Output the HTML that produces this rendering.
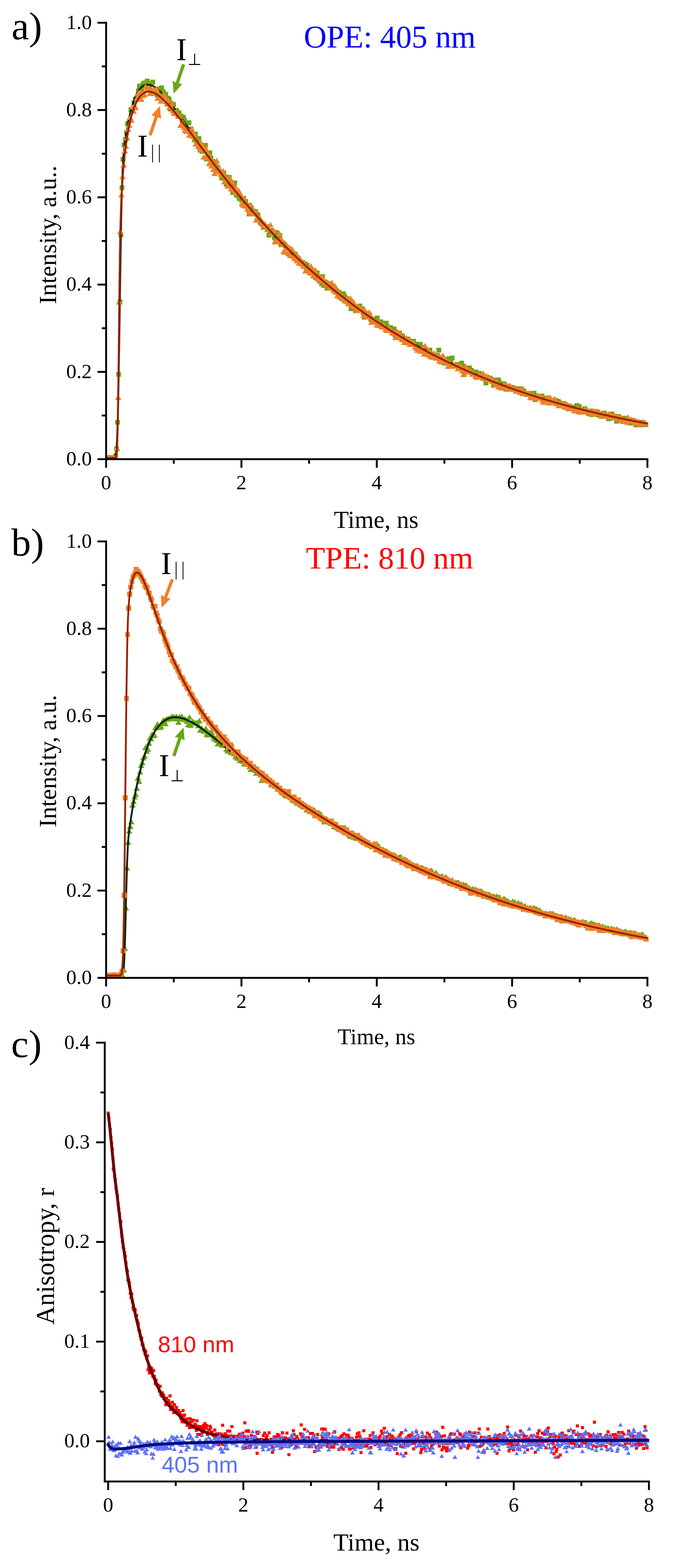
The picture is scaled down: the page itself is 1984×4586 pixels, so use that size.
<!DOCTYPE html><html><head><meta charset="utf-8"><title>Fluorescence decays and anisotropy</title><style>html,body{margin:0;padding:0;background:#fff}svg{display:block}.tk{font-family:'Liberation Serif','Times New Roman',serif;font-size:60px;fill:#000}</style></head><body>
<svg width="1984" height="4586" viewBox="0 0 1984 4586">
<rect width="1984" height="4586" fill="#fff"/>
<defs><clipPath id="cA"><rect x="310.5" y="40" width="1620" height="1303"/></clipPath><clipPath id="cB"><rect x="310.5" y="1560" width="1620" height="1300"/></clipPath><clipPath id="cC"><rect x="306.5" y="3020" width="1620" height="1312"/></clipPath></defs>
<g clip-path="url(#cA)">
<path fill="#6aa616" shape-rendering="crispEdges" d="M305.1 1332.2h14v14h-14zM308.3 1330.9h14v14h-14zM311.5 1331.0h14v14h-14zM314.7 1332.7h14v14h-14zM317.9 1332.5h14v14h-14zM321.1 1332.7h14v14h-14zM324.3 1331.6h14v14h-14zM327.5 1331.4h14v14h-14zM330.7 1325.5h14v14h-14zM334.0 1306.0h14v14h-14zM337.2 1228.2h14v14h-14zM340.4 1088.1h14v14h-14zM343.6 875.8h14v14h-14zM346.8 680.3h14v14h-14zM350.0 542.3h14v14h-14zM353.2 459.4h14v14h-14zM356.4 417.4h14v14h-14zM359.6 402.2h14v14h-14zM362.8 381.4h14v14h-14zM366.0 355.1h14v14h-14zM369.2 354.1h14v14h-14zM372.4 345.8h14v14h-14zM375.7 313.7h14v14h-14zM378.9 312.6h14v14h-14zM382.1 314.7h14v14h-14zM385.3 294.2h14v14h-14zM388.5 282.5h14v14h-14zM391.7 282.8h14v14h-14zM394.9 279.6h14v14h-14zM398.1 258.6h14v14h-14zM401.3 245.2h14v14h-14zM404.5 253.0h14v14h-14zM407.7 255.2h14v14h-14zM410.9 241.0h14v14h-14zM414.1 235.7h14v14h-14zM417.4 244.9h14v14h-14zM420.6 235.3h14v14h-14zM423.8 229.8h14v14h-14zM427.0 242.7h14v14h-14zM430.2 249.4h14v14h-14zM433.4 238.2h14v14h-14zM436.6 240.4h14v14h-14zM439.8 233.1h14v14h-14zM443.0 259.4h14v14h-14zM446.2 255.0h14v14h-14zM449.4 259.1h14v14h-14zM452.6 270.8h14v14h-14zM455.8 254.3h14v14h-14zM459.0 253.0h14v14h-14zM462.3 269.1h14v14h-14zM465.5 250.4h14v14h-14zM468.7 259.6h14v14h-14zM471.9 265.0h14v14h-14zM475.1 270.9h14v14h-14zM478.3 269.0h14v14h-14zM481.5 296.1h14v14h-14zM484.7 280.2h14v14h-14zM487.9 284.3h14v14h-14zM491.1 312.4h14v14h-14zM494.3 295.1h14v14h-14zM497.5 305.3h14v14h-14zM500.7 299.1h14v14h-14zM504.0 315.7h14v14h-14zM507.2 315.8h14v14h-14zM510.4 316.5h14v14h-14zM513.6 333.1h14v14h-14zM516.8 322.8h14v14h-14zM520.0 334.3h14v14h-14zM523.2 332.8h14v14h-14zM526.4 347.4h14v14h-14zM529.6 335.9h14v14h-14zM532.8 345.2h14v14h-14zM536.0 357.5h14v14h-14zM539.2 354.1h14v14h-14zM542.4 352.5h14v14h-14zM545.7 351.8h14v14h-14zM548.9 389.3h14v14h-14zM552.1 369.9h14v14h-14zM555.3 378.5h14v14h-14zM558.5 388.5h14v14h-14zM561.7 401.9h14v14h-14zM564.9 384.5h14v14h-14zM568.1 413.4h14v14h-14zM571.3 400.3h14v14h-14zM574.5 397.7h14v14h-14zM577.7 430.1h14v14h-14zM580.9 422.1h14v14h-14zM584.1 436.2h14v14h-14zM587.4 425.9h14v14h-14zM590.6 418.3h14v14h-14zM593.8 417.9h14v14h-14zM597.0 458.4h14v14h-14zM600.2 451.4h14v14h-14zM603.4 443.7h14v14h-14zM606.6 439.9h14v14h-14zM609.8 455.2h14v14h-14zM613.0 470.5h14v14h-14zM616.2 465.0h14v14h-14zM619.4 472.3h14v14h-14zM622.6 478.3h14v14h-14zM625.8 487.5h14v14h-14zM629.1 481.4h14v14h-14zM632.3 486.4h14v14h-14zM635.5 494.4h14v14h-14zM638.7 499.8h14v14h-14zM641.9 513.7h14v14h-14zM645.1 510.5h14v14h-14zM648.3 499.3h14v14h-14zM651.5 516.1h14v14h-14zM654.7 531.6h14v14h-14zM657.9 510.6h14v14h-14zM661.1 522.0h14v14h-14zM664.3 511.8h14v14h-14zM667.5 534.3h14v14h-14zM670.8 543.0h14v14h-14zM674.0 555.9h14v14h-14zM677.2 535.1h14v14h-14zM680.4 528.1h14v14h-14zM683.6 562.2h14v14h-14zM686.8 564.5h14v14h-14zM690.0 557.5h14v14h-14zM693.2 574.0h14v14h-14zM696.4 572.9h14v14h-14zM699.6 577.5h14v14h-14zM702.8 576.6h14v14h-14zM706.0 572.5h14v14h-14zM709.2 585.7h14v14h-14zM712.4 581.7h14v14h-14zM715.7 597.1h14v14h-14zM718.9 594.4h14v14h-14zM722.1 619.4h14v14h-14zM725.3 617.2h14v14h-14zM728.5 601.6h14v14h-14zM731.7 617.2h14v14h-14zM734.9 610.8h14v14h-14zM738.1 614.8h14v14h-14zM741.3 611.9h14v14h-14zM744.5 619.8h14v14h-14zM747.7 621.7h14v14h-14zM750.9 634.8h14v14h-14zM754.1 643.4h14v14h-14zM757.4 647.2h14v14h-14zM760.6 648.6h14v14h-14zM763.8 657.5h14v14h-14zM767.0 656.1h14v14h-14zM770.2 655.8h14v14h-14zM773.4 656.4h14v14h-14zM776.6 664.8h14v14h-14zM779.8 681.3h14v14h-14zM783.0 669.4h14v14h-14zM786.2 670.4h14v14h-14zM789.4 666.7h14v14h-14zM792.6 674.2h14v14h-14zM795.8 687.6h14v14h-14zM799.1 691.5h14v14h-14zM802.3 672.6h14v14h-14zM805.5 686.1h14v14h-14zM808.7 680.8h14v14h-14zM811.9 681.7h14v14h-14zM815.1 708.7h14v14h-14zM818.3 702.2h14v14h-14zM821.5 704.9h14v14h-14zM824.7 707.3h14v14h-14zM827.9 710.6h14v14h-14zM831.1 716.5h14v14h-14zM834.3 719.9h14v14h-14zM837.5 736.3h14v14h-14zM840.8 728.8h14v14h-14zM844.0 736.5h14v14h-14zM847.2 732.8h14v14h-14zM850.4 740.5h14v14h-14zM853.6 735.1h14v14h-14zM856.8 736.6h14v14h-14zM860.0 743.6h14v14h-14zM863.2 746.6h14v14h-14zM866.4 751.3h14v14h-14zM869.6 758.5h14v14h-14zM872.8 759.3h14v14h-14zM876.0 764.8h14v14h-14zM879.2 760.9h14v14h-14zM882.5 766.7h14v14h-14zM885.7 765.3h14v14h-14zM888.9 782.8h14v14h-14zM892.1 768.8h14v14h-14zM895.3 784.2h14v14h-14zM898.5 786.8h14v14h-14zM901.7 785.6h14v14h-14zM904.9 791.2h14v14h-14zM908.1 787.6h14v14h-14zM911.3 796.9h14v14h-14zM914.5 803.4h14v14h-14zM917.7 804.5h14v14h-14zM920.9 791.2h14v14h-14zM924.2 803.4h14v14h-14zM927.4 815.1h14v14h-14zM930.6 809.1h14v14h-14zM933.8 823.3h14v14h-14zM937.0 801.5h14v14h-14zM940.2 828.4h14v14h-14zM943.4 816.5h14v14h-14zM946.6 818.7h14v14h-14zM949.8 835.8h14v14h-14zM953.0 825.7h14v14h-14zM956.2 823.3h14v14h-14zM959.4 829.8h14v14h-14zM962.6 833.9h14v14h-14zM965.8 831.5h14v14h-14zM969.1 839.7h14v14h-14zM972.3 841.1h14v14h-14zM975.5 846.9h14v14h-14zM978.7 844.1h14v14h-14zM981.9 857.7h14v14h-14zM985.1 848.0h14v14h-14zM988.3 859.6h14v14h-14zM991.5 866.2h14v14h-14zM994.7 858.5h14v14h-14zM997.9 851.7h14v14h-14zM1001.1 859.2h14v14h-14zM1004.3 871.9h14v14h-14zM1007.5 865.9h14v14h-14zM1010.8 876.3h14v14h-14zM1014.0 876.5h14v14h-14zM1017.2 877.4h14v14h-14zM1020.4 896.3h14v14h-14zM1023.6 881.4h14v14h-14zM1026.8 892.1h14v14h-14zM1030.0 892.2h14v14h-14zM1033.2 899.8h14v14h-14zM1036.4 902.4h14v14h-14zM1039.6 900.8h14v14h-14zM1042.8 891.1h14v14h-14zM1046.0 887.8h14v14h-14zM1049.2 901.4h14v14h-14zM1052.5 896.2h14v14h-14zM1055.7 907.5h14v14h-14zM1058.9 920.7h14v14h-14zM1062.1 909.2h14v14h-14zM1065.3 909.5h14v14h-14zM1068.5 917.5h14v14h-14zM1071.7 914.9h14v14h-14zM1074.9 915.3h14v14h-14zM1078.1 926.9h14v14h-14zM1081.3 933.1h14v14h-14zM1084.5 927.0h14v14h-14zM1087.7 929.1h14v14h-14zM1090.9 932.1h14v14h-14zM1094.2 925.6h14v14h-14zM1097.4 922.9h14v14h-14zM1100.6 938.9h14v14h-14zM1103.8 933.8h14v14h-14zM1107.0 934.3h14v14h-14zM1110.2 937.8h14v14h-14zM1113.4 937.8h14v14h-14zM1116.6 949.0h14v14h-14zM1119.8 943.9h14v14h-14zM1123.0 937.8h14v14h-14zM1126.2 947.5h14v14h-14zM1129.4 958.5h14v14h-14zM1132.6 952.8h14v14h-14zM1135.9 950.7h14v14h-14zM1139.1 958.3h14v14h-14zM1142.3 966.1h14v14h-14zM1145.5 954.9h14v14h-14zM1148.7 974.3h14v14h-14zM1151.9 965.3h14v14h-14zM1155.1 970.5h14v14h-14zM1158.3 979.7h14v14h-14zM1161.5 966.7h14v14h-14zM1164.7 974.0h14v14h-14zM1167.9 985.2h14v14h-14zM1171.1 976.2h14v14h-14zM1174.3 984.4h14v14h-14zM1177.6 995.2h14v14h-14zM1180.8 989.7h14v14h-14zM1184.0 985.8h14v14h-14zM1187.2 985.4h14v14h-14zM1190.4 990.0h14v14h-14zM1193.6 992.6h14v14h-14zM1196.8 991.9h14v14h-14zM1200.0 997.7h14v14h-14zM1203.2 991.3h14v14h-14zM1206.4 999.2h14v14h-14zM1209.6 1000.1h14v14h-14zM1212.8 1000.4h14v14h-14zM1216.0 1011.6h14v14h-14zM1219.2 1011.3h14v14h-14zM1222.5 999.9h14v14h-14zM1225.7 1008.7h14v14h-14zM1228.9 1014.0h14v14h-14zM1232.1 1012.1h14v14h-14zM1235.3 1018.6h14v14h-14zM1238.5 1015.9h14v14h-14zM1241.7 1023.0h14v14h-14zM1244.9 1019.3h14v14h-14zM1248.1 1031.6h14v14h-14zM1251.3 1016.6h14v14h-14zM1254.5 1028.8h14v14h-14zM1257.7 1036.5h14v14h-14zM1260.9 1030.4h14v14h-14zM1264.2 1032.9h14v14h-14zM1267.4 1031.6h14v14h-14zM1270.6 1040.5h14v14h-14zM1273.8 1033.4h14v14h-14zM1277.0 1016.9h14v14h-14zM1280.2 1046.0h14v14h-14zM1283.4 1038.6h14v14h-14zM1286.6 1043.8h14v14h-14zM1289.8 1042.5h14v14h-14zM1293.0 1055.2h14v14h-14zM1296.2 1053.1h14v14h-14zM1299.4 1045.7h14v14h-14zM1302.6 1050.0h14v14h-14zM1305.9 1042.4h14v14h-14zM1309.1 1056.7h14v14h-14zM1312.3 1053.4h14v14h-14zM1315.5 1040.0h14v14h-14zM1318.7 1061.6h14v14h-14zM1321.9 1063.8h14v14h-14zM1325.1 1060.6h14v14h-14zM1328.3 1062.1h14v14h-14zM1331.5 1058.8h14v14h-14zM1334.7 1064.1h14v14h-14zM1337.9 1070.3h14v14h-14zM1341.1 1066.6h14v14h-14zM1344.3 1055.1h14v14h-14zM1347.6 1063.9h14v14h-14zM1350.8 1086.8h14v14h-14zM1354.0 1074.2h14v14h-14zM1357.2 1079.5h14v14h-14zM1360.4 1073.0h14v14h-14zM1363.6 1078.6h14v14h-14zM1366.8 1069.0h14v14h-14zM1370.0 1075.7h14v14h-14zM1373.2 1077.3h14v14h-14zM1376.4 1082.3h14v14h-14zM1379.6 1084.9h14v14h-14zM1382.8 1084.3h14v14h-14zM1386.0 1080.7h14v14h-14zM1389.3 1086.0h14v14h-14zM1392.5 1091.9h14v14h-14zM1395.7 1084.9h14v14h-14zM1398.9 1091.7h14v14h-14zM1402.1 1094.4h14v14h-14zM1405.3 1099.4h14v14h-14zM1408.5 1099.5h14v14h-14zM1411.7 1101.2h14v14h-14zM1414.9 1113.4h14v14h-14zM1418.1 1095.5h14v14h-14zM1421.3 1099.0h14v14h-14zM1424.5 1104.2h14v14h-14zM1427.7 1099.2h14v14h-14zM1431.0 1103.5h14v14h-14zM1434.2 1105.1h14v14h-14zM1437.4 1120.4h14v14h-14zM1440.6 1110.6h14v14h-14zM1443.8 1108.1h14v14h-14zM1447.0 1104.0h14v14h-14zM1450.2 1104.1h14v14h-14zM1453.4 1107.4h14v14h-14zM1456.6 1121.3h14v14h-14zM1459.8 1127.5h14v14h-14zM1463.0 1115.2h14v14h-14zM1466.2 1119.1h14v14h-14zM1469.4 1115.8h14v14h-14zM1472.7 1122.2h14v14h-14zM1475.9 1121.7h14v14h-14zM1479.1 1131.1h14v14h-14zM1482.3 1123.0h14v14h-14zM1485.5 1128.4h14v14h-14zM1488.7 1125.8h14v14h-14zM1491.9 1126.4h14v14h-14zM1495.1 1130.3h14v14h-14zM1498.3 1129.4h14v14h-14zM1501.5 1132.1h14v14h-14zM1504.7 1129.6h14v14h-14zM1507.9 1131.9h14v14h-14zM1511.1 1137.9h14v14h-14zM1514.3 1139.2h14v14h-14zM1517.6 1129.5h14v14h-14zM1520.8 1139.2h14v14h-14zM1524.0 1135.2h14v14h-14zM1527.2 1139.1h14v14h-14zM1530.4 1144.6h14v14h-14zM1533.6 1146.5h14v14h-14zM1536.8 1143.6h14v14h-14zM1540.0 1144.0h14v14h-14zM1543.2 1143.5h14v14h-14zM1546.4 1153.1h14v14h-14zM1549.6 1151.1h14v14h-14zM1552.8 1149.9h14v14h-14zM1556.0 1143.3h14v14h-14zM1559.3 1162.1h14v14h-14zM1562.5 1150.6h14v14h-14zM1565.7 1156.0h14v14h-14zM1568.9 1152.7h14v14h-14zM1572.1 1157.8h14v14h-14zM1575.3 1155.0h14v14h-14zM1578.5 1150.7h14v14h-14zM1581.7 1157.1h14v14h-14zM1584.9 1157.8h14v14h-14zM1588.1 1159.0h14v14h-14zM1591.3 1164.9h14v14h-14zM1594.5 1160.3h14v14h-14zM1597.7 1164.5h14v14h-14zM1601.0 1168.1h14v14h-14zM1604.2 1165.7h14v14h-14zM1607.4 1167.5h14v14h-14zM1610.6 1164.2h14v14h-14zM1613.8 1168.6h14v14h-14zM1617.0 1171.7h14v14h-14zM1620.2 1164.1h14v14h-14zM1623.4 1167.0h14v14h-14zM1626.6 1166.8h14v14h-14zM1629.8 1170.6h14v14h-14zM1633.0 1174.5h14v14h-14zM1636.2 1176.8h14v14h-14zM1639.4 1177.1h14v14h-14zM1642.7 1172.8h14v14h-14zM1645.9 1177.3h14v14h-14zM1649.1 1184.9h14v14h-14zM1652.3 1179.7h14v14h-14zM1655.5 1186.3h14v14h-14zM1658.7 1180.6h14v14h-14zM1661.9 1187.2h14v14h-14zM1665.1 1188.3h14v14h-14zM1668.3 1183.5h14v14h-14zM1671.5 1185.2h14v14h-14zM1674.7 1192.5h14v14h-14zM1677.9 1183.5h14v14h-14zM1681.1 1178.6h14v14h-14zM1684.4 1194.3h14v14h-14zM1687.6 1181.7h14v14h-14zM1690.8 1192.8h14v14h-14zM1694.0 1192.8h14v14h-14zM1697.2 1192.4h14v14h-14zM1700.4 1198.3h14v14h-14zM1703.6 1188.1h14v14h-14zM1706.8 1192.2h14v14h-14zM1710.0 1198.0h14v14h-14zM1713.2 1196.9h14v14h-14zM1716.4 1202.7h14v14h-14zM1719.6 1198.8h14v14h-14zM1722.8 1194.5h14v14h-14zM1726.1 1205.8h14v14h-14zM1729.3 1201.6h14v14h-14zM1732.5 1200.1h14v14h-14zM1735.7 1197.3h14v14h-14zM1738.9 1197.0h14v14h-14zM1742.1 1204.8h14v14h-14zM1745.3 1206.7h14v14h-14zM1748.5 1202.8h14v14h-14zM1751.7 1206.7h14v14h-14zM1754.9 1207.3h14v14h-14zM1758.1 1202.7h14v14h-14zM1761.3 1201.1h14v14h-14zM1764.5 1207.4h14v14h-14zM1767.7 1209.9h14v14h-14zM1771.0 1207.7h14v14h-14zM1774.2 1217.8h14v14h-14zM1777.4 1211.4h14v14h-14zM1780.6 1216.1h14v14h-14zM1783.8 1203.8h14v14h-14zM1787.0 1210.9h14v14h-14zM1790.2 1213.8h14v14h-14zM1793.4 1215.8h14v14h-14zM1796.6 1225.1h14v14h-14zM1799.8 1213.8h14v14h-14zM1803.0 1211.1h14v14h-14zM1806.2 1220.6h14v14h-14zM1809.4 1216.1h14v14h-14zM1812.7 1216.6h14v14h-14zM1815.9 1225.7h14v14h-14zM1819.1 1217.2h14v14h-14zM1822.3 1216.4h14v14h-14zM1825.5 1221.2h14v14h-14zM1828.7 1223.0h14v14h-14zM1831.9 1220.6h14v14h-14zM1835.1 1229.7h14v14h-14zM1838.3 1224.4h14v14h-14zM1841.5 1221.6h14v14h-14zM1844.7 1230.6h14v14h-14zM1847.9 1223.2h14v14h-14zM1851.1 1228.9h14v14h-14zM1854.4 1235.5h14v14h-14zM1857.6 1229.1h14v14h-14zM1860.8 1232.9h14v14h-14zM1864.0 1228.9h14v14h-14zM1867.2 1234.8h14v14h-14zM1870.4 1227.6h14v14h-14zM1873.6 1234.6h14v14h-14zM1876.8 1231.4h14v14h-14zM1880.0 1235.3h14v14h-14zM1883.2 1235.0h14v14h-14z"/>
<path fill="none" stroke="#00260c" stroke-width="5.4" stroke-linejoin="round" stroke-linecap="butt" d="M310.5 1339.2 331.5 1339.1 333.0 1338.9 334.3 1338.3 335.2 1337.8 336.2 1336.7 337.1 1335.0 337.9 1332.6 338.7 1329.2 339.4 1324.8 340.7 1313.3 341.9 1296.9 343.0 1272.4 344.2 1240.4 345.4 1194.9 346.4 1144.4 348.3 1037.0 353.1 726.5 354.6 642.5 355.9 583.5 357.5 529.1 359.2 489.6 361.0 458.1 363.4 432.3 365.6 414.4 368.6 394.6 372.2 373.4 376.1 353.3 379.9 335.7 383.8 320.2 387.8 306.3 391.9 293.9 396.1 283.2 400.4 274.2 404.9 266.4 409.5 259.9 411.9 257.3 414.4 254.8 417.1 252.6 419.6 251.0 422.3 249.6 425.1 248.6 427.5 248.0 430.5 247.6 433.5 247.6 436.4 247.9 439.4 248.6 442.2 249.5 445.4 250.8 448.6 252.4 455.3 256.6 462.4 262.2 470.1 269.3 478.1 277.6 487.0 287.7 494.3 296.6 502.0 306.5 520.0 330.5 537.2 354.5 588.0 426.3 618.8 468.8 644.3 502.9 669.3 535.3 685.8 556.0 702.3 576.2 718.9 596.1 735.5 615.5 752.4 634.6 769.4 653.6 786.4 672.0 803.6 690.1 820.0 706.9 836.6 723.6 853.4 740.0 870.0 755.9 886.9 771.5 904.0 786.9 921.2 802.1 938.7 817.1 956.3 831.9 973.8 846.1 991.8 860.3 1009.6 874.1 1028.0 887.9 1046.2 901.1 1064.6 914.1 1083.5 927.2 1104.3 941.0 1125.7 954.9 1146.9 968.1 1168.7 981.4 1190.3 994.0 1212.5 1006.6 1234.9 1018.8 1257.4 1030.7 1280.1 1042.3 1303.4 1053.8 1326.9 1065.0 1350.5 1075.8 1374.3 1086.3 1398.7 1096.7 1423.2 1106.8 1448.3 1116.7 1473.6 1126.3 1498.9 1135.6 1524.9 1144.7 1550.9 1153.5 1577.5 1162.1 1604.3 1170.5 1631.6 1178.6 1659.5 1186.6 1687.4 1194.3 1716.0 1201.7 1745.1 1209.0 1774.3 1216.0 1804.0 1222.8 1834.3 1229.4 1865.1 1235.9 1896.0 1242.0"/>
<path fill="#ee8128" shape-rendering="crispEdges" d="M310.5 1329.6l9.5 16.454h-19zM313.7 1330.6l9.5 16.454h-19zM316.9 1331.2l9.5 16.454h-19zM320.1 1332.0l9.5 16.454h-19zM323.3 1329.6l9.5 16.454h-19zM326.5 1330.0l9.5 16.454h-19zM329.7 1331.0l9.5 16.454h-19zM333.0 1330.4l9.5 16.454h-19zM336.2 1331.5l9.5 16.454h-19zM339.4 1329.8l9.5 16.454h-19zM342.6 1302.6l9.5 16.454h-19zM345.8 1153.7l9.5 16.454h-19zM349.0 874.5l9.5 16.454h-19zM352.2 668.5l9.5 16.454h-19zM355.4 560.8l9.5 16.454h-19zM358.6 507.6l9.5 16.454h-19zM361.8 473.2l9.5 16.454h-19zM365.0 432.6l9.5 16.454h-19zM368.2 418.4l9.5 16.454h-19zM371.4 394.1l9.5 16.454h-19zM374.7 369.1l9.5 16.454h-19zM377.9 357.4l9.5 16.454h-19zM381.1 334.5l9.5 16.454h-19zM384.3 342.1l9.5 16.454h-19zM387.5 304.0l9.5 16.454h-19zM390.7 316.2l9.5 16.454h-19zM393.9 301.2l9.5 16.454h-19zM397.1 305.7l9.5 16.454h-19zM400.3 278.8l9.5 16.454h-19zM403.5 265.9l9.5 16.454h-19zM406.7 262.7l9.5 16.454h-19zM409.9 260.6l9.5 16.454h-19zM413.1 281.4l9.5 16.454h-19zM416.4 270.3l9.5 16.454h-19zM419.6 264.4l9.5 16.454h-19zM422.8 267.2l9.5 16.454h-19zM426.0 244.4l9.5 16.454h-19zM429.2 253.1l9.5 16.454h-19zM432.4 254.6l9.5 16.454h-19zM435.6 249.1l9.5 16.454h-19zM438.8 264.2l9.5 16.454h-19zM442.0 264.3l9.5 16.454h-19zM445.2 264.9l9.5 16.454h-19zM448.4 251.9l9.5 16.454h-19zM451.6 255.0l9.5 16.454h-19zM454.8 254.4l9.5 16.454h-19zM458.0 251.2l9.5 16.454h-19zM461.3 278.6l9.5 16.454h-19zM464.5 272.9l9.5 16.454h-19zM467.7 268.3l9.5 16.454h-19zM470.9 286.5l9.5 16.454h-19zM474.1 281.2l9.5 16.454h-19zM477.3 268.5l9.5 16.454h-19zM480.5 271.0l9.5 16.454h-19zM483.7 274.7l9.5 16.454h-19zM486.9 288.8l9.5 16.454h-19zM490.1 295.1l9.5 16.454h-19zM493.3 285.7l9.5 16.454h-19zM496.5 304.2l9.5 16.454h-19zM499.7 300.9l9.5 16.454h-19zM503.0 294.9l9.5 16.454h-19zM506.2 316.0l9.5 16.454h-19zM509.4 322.5l9.5 16.454h-19zM512.6 320.5l9.5 16.454h-19zM515.8 318.6l9.5 16.454h-19zM519.0 323.9l9.5 16.454h-19zM522.2 331.3l9.5 16.454h-19zM525.4 331.6l9.5 16.454h-19zM528.6 357.2l9.5 16.454h-19zM531.8 354.1l9.5 16.454h-19zM535.0 348.2l9.5 16.454h-19zM538.2 363.3l9.5 16.454h-19zM541.4 371.6l9.5 16.454h-19zM544.7 374.6l9.5 16.454h-19zM547.9 376.0l9.5 16.454h-19zM551.1 373.0l9.5 16.454h-19zM554.3 385.6l9.5 16.454h-19zM557.5 377.6l9.5 16.454h-19zM560.7 367.7l9.5 16.454h-19zM563.9 390.0l9.5 16.454h-19zM567.1 380.5l9.5 16.454h-19zM570.3 394.4l9.5 16.454h-19zM573.5 412.3l9.5 16.454h-19zM576.7 408.3l9.5 16.454h-19zM579.9 419.6l9.5 16.454h-19zM583.1 407.1l9.5 16.454h-19zM586.4 429.8l9.5 16.454h-19zM589.6 410.4l9.5 16.454h-19zM592.8 421.8l9.5 16.454h-19zM596.0 450.9l9.5 16.454h-19zM599.2 428.5l9.5 16.454h-19zM602.4 425.5l9.5 16.454h-19zM605.6 451.9l9.5 16.454h-19zM608.8 439.4l9.5 16.454h-19zM612.0 469.8l9.5 16.454h-19zM615.2 454.8l9.5 16.454h-19zM618.4 476.9l9.5 16.454h-19zM621.6 461.1l9.5 16.454h-19zM624.8 486.4l9.5 16.454h-19zM628.1 498.4l9.5 16.454h-19zM631.3 474.5l9.5 16.454h-19zM634.5 461.1l9.5 16.454h-19zM637.7 492.0l9.5 16.454h-19zM640.9 482.9l9.5 16.454h-19zM644.1 493.7l9.5 16.454h-19zM647.3 501.8l9.5 16.454h-19zM650.5 497.3l9.5 16.454h-19zM653.7 492.0l9.5 16.454h-19zM656.9 522.3l9.5 16.454h-19zM660.1 510.0l9.5 16.454h-19zM663.3 516.0l9.5 16.454h-19zM666.5 536.0l9.5 16.454h-19zM669.8 512.6l9.5 16.454h-19zM673.0 513.6l9.5 16.454h-19zM676.2 543.7l9.5 16.454h-19zM679.4 523.5l9.5 16.454h-19zM682.6 542.5l9.5 16.454h-19zM685.8 548.4l9.5 16.454h-19zM689.0 537.5l9.5 16.454h-19zM692.2 552.7l9.5 16.454h-19zM695.4 555.8l9.5 16.454h-19zM698.6 549.1l9.5 16.454h-19zM701.8 555.0l9.5 16.454h-19zM705.0 562.3l9.5 16.454h-19zM708.2 586.2l9.5 16.454h-19zM711.5 591.5l9.5 16.454h-19zM714.7 571.7l9.5 16.454h-19zM717.9 593.4l9.5 16.454h-19zM721.1 587.8l9.5 16.454h-19zM724.3 602.1l9.5 16.454h-19zM727.5 598.1l9.5 16.454h-19zM730.7 611.3l9.5 16.454h-19zM733.9 589.9l9.5 16.454h-19zM737.1 616.3l9.5 16.454h-19zM740.3 612.3l9.5 16.454h-19zM743.5 616.5l9.5 16.454h-19zM746.7 608.3l9.5 16.454h-19zM749.9 634.2l9.5 16.454h-19zM753.1 626.0l9.5 16.454h-19zM756.4 631.1l9.5 16.454h-19zM759.6 628.4l9.5 16.454h-19zM762.8 632.4l9.5 16.454h-19zM766.0 643.8l9.5 16.454h-19zM769.2 641.5l9.5 16.454h-19zM772.4 650.1l9.5 16.454h-19zM775.6 646.5l9.5 16.454h-19zM778.8 654.8l9.5 16.454h-19zM782.0 662.8l9.5 16.454h-19zM785.2 661.0l9.5 16.454h-19zM788.4 661.2l9.5 16.454h-19zM791.6 649.0l9.5 16.454h-19zM794.8 675.0l9.5 16.454h-19zM798.1 671.9l9.5 16.454h-19zM801.3 665.8l9.5 16.454h-19zM804.5 698.0l9.5 16.454h-19zM807.7 698.6l9.5 16.454h-19zM810.9 697.4l9.5 16.454h-19zM814.1 692.0l9.5 16.454h-19zM817.3 674.6l9.5 16.454h-19zM820.5 694.5l9.5 16.454h-19zM823.7 691.2l9.5 16.454h-19zM826.9 705.9l9.5 16.454h-19zM830.1 727.0l9.5 16.454h-19zM833.3 729.0l9.5 16.454h-19zM836.5 705.6l9.5 16.454h-19zM839.8 715.4l9.5 16.454h-19zM843.0 730.4l9.5 16.454h-19zM846.2 714.4l9.5 16.454h-19zM849.4 738.5l9.5 16.454h-19zM852.6 720.6l9.5 16.454h-19zM855.8 721.2l9.5 16.454h-19zM859.0 741.7l9.5 16.454h-19zM862.2 747.4l9.5 16.454h-19zM865.4 735.3l9.5 16.454h-19zM868.6 753.4l9.5 16.454h-19zM871.8 741.3l9.5 16.454h-19zM875.0 760.2l9.5 16.454h-19zM878.2 747.7l9.5 16.454h-19zM881.5 756.2l9.5 16.454h-19zM884.7 763.3l9.5 16.454h-19zM887.9 769.8l9.5 16.454h-19zM891.1 764.0l9.5 16.454h-19zM894.3 783.2l9.5 16.454h-19zM897.5 773.8l9.5 16.454h-19zM900.7 777.6l9.5 16.454h-19zM903.9 772.4l9.5 16.454h-19zM907.1 789.9l9.5 16.454h-19zM910.3 770.4l9.5 16.454h-19zM913.5 788.5l9.5 16.454h-19zM916.7 797.5l9.5 16.454h-19zM919.9 781.5l9.5 16.454h-19zM923.2 782.3l9.5 16.454h-19zM926.4 798.8l9.5 16.454h-19zM929.6 806.8l9.5 16.454h-19zM932.8 802.9l9.5 16.454h-19zM936.0 810.9l9.5 16.454h-19zM939.2 810.8l9.5 16.454h-19zM942.4 799.8l9.5 16.454h-19zM945.6 811.1l9.5 16.454h-19zM948.8 815.6l9.5 16.454h-19zM952.0 816.9l9.5 16.454h-19zM955.2 822.5l9.5 16.454h-19zM958.4 818.7l9.5 16.454h-19zM961.6 821.1l9.5 16.454h-19zM964.9 832.7l9.5 16.454h-19zM968.1 831.9l9.5 16.454h-19zM971.3 818.0l9.5 16.454h-19zM974.5 834.9l9.5 16.454h-19zM977.7 841.8l9.5 16.454h-19zM980.9 828.5l9.5 16.454h-19zM984.1 845.6l9.5 16.454h-19zM987.3 856.0l9.5 16.454h-19zM990.5 846.0l9.5 16.454h-19zM993.7 859.7l9.5 16.454h-19zM996.9 859.3l9.5 16.454h-19zM1000.1 856.1l9.5 16.454h-19zM1003.3 861.7l9.5 16.454h-19zM1006.5 868.7l9.5 16.454h-19zM1009.8 869.6l9.5 16.454h-19zM1013.0 872.4l9.5 16.454h-19zM1016.2 862.6l9.5 16.454h-19zM1019.4 878.1l9.5 16.454h-19zM1022.6 879.5l9.5 16.454h-19zM1025.8 864.0l9.5 16.454h-19zM1029.0 884.2l9.5 16.454h-19zM1032.2 872.6l9.5 16.454h-19zM1035.4 876.2l9.5 16.454h-19zM1038.6 888.6l9.5 16.454h-19zM1041.8 899.5l9.5 16.454h-19zM1045.0 889.2l9.5 16.454h-19zM1048.2 890.0l9.5 16.454h-19zM1051.5 890.4l9.5 16.454h-19zM1054.7 898.7l9.5 16.454h-19zM1057.9 893.4l9.5 16.454h-19zM1061.1 894.5l9.5 16.454h-19zM1064.3 913.1l9.5 16.454h-19zM1067.5 898.8l9.5 16.454h-19zM1070.7 909.4l9.5 16.454h-19zM1073.9 916.6l9.5 16.454h-19zM1077.1 917.2l9.5 16.454h-19zM1080.3 904.9l9.5 16.454h-19zM1083.5 913.0l9.5 16.454h-19zM1086.7 933.4l9.5 16.454h-19zM1089.9 923.3l9.5 16.454h-19zM1093.2 927.0l9.5 16.454h-19zM1096.4 929.4l9.5 16.454h-19zM1099.6 933.7l9.5 16.454h-19zM1102.8 942.0l9.5 16.454h-19zM1106.0 929.1l9.5 16.454h-19zM1109.2 942.8l9.5 16.454h-19zM1112.4 941.3l9.5 16.454h-19zM1115.6 944.9l9.5 16.454h-19zM1118.8 947.8l9.5 16.454h-19zM1122.0 940.4l9.5 16.454h-19zM1125.2 944.8l9.5 16.454h-19zM1128.4 953.6l9.5 16.454h-19zM1131.6 957.3l9.5 16.454h-19zM1134.9 956.4l9.5 16.454h-19zM1138.1 949.4l9.5 16.454h-19zM1141.3 956.7l9.5 16.454h-19zM1144.5 958.0l9.5 16.454h-19zM1147.7 963.5l9.5 16.454h-19zM1150.9 965.1l9.5 16.454h-19zM1154.1 964.1l9.5 16.454h-19zM1157.3 978.9l9.5 16.454h-19zM1160.5 959.4l9.5 16.454h-19zM1163.7 976.2l9.5 16.454h-19zM1166.9 976.8l9.5 16.454h-19zM1170.1 967.0l9.5 16.454h-19zM1173.3 975.8l9.5 16.454h-19zM1176.6 978.8l9.5 16.454h-19zM1179.8 984.5l9.5 16.454h-19zM1183.0 992.3l9.5 16.454h-19zM1186.2 983.6l9.5 16.454h-19zM1189.4 979.4l9.5 16.454h-19zM1192.6 993.9l9.5 16.454h-19zM1195.8 982.1l9.5 16.454h-19zM1199.0 998.9l9.5 16.454h-19zM1202.2 998.4l9.5 16.454h-19zM1205.4 992.8l9.5 16.454h-19zM1208.6 997.6l9.5 16.454h-19zM1211.8 995.3l9.5 16.454h-19zM1215.0 1005.6l9.5 16.454h-19zM1218.3 1009.1l9.5 16.454h-19zM1221.5 1015.8l9.5 16.454h-19zM1224.7 1013.7l9.5 16.454h-19zM1227.9 1014.7l9.5 16.454h-19zM1231.1 1018.5l9.5 16.454h-19zM1234.3 1010.0l9.5 16.454h-19zM1237.5 1017.4l9.5 16.454h-19zM1240.7 1026.9l9.5 16.454h-19zM1243.9 1002.6l9.5 16.454h-19zM1247.1 1023.6l9.5 16.454h-19zM1250.3 1027.7l9.5 16.454h-19zM1253.5 1015.0l9.5 16.454h-19zM1256.7 1017.1l9.5 16.454h-19zM1259.9 1032.1l9.5 16.454h-19zM1263.2 1035.6l9.5 16.454h-19zM1266.4 1034.5l9.5 16.454h-19zM1269.6 1024.0l9.5 16.454h-19zM1272.8 1033.9l9.5 16.454h-19zM1276.0 1038.3l9.5 16.454h-19zM1279.2 1035.5l9.5 16.454h-19zM1282.4 1030.2l9.5 16.454h-19zM1285.6 1046.4l9.5 16.454h-19zM1288.8 1042.3l9.5 16.454h-19zM1292.0 1049.5l9.5 16.454h-19zM1295.2 1031.3l9.5 16.454h-19zM1298.4 1034.8l9.5 16.454h-19zM1301.6 1041.2l9.5 16.454h-19zM1304.9 1048.8l9.5 16.454h-19zM1308.1 1046.0l9.5 16.454h-19zM1311.3 1062.7l9.5 16.454h-19zM1314.5 1051.2l9.5 16.454h-19zM1317.7 1061.5l9.5 16.454h-19zM1320.9 1063.0l9.5 16.454h-19zM1324.1 1061.1l9.5 16.454h-19zM1327.3 1060.6l9.5 16.454h-19zM1330.5 1057.1l9.5 16.454h-19zM1333.7 1057.9l9.5 16.454h-19zM1336.9 1061.8l9.5 16.454h-19zM1340.1 1069.8l9.5 16.454h-19zM1343.3 1062.5l9.5 16.454h-19zM1346.6 1068.3l9.5 16.454h-19zM1349.8 1062.8l9.5 16.454h-19zM1353.0 1075.4l9.5 16.454h-19zM1356.2 1086.6l9.5 16.454h-19zM1359.4 1075.9l9.5 16.454h-19zM1362.6 1063.4l9.5 16.454h-19zM1365.8 1073.7l9.5 16.454h-19zM1369.0 1078.6l9.5 16.454h-19zM1372.2 1074.4l9.5 16.454h-19zM1375.4 1077.8l9.5 16.454h-19zM1378.6 1079.4l9.5 16.454h-19zM1381.8 1085.8l9.5 16.454h-19zM1385.0 1084.1l9.5 16.454h-19zM1388.3 1084.8l9.5 16.454h-19zM1391.5 1090.5l9.5 16.454h-19zM1394.7 1094.3l9.5 16.454h-19zM1397.9 1089.2l9.5 16.454h-19zM1401.1 1086.3l9.5 16.454h-19zM1404.3 1089.3l9.5 16.454h-19zM1407.5 1091.4l9.5 16.454h-19zM1410.7 1092.6l9.5 16.454h-19zM1413.9 1083.4l9.5 16.454h-19zM1417.1 1096.5l9.5 16.454h-19zM1420.3 1093.8l9.5 16.454h-19zM1423.5 1090.5l9.5 16.454h-19zM1426.7 1101.4l9.5 16.454h-19zM1430.0 1101.6l9.5 16.454h-19zM1433.2 1099.0l9.5 16.454h-19zM1436.4 1097.1l9.5 16.454h-19zM1439.6 1105.2l9.5 16.454h-19zM1442.8 1106.2l9.5 16.454h-19zM1446.0 1108.7l9.5 16.454h-19zM1449.2 1116.4l9.5 16.454h-19zM1452.4 1106.2l9.5 16.454h-19zM1455.6 1114.1l9.5 16.454h-19zM1458.8 1122.5l9.5 16.454h-19zM1462.0 1116.0l9.5 16.454h-19zM1465.2 1124.9l9.5 16.454h-19zM1468.4 1122.6l9.5 16.454h-19zM1471.7 1118.8l9.5 16.454h-19zM1474.9 1124.5l9.5 16.454h-19zM1478.1 1116.0l9.5 16.454h-19zM1481.3 1129.4l9.5 16.454h-19zM1484.5 1122.3l9.5 16.454h-19zM1487.7 1122.0l9.5 16.454h-19zM1490.9 1118.9l9.5 16.454h-19zM1494.1 1122.6l9.5 16.454h-19zM1497.3 1127.0l9.5 16.454h-19zM1500.5 1128.9l9.5 16.454h-19zM1503.7 1130.6l9.5 16.454h-19zM1506.9 1126.1l9.5 16.454h-19zM1510.1 1135.7l9.5 16.454h-19zM1513.3 1131.3l9.5 16.454h-19zM1516.6 1135.2l9.5 16.454h-19zM1519.8 1134.8l9.5 16.454h-19zM1523.0 1138.2l9.5 16.454h-19zM1526.2 1128.2l9.5 16.454h-19zM1529.4 1142.2l9.5 16.454h-19zM1532.6 1139.0l9.5 16.454h-19zM1535.8 1140.0l9.5 16.454h-19zM1539.0 1139.6l9.5 16.454h-19zM1542.2 1141.3l9.5 16.454h-19zM1545.4 1142.5l9.5 16.454h-19zM1548.6 1141.0l9.5 16.454h-19zM1551.8 1153.4l9.5 16.454h-19zM1555.0 1147.5l9.5 16.454h-19zM1558.3 1154.2l9.5 16.454h-19zM1561.5 1148.6l9.5 16.454h-19zM1564.7 1156.0l9.5 16.454h-19zM1567.9 1156.0l9.5 16.454h-19zM1571.1 1152.9l9.5 16.454h-19zM1574.3 1147.4l9.5 16.454h-19zM1577.5 1152.1l9.5 16.454h-19zM1580.7 1154.3l9.5 16.454h-19zM1583.9 1150.4l9.5 16.454h-19zM1587.1 1161.8l9.5 16.454h-19zM1590.3 1167.8l9.5 16.454h-19zM1593.5 1161.4l9.5 16.454h-19zM1596.7 1161.7l9.5 16.454h-19zM1600.0 1156.1l9.5 16.454h-19zM1603.2 1153.1l9.5 16.454h-19zM1606.4 1169.2l9.5 16.454h-19zM1609.6 1153.5l9.5 16.454h-19zM1612.8 1158.5l9.5 16.454h-19zM1616.0 1162.6l9.5 16.454h-19zM1619.2 1165.5l9.5 16.454h-19zM1622.4 1157.6l9.5 16.454h-19zM1625.6 1168.6l9.5 16.454h-19zM1628.8 1171.9l9.5 16.454h-19zM1632.0 1170.2l9.5 16.454h-19zM1635.2 1177.5l9.5 16.454h-19zM1638.4 1170.6l9.5 16.454h-19zM1641.7 1173.9l9.5 16.454h-19zM1644.9 1173.0l9.5 16.454h-19zM1648.1 1173.7l9.5 16.454h-19zM1651.3 1180.6l9.5 16.454h-19zM1654.5 1171.5l9.5 16.454h-19zM1657.7 1182.1l9.5 16.454h-19zM1660.9 1175.0l9.5 16.454h-19zM1664.1 1186.2l9.5 16.454h-19zM1667.3 1178.9l9.5 16.454h-19zM1670.5 1184.7l9.5 16.454h-19zM1673.7 1182.0l9.5 16.454h-19zM1676.9 1185.7l9.5 16.454h-19zM1680.1 1192.8l9.5 16.454h-19zM1683.4 1189.2l9.5 16.454h-19zM1686.6 1185.2l9.5 16.454h-19zM1689.8 1183.8l9.5 16.454h-19zM1693.0 1193.1l9.5 16.454h-19zM1696.2 1196.6l9.5 16.454h-19zM1699.4 1192.3l9.5 16.454h-19zM1702.6 1190.4l9.5 16.454h-19zM1705.8 1192.9l9.5 16.454h-19zM1709.0 1194.4l9.5 16.454h-19zM1712.2 1188.5l9.5 16.454h-19zM1715.4 1188.9l9.5 16.454h-19zM1718.6 1190.6l9.5 16.454h-19zM1721.8 1198.0l9.5 16.454h-19zM1725.1 1194.8l9.5 16.454h-19zM1728.3 1196.6l9.5 16.454h-19zM1731.5 1202.2l9.5 16.454h-19zM1734.7 1193.9l9.5 16.454h-19zM1737.9 1197.8l9.5 16.454h-19zM1741.1 1200.8l9.5 16.454h-19zM1744.3 1194.1l9.5 16.454h-19zM1747.5 1197.4l9.5 16.454h-19zM1750.7 1197.8l9.5 16.454h-19zM1753.9 1197.2l9.5 16.454h-19zM1757.1 1199.8l9.5 16.454h-19zM1760.3 1208.2l9.5 16.454h-19zM1763.5 1205.6l9.5 16.454h-19zM1766.8 1200.9l9.5 16.454h-19zM1770.0 1208.4l9.5 16.454h-19zM1773.2 1206.1l9.5 16.454h-19zM1776.4 1205.4l9.5 16.454h-19zM1779.6 1202.1l9.5 16.454h-19zM1782.8 1203.4l9.5 16.454h-19zM1786.0 1205.6l9.5 16.454h-19zM1789.2 1210.4l9.5 16.454h-19zM1792.4 1207.0l9.5 16.454h-19zM1795.6 1209.1l9.5 16.454h-19zM1798.8 1212.4l9.5 16.454h-19zM1802.0 1207.4l9.5 16.454h-19zM1805.2 1211.3l9.5 16.454h-19zM1808.4 1216.6l9.5 16.454h-19zM1811.7 1209.8l9.5 16.454h-19zM1814.9 1216.1l9.5 16.454h-19zM1818.1 1213.6l9.5 16.454h-19zM1821.3 1222.1l9.5 16.454h-19zM1824.5 1217.2l9.5 16.454h-19zM1827.7 1221.3l9.5 16.454h-19zM1830.9 1222.0l9.5 16.454h-19zM1834.1 1226.0l9.5 16.454h-19zM1837.3 1211.9l9.5 16.454h-19zM1840.5 1220.9l9.5 16.454h-19zM1843.7 1220.1l9.5 16.454h-19zM1846.9 1217.6l9.5 16.454h-19zM1850.1 1222.7l9.5 16.454h-19zM1853.4 1221.0l9.5 16.454h-19zM1856.6 1228.4l9.5 16.454h-19zM1859.8 1223.4l9.5 16.454h-19zM1863.0 1226.2l9.5 16.454h-19zM1866.2 1223.5l9.5 16.454h-19zM1869.4 1225.3l9.5 16.454h-19zM1872.6 1231.4l9.5 16.454h-19zM1875.8 1233.7l9.5 16.454h-19zM1879.0 1231.3l9.5 16.454h-19zM1882.2 1225.7l9.5 16.454h-19zM1885.4 1227.4l9.5 16.454h-19zM1888.6 1228.1l9.5 16.454h-19z"/>
<path fill="none" stroke="#992200" stroke-width="5.4" stroke-linejoin="round" stroke-linecap="butt" d="M310.5 1339.1 335.0 1339.1 337.0 1338.9 338.3 1338.3 339.0 1337.6 339.7 1336.3 340.6 1333.0 341.4 1326.5 342.2 1317.1 343.0 1300.1 343.8 1275.6 345.1 1208.6 346.4 1114.1 350.1 794.1 351.4 709.6 352.8 647.7 354.6 593.2 355.9 567.7 357.3 543.3 359.1 516.8 361.2 490.9 363.4 467.0 365.8 445.1 368.4 424.3 371.2 404.5 374.2 386.2 377.5 369.1 380.9 353.4 384.7 338.9 388.7 325.5 392.8 313.7 397.3 303.1 401.8 294.2 406.5 286.5 408.9 283.3 411.4 280.2 414.2 277.3 416.8 275.0 419.6 273.0 422.2 271.4 424.9 270.2 427.8 269.2 430.7 268.5 433.7 268.2 436.6 268.1 440.1 268.5 443.5 269.2 446.9 270.3 450.1 271.6 453.7 273.3 457.6 275.5 461.4 278.0 469.4 284.0 477.6 291.3 486.9 300.4 496.7 311.1 511.2 328.3 528.0 349.4 546.5 373.7 600.1 445.4 629.1 483.6 660.8 524.2 691.3 561.9 708.6 582.6 725.8 602.8 742.9 622.4 760.2 641.8 777.4 660.6 794.8 679.2 812.1 697.3 829.7 715.1 846.0 731.3 862.5 747.3 879.2 763.1 895.8 778.4 912.5 793.4 929.4 808.3 946.5 822.9 963.7 837.4 981.2 851.6 998.4 865.2 1015.8 878.7 1033.4 891.9 1051.1 904.9 1069.1 917.7 1087.1 930.2 1105.4 942.5 1125.9 955.9 1146.6 969.0 1167.5 981.8 1189.0 994.6 1210.2 1006.8 1232.1 1018.9 1253.7 1030.4 1275.9 1041.9 1298.3 1053.1 1320.8 1063.9 1343.5 1074.4 1366.3 1084.6 1389.7 1094.7 1413.3 1104.5 1437.0 1113.9 1461.3 1123.2 1485.7 1132.2 1510.6 1141.0 1535.7 1149.5 1560.9 1157.7 1586.7 1165.8 1612.6 1173.5 1639.0 1181.0 1665.6 1188.3 1692.7 1195.3 1720.3 1202.2 1748.0 1208.8 1776.3 1215.2 1805.2 1221.4 1834.6 1227.4 1864.5 1233.3 1894.5 1238.8"/>
</g>
<g stroke="#000" stroke-width="5.5" stroke-linecap="butt">
<line x1="310.5" y1="63.8" x2="310.5" y2="1345.8"/>
<line x1="307.8" y1="1343.0" x2="1897.2" y2="1343.0"/>
<line x1="285.2" y1="1343.0" x2="310.5" y2="1343.0"/>
<line x1="285.2" y1="1087.7" x2="310.5" y2="1087.7"/>
<line x1="285.2" y1="832.4" x2="310.5" y2="832.4"/>
<line x1="285.2" y1="577.1" x2="310.5" y2="577.1"/>
<line x1="285.2" y1="321.8" x2="310.5" y2="321.8"/>
<line x1="285.2" y1="66.5" x2="310.5" y2="66.5"/>
<line x1="297.8" y1="1215.3" x2="310.5" y2="1215.3"/>
<line x1="297.8" y1="960.0" x2="310.5" y2="960.0"/>
<line x1="297.8" y1="704.8" x2="310.5" y2="704.8"/>
<line x1="297.8" y1="449.5" x2="310.5" y2="449.5"/>
<line x1="297.8" y1="194.1" x2="310.5" y2="194.1"/>
<line x1="310.5" y1="1343.0" x2="310.5" y2="1368.2"/>
<line x1="706.5" y1="1343.0" x2="706.5" y2="1368.2"/>
<line x1="1102.5" y1="1343.0" x2="1102.5" y2="1368.2"/>
<line x1="1498.5" y1="1343.0" x2="1498.5" y2="1368.2"/>
<line x1="1894.5" y1="1343.0" x2="1894.5" y2="1368.2"/>
<line x1="508.5" y1="1343.0" x2="508.5" y2="1356.2"/>
<line x1="904.5" y1="1343.0" x2="904.5" y2="1356.2"/>
<line x1="1300.5" y1="1343.0" x2="1300.5" y2="1356.2"/>
<line x1="1696.5" y1="1343.0" x2="1696.5" y2="1356.2"/>
</g>
<text x="268.8" y="1361.0" text-anchor="end" class="tk">0.0</text>
<text x="268.8" y="1105.7" text-anchor="end" class="tk">0.2</text>
<text x="268.8" y="850.4" text-anchor="end" class="tk">0.4</text>
<text x="268.8" y="595.1" text-anchor="end" class="tk">0.6</text>
<text x="268.8" y="339.8" text-anchor="end" class="tk">0.8</text>
<text x="268.8" y="84.5" text-anchor="end" class="tk">1.0</text>
<text x="310.5" y="1430.6" text-anchor="middle" class="tk">0</text>
<text x="706.5" y="1430.6" text-anchor="middle" class="tk">2</text>
<text x="1102.5" y="1430.6" text-anchor="middle" class="tk">4</text>
<text x="1498.5" y="1430.6" text-anchor="middle" class="tk">6</text>
<text x="1894.5" y="1430.6" text-anchor="middle" class="tk">8</text>
<g clip-path="url(#cB)">
<path fill="#6aa616" shape-rendering="crispEdges" d="M310.5 2848.4l9.5 16.454h-19zM313.7 2849.6l9.5 16.454h-19zM316.9 2846.0l9.5 16.454h-19zM320.1 2845.5l9.5 16.454h-19zM323.3 2846.0l9.5 16.454h-19zM326.5 2844.3l9.5 16.454h-19zM329.7 2845.2l9.5 16.454h-19zM333.0 2847.0l9.5 16.454h-19zM336.2 2846.4l9.5 16.454h-19zM339.4 2844.6l9.5 16.454h-19zM342.6 2844.8l9.5 16.454h-19zM345.8 2845.0l9.5 16.454h-19zM349.0 2840.9l9.5 16.454h-19zM352.2 2845.4l9.5 16.454h-19zM355.4 2844.5l9.5 16.454h-19zM358.6 2844.4l9.5 16.454h-19zM361.8 2827.2l9.5 16.454h-19zM365.0 2764.3l9.5 16.454h-19zM368.2 2646.5l9.5 16.454h-19zM371.4 2529.3l9.5 16.454h-19zM374.7 2454.8l9.5 16.454h-19zM377.9 2421.5l9.5 16.454h-19zM381.1 2408.3l9.5 16.454h-19zM384.3 2395.0l9.5 16.454h-19zM387.5 2345.5l9.5 16.454h-19zM390.7 2334.8l9.5 16.454h-19zM393.9 2322.0l9.5 16.454h-19zM397.1 2314.8l9.5 16.454h-19zM400.3 2296.5l9.5 16.454h-19zM403.5 2266.6l9.5 16.454h-19zM406.7 2276.5l9.5 16.454h-19zM409.9 2249.0l9.5 16.454h-19zM413.1 2229.5l9.5 16.454h-19zM416.4 2222.0l9.5 16.454h-19zM419.6 2207.2l9.5 16.454h-19zM422.8 2202.1l9.5 16.454h-19zM426.0 2177.1l9.5 16.454h-19zM429.2 2188.7l9.5 16.454h-19zM432.4 2182.2l9.5 16.454h-19zM435.6 2164.1l9.5 16.454h-19zM438.8 2149.5l9.5 16.454h-19zM442.0 2151.7l9.5 16.454h-19zM445.2 2138.4l9.5 16.454h-19zM448.4 2142.2l9.5 16.454h-19zM451.6 2140.7l9.5 16.454h-19zM454.8 2119.4l9.5 16.454h-19zM458.0 2113.5l9.5 16.454h-19zM461.3 2109.4l9.5 16.454h-19zM464.5 2117.8l9.5 16.454h-19zM467.7 2118.7l9.5 16.454h-19zM470.9 2115.5l9.5 16.454h-19zM474.1 2106.5l9.5 16.454h-19zM477.3 2098.7l9.5 16.454h-19zM480.5 2096.8l9.5 16.454h-19zM483.7 2107.1l9.5 16.454h-19zM486.9 2094.9l9.5 16.454h-19zM490.1 2094.4l9.5 16.454h-19zM493.3 2092.6l9.5 16.454h-19zM496.5 2092.2l9.5 16.454h-19zM499.7 2092.4l9.5 16.454h-19zM503.0 2086.7l9.5 16.454h-19zM506.2 2089.2l9.5 16.454h-19zM509.4 2088.2l9.5 16.454h-19zM512.6 2094.0l9.5 16.454h-19zM515.8 2087.0l9.5 16.454h-19zM519.0 2090.5l9.5 16.454h-19zM522.2 2103.7l9.5 16.454h-19zM525.4 2087.5l9.5 16.454h-19zM528.6 2093.0l9.5 16.454h-19zM531.8 2086.1l9.5 16.454h-19zM535.0 2094.0l9.5 16.454h-19zM538.2 2094.6l9.5 16.454h-19zM541.4 2093.7l9.5 16.454h-19zM544.7 2096.4l9.5 16.454h-19zM547.9 2100.5l9.5 16.454h-19zM551.1 2110.5l9.5 16.454h-19zM554.3 2088.9l9.5 16.454h-19zM557.5 2112.2l9.5 16.454h-19zM560.7 2106.0l9.5 16.454h-19zM563.9 2101.5l9.5 16.454h-19zM567.1 2105.1l9.5 16.454h-19zM570.3 2105.8l9.5 16.454h-19zM573.5 2106.4l9.5 16.454h-19zM576.7 2105.3l9.5 16.454h-19zM579.9 2113.5l9.5 16.454h-19zM583.1 2099.2l9.5 16.454h-19zM586.4 2126.1l9.5 16.454h-19zM589.6 2120.5l9.5 16.454h-19zM592.8 2126.5l9.5 16.454h-19zM596.0 2129.9l9.5 16.454h-19zM599.2 2127.0l9.5 16.454h-19zM602.4 2122.1l9.5 16.454h-19zM605.6 2138.1l9.5 16.454h-19zM608.8 2140.5l9.5 16.454h-19zM612.0 2133.9l9.5 16.454h-19zM615.2 2137.5l9.5 16.454h-19zM618.4 2131.3l9.5 16.454h-19zM621.6 2139.5l9.5 16.454h-19zM624.8 2146.8l9.5 16.454h-19zM628.1 2152.6l9.5 16.454h-19zM631.3 2151.9l9.5 16.454h-19zM634.5 2156.7l9.5 16.454h-19zM637.7 2166.2l9.5 16.454h-19zM640.9 2160.7l9.5 16.454h-19zM644.1 2164.4l9.5 16.454h-19zM647.3 2167.2l9.5 16.454h-19zM650.5 2170.9l9.5 16.454h-19zM653.7 2161.5l9.5 16.454h-19zM656.9 2169.8l9.5 16.454h-19zM660.1 2171.1l9.5 16.454h-19zM663.3 2182.2l9.5 16.454h-19zM666.5 2187.1l9.5 16.454h-19zM669.8 2185.6l9.5 16.454h-19zM673.0 2185.3l9.5 16.454h-19zM676.2 2191.1l9.5 16.454h-19zM679.4 2192.9l9.5 16.454h-19zM682.6 2189.4l9.5 16.454h-19zM685.8 2195.5l9.5 16.454h-19zM689.0 2204.8l9.5 16.454h-19zM692.2 2204.5l9.5 16.454h-19zM695.4 2208.2l9.5 16.454h-19zM698.6 2206.5l9.5 16.454h-19zM701.8 2215.9l9.5 16.454h-19zM705.0 2213.5l9.5 16.454h-19zM708.2 2211.7l9.5 16.454h-19zM711.5 2217.6l9.5 16.454h-19zM714.7 2224.7l9.5 16.454h-19zM717.9 2225.8l9.5 16.454h-19zM721.1 2224.8l9.5 16.454h-19zM724.3 2225.6l9.5 16.454h-19zM727.5 2226.5l9.5 16.454h-19zM730.7 2233.6l9.5 16.454h-19zM733.9 2241.6l9.5 16.454h-19zM737.1 2231.4l9.5 16.454h-19zM740.3 2239.1l9.5 16.454h-19zM743.5 2241.1l9.5 16.454h-19zM746.7 2244.0l9.5 16.454h-19zM749.9 2252.5l9.5 16.454h-19zM753.1 2251.7l9.5 16.454h-19zM756.4 2251.6l9.5 16.454h-19zM759.6 2250.7l9.5 16.454h-19zM762.8 2257.4l9.5 16.454h-19zM766.0 2273.3l9.5 16.454h-19zM769.2 2263.5l9.5 16.454h-19zM772.4 2263.4l9.5 16.454h-19zM775.6 2261.9l9.5 16.454h-19zM778.8 2266.7l9.5 16.454h-19zM782.0 2261.8l9.5 16.454h-19zM785.2 2268.6l9.5 16.454h-19zM788.4 2271.3l9.5 16.454h-19zM791.6 2275.3l9.5 16.454h-19zM794.8 2286.8l9.5 16.454h-19zM798.1 2280.4l9.5 16.454h-19zM801.3 2283.6l9.5 16.454h-19zM804.5 2290.3l9.5 16.454h-19zM807.7 2288.4l9.5 16.454h-19zM810.9 2291.4l9.5 16.454h-19zM814.1 2297.1l9.5 16.454h-19zM817.3 2298.1l9.5 16.454h-19zM820.5 2300.9l9.5 16.454h-19zM823.7 2301.4l9.5 16.454h-19zM826.9 2306.2l9.5 16.454h-19zM830.1 2304.8l9.5 16.454h-19zM833.3 2316.3l9.5 16.454h-19zM836.5 2312.5l9.5 16.454h-19zM839.8 2320.0l9.5 16.454h-19zM843.0 2317.7l9.5 16.454h-19zM846.2 2316.2l9.5 16.454h-19zM849.4 2320.3l9.5 16.454h-19zM852.6 2323.0l9.5 16.454h-19zM855.8 2324.6l9.5 16.454h-19zM859.0 2321.2l9.5 16.454h-19zM862.2 2333.3l9.5 16.454h-19zM865.4 2328.1l9.5 16.454h-19zM868.6 2339.2l9.5 16.454h-19zM871.8 2337.4l9.5 16.454h-19zM875.0 2337.3l9.5 16.454h-19zM878.2 2343.1l9.5 16.454h-19zM881.5 2341.4l9.5 16.454h-19zM884.7 2341.6l9.5 16.454h-19zM887.9 2350.8l9.5 16.454h-19zM891.1 2348.8l9.5 16.454h-19zM894.3 2351.9l9.5 16.454h-19zM897.5 2359.8l9.5 16.454h-19zM900.7 2355.4l9.5 16.454h-19zM903.9 2359.7l9.5 16.454h-19zM907.1 2354.0l9.5 16.454h-19zM910.3 2364.1l9.5 16.454h-19zM913.5 2356.8l9.5 16.454h-19zM916.7 2366.9l9.5 16.454h-19zM919.9 2360.0l9.5 16.454h-19zM923.2 2367.1l9.5 16.454h-19zM926.4 2369.4l9.5 16.454h-19zM929.6 2370.1l9.5 16.454h-19zM932.8 2371.8l9.5 16.454h-19zM936.0 2371.9l9.5 16.454h-19zM939.2 2372.7l9.5 16.454h-19zM942.4 2382.2l9.5 16.454h-19zM945.6 2387.4l9.5 16.454h-19zM948.8 2394.4l9.5 16.454h-19zM952.0 2388.1l9.5 16.454h-19zM955.2 2386.0l9.5 16.454h-19zM958.4 2389.3l9.5 16.454h-19zM961.6 2392.1l9.5 16.454h-19zM964.9 2395.7l9.5 16.454h-19zM968.1 2398.6l9.5 16.454h-19zM971.3 2399.2l9.5 16.454h-19zM974.5 2398.7l9.5 16.454h-19zM977.7 2408.2l9.5 16.454h-19zM980.9 2401.3l9.5 16.454h-19zM984.1 2410.9l9.5 16.454h-19zM987.3 2408.1l9.5 16.454h-19zM990.5 2411.7l9.5 16.454h-19zM993.7 2412.6l9.5 16.454h-19zM996.9 2416.8l9.5 16.454h-19zM1000.1 2419.0l9.5 16.454h-19zM1003.3 2417.6l9.5 16.454h-19zM1006.5 2422.3l9.5 16.454h-19zM1009.8 2411.8l9.5 16.454h-19zM1013.0 2423.6l9.5 16.454h-19zM1016.2 2426.2l9.5 16.454h-19zM1019.4 2427.6l9.5 16.454h-19zM1022.6 2431.2l9.5 16.454h-19zM1025.8 2437.8l9.5 16.454h-19zM1029.0 2431.9l9.5 16.454h-19zM1032.2 2431.7l9.5 16.454h-19zM1035.4 2439.7l9.5 16.454h-19zM1038.6 2436.3l9.5 16.454h-19zM1041.8 2442.2l9.5 16.454h-19zM1045.0 2439.9l9.5 16.454h-19zM1048.2 2440.3l9.5 16.454h-19zM1051.5 2441.5l9.5 16.454h-19zM1054.7 2443.4l9.5 16.454h-19zM1057.9 2449.0l9.5 16.454h-19zM1061.1 2445.3l9.5 16.454h-19zM1064.3 2451.5l9.5 16.454h-19zM1067.5 2450.5l9.5 16.454h-19zM1070.7 2451.0l9.5 16.454h-19zM1073.9 2456.1l9.5 16.454h-19zM1077.1 2461.1l9.5 16.454h-19zM1080.3 2456.3l9.5 16.454h-19zM1083.5 2463.8l9.5 16.454h-19zM1086.7 2464.7l9.5 16.454h-19zM1089.9 2467.1l9.5 16.454h-19zM1093.2 2462.1l9.5 16.454h-19zM1096.4 2467.1l9.5 16.454h-19zM1099.6 2475.8l9.5 16.454h-19zM1102.8 2467.4l9.5 16.454h-19zM1106.0 2464.5l9.5 16.454h-19zM1109.2 2467.0l9.5 16.454h-19zM1112.4 2476.6l9.5 16.454h-19zM1115.6 2476.0l9.5 16.454h-19zM1118.8 2476.2l9.5 16.454h-19zM1122.0 2476.5l9.5 16.454h-19zM1125.2 2480.9l9.5 16.454h-19zM1128.4 2486.2l9.5 16.454h-19zM1131.6 2481.7l9.5 16.454h-19zM1134.9 2483.7l9.5 16.454h-19zM1138.1 2491.7l9.5 16.454h-19zM1141.3 2490.1l9.5 16.454h-19zM1144.5 2489.5l9.5 16.454h-19zM1147.7 2491.9l9.5 16.454h-19zM1150.9 2491.7l9.5 16.454h-19zM1154.1 2492.4l9.5 16.454h-19zM1157.3 2494.7l9.5 16.454h-19zM1160.5 2498.4l9.5 16.454h-19zM1163.7 2504.0l9.5 16.454h-19zM1166.9 2499.1l9.5 16.454h-19zM1170.1 2498.0l9.5 16.454h-19zM1173.3 2497.6l9.5 16.454h-19zM1176.6 2505.7l9.5 16.454h-19zM1179.8 2507.2l9.5 16.454h-19zM1183.0 2503.8l9.5 16.454h-19zM1186.2 2505.4l9.5 16.454h-19zM1189.4 2510.4l9.5 16.454h-19zM1192.6 2510.7l9.5 16.454h-19zM1195.8 2516.9l9.5 16.454h-19zM1199.0 2514.0l9.5 16.454h-19zM1202.2 2520.0l9.5 16.454h-19zM1205.4 2519.3l9.5 16.454h-19zM1208.6 2520.6l9.5 16.454h-19zM1211.8 2523.2l9.5 16.454h-19zM1215.0 2529.9l9.5 16.454h-19zM1218.3 2527.2l9.5 16.454h-19zM1221.5 2524.9l9.5 16.454h-19zM1224.7 2527.6l9.5 16.454h-19zM1227.9 2530.0l9.5 16.454h-19zM1231.1 2528.8l9.5 16.454h-19zM1234.3 2529.4l9.5 16.454h-19zM1237.5 2530.3l9.5 16.454h-19zM1240.7 2536.9l9.5 16.454h-19zM1243.9 2535.7l9.5 16.454h-19zM1247.1 2538.2l9.5 16.454h-19zM1250.3 2541.3l9.5 16.454h-19zM1253.5 2544.6l9.5 16.454h-19zM1256.7 2541.6l9.5 16.454h-19zM1259.9 2545.4l9.5 16.454h-19zM1263.2 2537.2l9.5 16.454h-19zM1266.4 2545.7l9.5 16.454h-19zM1269.6 2547.4l9.5 16.454h-19zM1272.8 2549.3l9.5 16.454h-19zM1276.0 2543.5l9.5 16.454h-19zM1279.2 2553.7l9.5 16.454h-19zM1282.4 2552.6l9.5 16.454h-19zM1285.6 2555.8l9.5 16.454h-19zM1288.8 2555.1l9.5 16.454h-19zM1292.0 2556.2l9.5 16.454h-19zM1295.2 2553.9l9.5 16.454h-19zM1298.4 2563.0l9.5 16.454h-19zM1301.6 2560.0l9.5 16.454h-19zM1304.9 2556.3l9.5 16.454h-19zM1308.1 2564.1l9.5 16.454h-19zM1311.3 2564.4l9.5 16.454h-19zM1314.5 2567.9l9.5 16.454h-19zM1317.7 2574.5l9.5 16.454h-19zM1320.9 2568.0l9.5 16.454h-19zM1324.1 2565.4l9.5 16.454h-19zM1327.3 2571.7l9.5 16.454h-19zM1330.5 2577.1l9.5 16.454h-19zM1333.7 2571.9l9.5 16.454h-19zM1336.9 2573.8l9.5 16.454h-19zM1340.1 2572.2l9.5 16.454h-19zM1343.3 2573.7l9.5 16.454h-19zM1346.6 2578.6l9.5 16.454h-19zM1349.8 2577.8l9.5 16.454h-19zM1353.0 2585.7l9.5 16.454h-19zM1356.2 2578.1l9.5 16.454h-19zM1359.4 2582.1l9.5 16.454h-19zM1362.6 2580.6l9.5 16.454h-19zM1365.8 2581.9l9.5 16.454h-19zM1369.0 2587.2l9.5 16.454h-19zM1372.2 2588.0l9.5 16.454h-19zM1375.4 2591.3l9.5 16.454h-19zM1378.6 2596.1l9.5 16.454h-19zM1381.8 2591.5l9.5 16.454h-19zM1385.0 2591.8l9.5 16.454h-19zM1388.3 2596.7l9.5 16.454h-19zM1391.5 2592.5l9.5 16.454h-19zM1394.7 2595.5l9.5 16.454h-19zM1397.9 2595.6l9.5 16.454h-19zM1401.1 2600.4l9.5 16.454h-19zM1404.3 2604.5l9.5 16.454h-19zM1407.5 2598.2l9.5 16.454h-19zM1410.7 2599.8l9.5 16.454h-19zM1413.9 2603.1l9.5 16.454h-19zM1417.1 2605.2l9.5 16.454h-19zM1420.3 2605.9l9.5 16.454h-19zM1423.5 2606.6l9.5 16.454h-19zM1426.7 2608.8l9.5 16.454h-19zM1430.0 2614.4l9.5 16.454h-19zM1433.2 2607.3l9.5 16.454h-19zM1436.4 2615.1l9.5 16.454h-19zM1439.6 2612.8l9.5 16.454h-19zM1442.8 2613.8l9.5 16.454h-19zM1446.0 2613.3l9.5 16.454h-19zM1449.2 2619.8l9.5 16.454h-19zM1452.4 2612.7l9.5 16.454h-19zM1455.6 2615.4l9.5 16.454h-19zM1458.8 2616.2l9.5 16.454h-19zM1462.0 2615.8l9.5 16.454h-19zM1465.2 2622.9l9.5 16.454h-19zM1468.4 2630.7l9.5 16.454h-19zM1471.7 2621.8l9.5 16.454h-19zM1474.9 2620.0l9.5 16.454h-19zM1478.1 2621.5l9.5 16.454h-19zM1481.3 2627.4l9.5 16.454h-19zM1484.5 2627.2l9.5 16.454h-19zM1487.7 2627.2l9.5 16.454h-19zM1490.9 2634.2l9.5 16.454h-19zM1494.1 2632.0l9.5 16.454h-19zM1497.3 2633.0l9.5 16.454h-19zM1500.5 2627.7l9.5 16.454h-19zM1503.7 2635.1l9.5 16.454h-19zM1506.9 2629.8l9.5 16.454h-19zM1510.1 2635.2l9.5 16.454h-19zM1513.3 2641.0l9.5 16.454h-19zM1516.6 2631.0l9.5 16.454h-19zM1519.8 2641.0l9.5 16.454h-19zM1523.0 2637.6l9.5 16.454h-19zM1526.2 2635.5l9.5 16.454h-19zM1529.4 2642.8l9.5 16.454h-19zM1532.6 2645.8l9.5 16.454h-19zM1535.8 2640.4l9.5 16.454h-19zM1539.0 2644.1l9.5 16.454h-19zM1542.2 2648.7l9.5 16.454h-19zM1545.4 2649.3l9.5 16.454h-19zM1548.6 2648.3l9.5 16.454h-19zM1551.8 2645.5l9.5 16.454h-19zM1555.0 2650.0l9.5 16.454h-19zM1558.3 2648.3l9.5 16.454h-19zM1561.5 2646.5l9.5 16.454h-19zM1564.7 2648.5l9.5 16.454h-19zM1567.9 2649.0l9.5 16.454h-19zM1571.1 2650.5l9.5 16.454h-19zM1574.3 2659.3l9.5 16.454h-19zM1577.5 2652.5l9.5 16.454h-19zM1580.7 2655.9l9.5 16.454h-19zM1583.9 2658.1l9.5 16.454h-19zM1587.1 2661.6l9.5 16.454h-19zM1590.3 2663.9l9.5 16.454h-19zM1593.5 2663.5l9.5 16.454h-19zM1596.7 2661.5l9.5 16.454h-19zM1600.0 2665.5l9.5 16.454h-19zM1603.2 2665.5l9.5 16.454h-19zM1606.4 2665.8l9.5 16.454h-19zM1609.6 2663.2l9.5 16.454h-19zM1612.8 2666.7l9.5 16.454h-19zM1616.0 2667.2l9.5 16.454h-19zM1619.2 2664.1l9.5 16.454h-19zM1622.4 2669.5l9.5 16.454h-19zM1625.6 2667.9l9.5 16.454h-19zM1628.8 2673.2l9.5 16.454h-19zM1632.0 2670.4l9.5 16.454h-19zM1635.2 2671.8l9.5 16.454h-19zM1638.4 2672.5l9.5 16.454h-19zM1641.7 2675.1l9.5 16.454h-19zM1644.9 2677.5l9.5 16.454h-19zM1648.1 2676.4l9.5 16.454h-19zM1651.3 2677.7l9.5 16.454h-19zM1654.5 2674.5l9.5 16.454h-19zM1657.7 2675.7l9.5 16.454h-19zM1660.9 2682.2l9.5 16.454h-19zM1664.1 2678.2l9.5 16.454h-19zM1667.3 2681.9l9.5 16.454h-19zM1670.5 2680.3l9.5 16.454h-19zM1673.7 2683.6l9.5 16.454h-19zM1676.9 2687.1l9.5 16.454h-19zM1680.1 2681.3l9.5 16.454h-19zM1683.4 2683.6l9.5 16.454h-19zM1686.6 2688.9l9.5 16.454h-19zM1689.8 2691.4l9.5 16.454h-19zM1693.0 2688.6l9.5 16.454h-19zM1696.2 2691.2l9.5 16.454h-19zM1699.4 2689.8l9.5 16.454h-19zM1702.6 2688.0l9.5 16.454h-19zM1705.8 2686.6l9.5 16.454h-19zM1709.0 2692.2l9.5 16.454h-19zM1712.2 2688.4l9.5 16.454h-19zM1715.4 2689.8l9.5 16.454h-19zM1718.6 2694.7l9.5 16.454h-19zM1721.8 2698.7l9.5 16.454h-19zM1725.1 2692.9l9.5 16.454h-19zM1728.3 2694.3l9.5 16.454h-19zM1731.5 2690.6l9.5 16.454h-19zM1734.7 2693.7l9.5 16.454h-19zM1737.9 2696.2l9.5 16.454h-19zM1741.1 2694.6l9.5 16.454h-19zM1744.3 2702.4l9.5 16.454h-19zM1747.5 2700.0l9.5 16.454h-19zM1750.7 2701.9l9.5 16.454h-19zM1753.9 2697.5l9.5 16.454h-19zM1757.1 2701.2l9.5 16.454h-19zM1760.3 2711.2l9.5 16.454h-19zM1763.5 2700.6l9.5 16.454h-19zM1766.8 2707.2l9.5 16.454h-19zM1770.0 2703.6l9.5 16.454h-19zM1773.2 2707.5l9.5 16.454h-19zM1776.4 2706.4l9.5 16.454h-19zM1779.6 2706.1l9.5 16.454h-19zM1782.8 2708.0l9.5 16.454h-19zM1786.0 2711.6l9.5 16.454h-19zM1789.2 2706.3l9.5 16.454h-19zM1792.4 2709.6l9.5 16.454h-19zM1795.6 2711.3l9.5 16.454h-19zM1798.8 2710.2l9.5 16.454h-19zM1802.0 2714.0l9.5 16.454h-19zM1805.2 2708.6l9.5 16.454h-19zM1808.4 2713.5l9.5 16.454h-19zM1811.7 2713.8l9.5 16.454h-19zM1814.9 2714.5l9.5 16.454h-19zM1818.1 2718.4l9.5 16.454h-19zM1821.3 2719.7l9.5 16.454h-19zM1824.5 2716.9l9.5 16.454h-19zM1827.7 2717.2l9.5 16.454h-19zM1830.9 2715.4l9.5 16.454h-19zM1834.1 2718.3l9.5 16.454h-19zM1837.3 2722.8l9.5 16.454h-19zM1840.5 2719.4l9.5 16.454h-19zM1843.7 2719.3l9.5 16.454h-19zM1846.9 2719.6l9.5 16.454h-19zM1850.1 2721.9l9.5 16.454h-19zM1853.4 2726.3l9.5 16.454h-19zM1856.6 2721.1l9.5 16.454h-19zM1859.8 2726.4l9.5 16.454h-19zM1863.0 2723.8l9.5 16.454h-19zM1866.2 2729.7l9.5 16.454h-19zM1869.4 2724.6l9.5 16.454h-19zM1872.6 2729.1l9.5 16.454h-19zM1875.8 2725.1l9.5 16.454h-19zM1879.0 2724.1l9.5 16.454h-19zM1882.2 2726.1l9.5 16.454h-19zM1885.4 2732.4l9.5 16.454h-19zM1888.6 2732.5l9.5 16.454h-19z"/>
<path fill="none" stroke="#00260c" stroke-width="5.4" stroke-linejoin="round" stroke-linecap="butt" d="M310.5 2853.1 351.5 2853.1 355.5 2852.9 357.3 2852.2 358.0 2851.5 358.8 2850.3 359.8 2847.5 360.8 2843.1 361.8 2834.6 362.8 2822.7 363.7 2805.7 364.6 2785.2 366.5 2727.3 369.9 2590.3 371.5 2534.3 373.6 2483.9 374.6 2465.4 375.8 2449.9 377.8 2430.5 380.8 2408.8 386.0 2375.2 391.6 2342.6 396.7 2315.1 402.0 2289.6 407.4 2265.8 412.8 2243.9 417.8 2226.1 422.8 2209.3 427.9 2194.2 433.2 2180.1 438.5 2167.2 444.1 2155.4 449.7 2144.8 455.4 2135.5 461.5 2126.9 467.7 2119.6 474.1 2113.4 480.4 2108.4 483.7 2106.2 487.2 2104.2 490.8 2102.5 494.0 2101.2 497.8 2099.9 501.2 2099.0 505.1 2098.3 509.1 2097.9 513.1 2097.8 517.1 2097.9 521.1 2098.2 525.5 2098.9 534.3 2101.0 543.7 2104.2 553.4 2108.4 564.0 2113.9 575.2 2120.6 586.9 2128.3 604.7 2141.2 625.2 2157.1 646.5 2174.5 700.3 2219.4 727.7 2241.9 757.4 2265.6 785.9 2287.6 818.0 2311.5 850.2 2334.3 883.3 2356.7 916.9 2378.4 946.3 2396.6 976.3 2414.5 1007.1 2432.2 1039.1 2449.8 1071.7 2467.2 1104.7 2484.1 1138.3 2500.7 1172.6 2517.0 1214.0 2535.9 1256.2 2554.3 1299.1 2572.2 1342.3 2589.4 1385.8 2605.8 1429.5 2621.6 1474.0 2636.8 1518.7 2651.3 1563.6 2665.1 1609.3 2678.3 1655.1 2690.8 1701.6 2702.7 1748.7 2714.1 1796.5 2724.8 1845.0 2735.0 1894.0 2744.6"/>
<path fill="#ee8128" shape-rendering="crispEdges" d="M304.8 2847.2h14.5v14.5h-14.5zM308.0 2845.1h14.5v14.5h-14.5zM311.2 2845.5h14.5v14.5h-14.5zM314.5 2845.8h14.5v14.5h-14.5zM317.7 2845.6h14.5v14.5h-14.5zM320.9 2845.2h14.5v14.5h-14.5zM324.1 2845.1h14.5v14.5h-14.5zM327.3 2843.7h14.5v14.5h-14.5zM330.5 2846.1h14.5v14.5h-14.5zM333.7 2845.7h14.5v14.5h-14.5zM336.9 2848.5h14.5v14.5h-14.5zM340.1 2847.8h14.5v14.5h-14.5zM343.3 2846.9h14.5v14.5h-14.5zM346.5 2846.2h14.5v14.5h-14.5zM349.7 2832.8h14.5v14.5h-14.5zM352.9 2773.9h14.5v14.5h-14.5zM356.2 2611.1h14.5v14.5h-14.5zM359.4 2326.2h14.5v14.5h-14.5zM362.6 2035.3h14.5v14.5h-14.5zM365.8 1848.5h14.5v14.5h-14.5zM369.0 1771.1h14.5v14.5h-14.5zM372.2 1730.3h14.5v14.5h-14.5zM375.4 1709.6h14.5v14.5h-14.5zM378.6 1693.6h14.5v14.5h-14.5zM381.8 1679.6h14.5v14.5h-14.5zM385.0 1675.6h14.5v14.5h-14.5zM388.2 1669.7h14.5v14.5h-14.5zM391.4 1657.8h14.5v14.5h-14.5zM394.6 1667.6h14.5v14.5h-14.5zM397.9 1664.0h14.5v14.5h-14.5zM401.1 1671.0h14.5v14.5h-14.5zM404.3 1678.0h14.5v14.5h-14.5zM407.5 1683.1h14.5v14.5h-14.5zM410.7 1691.2h14.5v14.5h-14.5zM413.9 1693.3h14.5v14.5h-14.5zM417.1 1704.1h14.5v14.5h-14.5zM420.3 1711.0h14.5v14.5h-14.5zM423.5 1710.0h14.5v14.5h-14.5zM426.7 1726.2h14.5v14.5h-14.5zM429.9 1727.9h14.5v14.5h-14.5zM433.1 1741.8h14.5v14.5h-14.5zM436.3 1747.6h14.5v14.5h-14.5zM439.6 1764.9h14.5v14.5h-14.5zM442.8 1769.9h14.5v14.5h-14.5zM446.0 1765.6h14.5v14.5h-14.5zM449.2 1784.7h14.5v14.5h-14.5zM452.4 1792.9h14.5v14.5h-14.5zM455.6 1806.2h14.5v14.5h-14.5zM458.8 1811.8h14.5v14.5h-14.5zM462.0 1831.6h14.5v14.5h-14.5zM465.2 1838.7h14.5v14.5h-14.5zM468.4 1840.6h14.5v14.5h-14.5zM471.6 1847.1h14.5v14.5h-14.5zM474.8 1862.1h14.5v14.5h-14.5zM478.0 1869.3h14.5v14.5h-14.5zM481.3 1878.4h14.5v14.5h-14.5zM484.5 1885.5h14.5v14.5h-14.5zM487.7 1898.8h14.5v14.5h-14.5zM490.9 1907.8h14.5v14.5h-14.5zM494.1 1908.4h14.5v14.5h-14.5zM497.3 1924.5h14.5v14.5h-14.5zM500.5 1928.0h14.5v14.5h-14.5zM503.7 1933.6h14.5v14.5h-14.5zM506.9 1942.7h14.5v14.5h-14.5zM510.1 1943.1h14.5v14.5h-14.5zM513.3 1953.5h14.5v14.5h-14.5zM516.5 1958.4h14.5v14.5h-14.5zM519.7 1969.7h14.5v14.5h-14.5zM523.0 1974.9h14.5v14.5h-14.5zM526.2 1974.9h14.5v14.5h-14.5zM529.4 1982.0h14.5v14.5h-14.5zM532.6 1992.3h14.5v14.5h-14.5zM535.8 1994.2h14.5v14.5h-14.5zM539.0 2001.1h14.5v14.5h-14.5zM542.2 2007.1h14.5v14.5h-14.5zM545.4 2005.7h14.5v14.5h-14.5zM548.6 2021.2h14.5v14.5h-14.5zM551.8 2022.7h14.5v14.5h-14.5zM555.0 2028.2h14.5v14.5h-14.5zM558.2 2036.8h14.5v14.5h-14.5zM561.4 2046.6h14.5v14.5h-14.5zM564.6 2042.7h14.5v14.5h-14.5zM567.9 2049.9h14.5v14.5h-14.5zM571.1 2056.0h14.5v14.5h-14.5zM574.3 2061.0h14.5v14.5h-14.5zM577.5 2065.9h14.5v14.5h-14.5zM580.7 2075.1h14.5v14.5h-14.5zM583.9 2074.1h14.5v14.5h-14.5zM587.1 2088.8h14.5v14.5h-14.5zM590.3 2084.9h14.5v14.5h-14.5zM593.5 2096.4h14.5v14.5h-14.5zM596.7 2095.3h14.5v14.5h-14.5zM599.9 2094.6h14.5v14.5h-14.5zM603.1 2103.6h14.5v14.5h-14.5zM606.3 2108.9h14.5v14.5h-14.5zM609.6 2108.4h14.5v14.5h-14.5zM612.8 2116.2h14.5v14.5h-14.5zM616.0 2120.9h14.5v14.5h-14.5zM619.2 2124.8h14.5v14.5h-14.5zM622.4 2119.9h14.5v14.5h-14.5zM625.6 2127.8h14.5v14.5h-14.5zM628.8 2132.5h14.5v14.5h-14.5zM632.0 2144.1h14.5v14.5h-14.5zM635.2 2139.4h14.5v14.5h-14.5zM638.4 2152.0h14.5v14.5h-14.5zM641.6 2147.4h14.5v14.5h-14.5zM644.8 2158.4h14.5v14.5h-14.5zM648.0 2147.9h14.5v14.5h-14.5zM651.3 2168.1h14.5v14.5h-14.5zM654.5 2158.3h14.5v14.5h-14.5zM657.7 2163.7h14.5v14.5h-14.5zM660.9 2178.9h14.5v14.5h-14.5zM664.1 2175.2h14.5v14.5h-14.5zM667.3 2170.9h14.5v14.5h-14.5zM670.5 2175.6h14.5v14.5h-14.5zM673.7 2191.6h14.5v14.5h-14.5zM676.9 2189.6h14.5v14.5h-14.5zM680.1 2195.8h14.5v14.5h-14.5zM683.3 2198.3h14.5v14.5h-14.5zM686.5 2199.7h14.5v14.5h-14.5zM689.7 2191.6h14.5v14.5h-14.5zM693.0 2202.4h14.5v14.5h-14.5zM696.2 2207.0h14.5v14.5h-14.5zM699.4 2210.5h14.5v14.5h-14.5zM702.6 2209.1h14.5v14.5h-14.5zM705.8 2211.9h14.5v14.5h-14.5zM709.0 2222.0h14.5v14.5h-14.5zM712.2 2214.4h14.5v14.5h-14.5zM715.4 2228.5h14.5v14.5h-14.5zM718.6 2227.8h14.5v14.5h-14.5zM721.8 2227.5h14.5v14.5h-14.5zM725.0 2224.7h14.5v14.5h-14.5zM728.2 2236.6h14.5v14.5h-14.5zM731.4 2236.6h14.5v14.5h-14.5zM734.7 2234.9h14.5v14.5h-14.5zM737.9 2240.6h14.5v14.5h-14.5zM741.1 2241.1h14.5v14.5h-14.5zM744.3 2244.2h14.5v14.5h-14.5zM747.5 2250.2h14.5v14.5h-14.5zM750.7 2251.3h14.5v14.5h-14.5zM753.9 2252.7h14.5v14.5h-14.5zM757.1 2259.4h14.5v14.5h-14.5zM760.3 2255.0h14.5v14.5h-14.5zM763.5 2273.0h14.5v14.5h-14.5zM766.7 2271.0h14.5v14.5h-14.5zM769.9 2263.3h14.5v14.5h-14.5zM773.1 2270.2h14.5v14.5h-14.5zM776.4 2277.3h14.5v14.5h-14.5zM779.6 2275.4h14.5v14.5h-14.5zM782.8 2274.9h14.5v14.5h-14.5zM786.0 2284.4h14.5v14.5h-14.5zM789.2 2281.2h14.5v14.5h-14.5zM792.4 2287.4h14.5v14.5h-14.5zM795.6 2289.8h14.5v14.5h-14.5zM798.8 2292.0h14.5v14.5h-14.5zM802.0 2289.4h14.5v14.5h-14.5zM805.2 2301.2h14.5v14.5h-14.5zM808.4 2300.4h14.5v14.5h-14.5zM811.6 2298.4h14.5v14.5h-14.5zM814.8 2308.7h14.5v14.5h-14.5zM818.0 2312.5h14.5v14.5h-14.5zM821.3 2305.8h14.5v14.5h-14.5zM824.5 2310.5h14.5v14.5h-14.5zM827.7 2313.4h14.5v14.5h-14.5zM830.9 2314.4h14.5v14.5h-14.5zM834.1 2321.4h14.5v14.5h-14.5zM837.3 2307.5h14.5v14.5h-14.5zM840.5 2325.9h14.5v14.5h-14.5zM843.7 2325.8h14.5v14.5h-14.5zM846.9 2332.1h14.5v14.5h-14.5zM850.1 2330.2h14.5v14.5h-14.5zM853.3 2324.4h14.5v14.5h-14.5zM856.5 2332.8h14.5v14.5h-14.5zM859.7 2332.6h14.5v14.5h-14.5zM863.0 2339.2h14.5v14.5h-14.5zM866.2 2332.0h14.5v14.5h-14.5zM869.4 2340.9h14.5v14.5h-14.5zM872.6 2348.8h14.5v14.5h-14.5zM875.8 2342.7h14.5v14.5h-14.5zM879.0 2349.5h14.5v14.5h-14.5zM882.2 2347.6h14.5v14.5h-14.5zM885.4 2351.6h14.5v14.5h-14.5zM888.6 2353.2h14.5v14.5h-14.5zM891.8 2355.8h14.5v14.5h-14.5zM895.0 2362.1h14.5v14.5h-14.5zM898.2 2366.6h14.5v14.5h-14.5zM901.4 2358.7h14.5v14.5h-14.5zM904.7 2365.2h14.5v14.5h-14.5zM907.9 2365.6h14.5v14.5h-14.5zM911.1 2370.6h14.5v14.5h-14.5zM914.3 2378.9h14.5v14.5h-14.5zM917.5 2377.9h14.5v14.5h-14.5zM920.7 2369.2h14.5v14.5h-14.5zM923.9 2380.0h14.5v14.5h-14.5zM927.1 2380.3h14.5v14.5h-14.5zM930.3 2386.6h14.5v14.5h-14.5zM933.5 2384.9h14.5v14.5h-14.5zM936.7 2386.3h14.5v14.5h-14.5zM939.9 2387.6h14.5v14.5h-14.5zM943.1 2389.0h14.5v14.5h-14.5zM946.4 2393.2h14.5v14.5h-14.5zM949.6 2394.9h14.5v14.5h-14.5zM952.8 2394.6h14.5v14.5h-14.5zM956.0 2395.2h14.5v14.5h-14.5zM959.2 2399.0h14.5v14.5h-14.5zM962.4 2393.6h14.5v14.5h-14.5zM965.6 2401.5h14.5v14.5h-14.5zM968.8 2403.6h14.5v14.5h-14.5zM972.0 2408.6h14.5v14.5h-14.5zM975.2 2404.0h14.5v14.5h-14.5zM978.4 2413.8h14.5v14.5h-14.5zM981.6 2418.0h14.5v14.5h-14.5zM984.8 2417.4h14.5v14.5h-14.5zM988.1 2413.1h14.5v14.5h-14.5zM991.3 2421.8h14.5v14.5h-14.5zM994.5 2414.2h14.5v14.5h-14.5zM997.7 2421.1h14.5v14.5h-14.5zM1000.9 2428.7h14.5v14.5h-14.5zM1004.1 2425.6h14.5v14.5h-14.5zM1007.3 2419.7h14.5v14.5h-14.5zM1010.5 2431.7h14.5v14.5h-14.5zM1013.7 2435.2h14.5v14.5h-14.5zM1016.9 2430.1h14.5v14.5h-14.5zM1020.1 2428.8h14.5v14.5h-14.5zM1023.3 2431.8h14.5v14.5h-14.5zM1026.5 2438.6h14.5v14.5h-14.5zM1029.8 2438.5h14.5v14.5h-14.5zM1033.0 2439.7h14.5v14.5h-14.5zM1036.2 2438.3h14.5v14.5h-14.5zM1039.4 2436.4h14.5v14.5h-14.5zM1042.6 2446.7h14.5v14.5h-14.5zM1045.8 2443.1h14.5v14.5h-14.5zM1049.0 2451.1h14.5v14.5h-14.5zM1052.2 2449.3h14.5v14.5h-14.5zM1055.4 2456.7h14.5v14.5h-14.5zM1058.6 2457.8h14.5v14.5h-14.5zM1061.8 2455.1h14.5v14.5h-14.5zM1065.0 2461.7h14.5v14.5h-14.5zM1068.2 2456.8h14.5v14.5h-14.5zM1071.5 2463.9h14.5v14.5h-14.5zM1074.7 2463.2h14.5v14.5h-14.5zM1077.9 2465.5h14.5v14.5h-14.5zM1081.1 2468.1h14.5v14.5h-14.5zM1084.3 2468.1h14.5v14.5h-14.5zM1087.5 2466.3h14.5v14.5h-14.5zM1090.7 2460.5h14.5v14.5h-14.5zM1093.9 2478.0h14.5v14.5h-14.5zM1097.1 2474.2h14.5v14.5h-14.5zM1100.3 2477.6h14.5v14.5h-14.5zM1103.5 2481.9h14.5v14.5h-14.5zM1106.7 2479.2h14.5v14.5h-14.5zM1109.9 2485.0h14.5v14.5h-14.5zM1113.1 2483.8h14.5v14.5h-14.5zM1116.4 2480.6h14.5v14.5h-14.5zM1119.6 2494.0h14.5v14.5h-14.5zM1122.8 2487.4h14.5v14.5h-14.5zM1126.0 2488.3h14.5v14.5h-14.5zM1129.2 2495.0h14.5v14.5h-14.5zM1132.4 2491.3h14.5v14.5h-14.5zM1135.6 2493.5h14.5v14.5h-14.5zM1138.8 2497.6h14.5v14.5h-14.5zM1142.0 2493.6h14.5v14.5h-14.5zM1145.2 2504.1h14.5v14.5h-14.5zM1148.4 2498.7h14.5v14.5h-14.5zM1151.6 2503.4h14.5v14.5h-14.5zM1154.8 2507.9h14.5v14.5h-14.5zM1158.1 2506.3h14.5v14.5h-14.5zM1161.3 2508.5h14.5v14.5h-14.5zM1164.5 2505.9h14.5v14.5h-14.5zM1167.7 2515.6h14.5v14.5h-14.5zM1170.9 2512.6h14.5v14.5h-14.5zM1174.1 2515.0h14.5v14.5h-14.5zM1177.3 2509.4h14.5v14.5h-14.5zM1180.5 2520.4h14.5v14.5h-14.5zM1183.7 2514.2h14.5v14.5h-14.5zM1186.9 2525.6h14.5v14.5h-14.5zM1190.1 2519.7h14.5v14.5h-14.5zM1193.3 2522.9h14.5v14.5h-14.5zM1196.5 2522.6h14.5v14.5h-14.5zM1199.8 2527.9h14.5v14.5h-14.5zM1203.0 2533.7h14.5v14.5h-14.5zM1206.2 2533.7h14.5v14.5h-14.5zM1209.4 2525.3h14.5v14.5h-14.5zM1212.6 2530.6h14.5v14.5h-14.5zM1215.8 2535.7h14.5v14.5h-14.5zM1219.0 2531.1h14.5v14.5h-14.5zM1222.2 2538.2h14.5v14.5h-14.5zM1225.4 2539.6h14.5v14.5h-14.5zM1228.6 2542.7h14.5v14.5h-14.5zM1231.8 2535.9h14.5v14.5h-14.5zM1235.0 2534.7h14.5v14.5h-14.5zM1238.2 2546.1h14.5v14.5h-14.5zM1241.5 2543.2h14.5v14.5h-14.5zM1244.7 2542.3h14.5v14.5h-14.5zM1247.9 2539.9h14.5v14.5h-14.5zM1251.1 2556.6h14.5v14.5h-14.5zM1254.3 2549.4h14.5v14.5h-14.5zM1257.5 2549.0h14.5v14.5h-14.5zM1260.7 2557.6h14.5v14.5h-14.5zM1263.9 2552.6h14.5v14.5h-14.5zM1267.1 2554.7h14.5v14.5h-14.5zM1270.3 2554.3h14.5v14.5h-14.5zM1273.5 2560.0h14.5v14.5h-14.5zM1276.7 2558.1h14.5v14.5h-14.5zM1279.9 2562.8h14.5v14.5h-14.5zM1283.2 2560.1h14.5v14.5h-14.5zM1286.4 2563.0h14.5v14.5h-14.5zM1289.6 2566.1h14.5v14.5h-14.5zM1292.8 2570.9h14.5v14.5h-14.5zM1296.0 2562.0h14.5v14.5h-14.5zM1299.2 2565.1h14.5v14.5h-14.5zM1302.4 2567.2h14.5v14.5h-14.5zM1305.6 2573.6h14.5v14.5h-14.5zM1308.8 2573.9h14.5v14.5h-14.5zM1312.0 2568.5h14.5v14.5h-14.5zM1315.2 2572.9h14.5v14.5h-14.5zM1318.4 2579.4h14.5v14.5h-14.5zM1321.6 2577.7h14.5v14.5h-14.5zM1324.9 2578.7h14.5v14.5h-14.5zM1328.1 2581.1h14.5v14.5h-14.5zM1331.3 2584.8h14.5v14.5h-14.5zM1334.5 2578.9h14.5v14.5h-14.5zM1337.7 2582.3h14.5v14.5h-14.5zM1340.9 2586.1h14.5v14.5h-14.5zM1344.1 2591.8h14.5v14.5h-14.5zM1347.3 2589.9h14.5v14.5h-14.5zM1350.5 2589.2h14.5v14.5h-14.5zM1353.7 2587.7h14.5v14.5h-14.5zM1356.9 2592.9h14.5v14.5h-14.5zM1360.1 2589.3h14.5v14.5h-14.5zM1363.3 2593.7h14.5v14.5h-14.5zM1366.5 2597.7h14.5v14.5h-14.5zM1369.8 2605.5h14.5v14.5h-14.5zM1373.0 2601.5h14.5v14.5h-14.5zM1376.2 2603.7h14.5v14.5h-14.5zM1379.4 2600.6h14.5v14.5h-14.5zM1382.6 2600.3h14.5v14.5h-14.5zM1385.8 2598.1h14.5v14.5h-14.5zM1389.0 2603.7h14.5v14.5h-14.5zM1392.2 2608.5h14.5v14.5h-14.5zM1395.4 2598.6h14.5v14.5h-14.5zM1398.6 2606.2h14.5v14.5h-14.5zM1401.8 2609.2h14.5v14.5h-14.5zM1405.0 2610.3h14.5v14.5h-14.5zM1408.2 2614.9h14.5v14.5h-14.5zM1411.5 2609.8h14.5v14.5h-14.5zM1414.7 2611.8h14.5v14.5h-14.5zM1417.9 2609.1h14.5v14.5h-14.5zM1421.1 2611.8h14.5v14.5h-14.5zM1424.3 2613.6h14.5v14.5h-14.5zM1427.5 2613.6h14.5v14.5h-14.5zM1430.7 2619.5h14.5v14.5h-14.5zM1433.9 2621.1h14.5v14.5h-14.5zM1437.1 2621.0h14.5v14.5h-14.5zM1440.3 2625.8h14.5v14.5h-14.5zM1443.5 2623.4h14.5v14.5h-14.5zM1446.7 2625.1h14.5v14.5h-14.5zM1449.9 2623.1h14.5v14.5h-14.5zM1453.2 2626.3h14.5v14.5h-14.5zM1456.4 2633.2h14.5v14.5h-14.5zM1459.6 2628.3h14.5v14.5h-14.5zM1462.8 2625.2h14.5v14.5h-14.5zM1466.0 2636.2h14.5v14.5h-14.5zM1469.2 2633.9h14.5v14.5h-14.5zM1472.4 2632.6h14.5v14.5h-14.5zM1475.6 2637.8h14.5v14.5h-14.5zM1478.8 2636.5h14.5v14.5h-14.5zM1482.0 2635.7h14.5v14.5h-14.5zM1485.2 2640.9h14.5v14.5h-14.5zM1488.4 2637.0h14.5v14.5h-14.5zM1491.6 2637.7h14.5v14.5h-14.5zM1494.9 2643.8h14.5v14.5h-14.5zM1498.1 2640.9h14.5v14.5h-14.5zM1501.3 2638.8h14.5v14.5h-14.5zM1504.5 2643.6h14.5v14.5h-14.5zM1507.7 2642.7h14.5v14.5h-14.5zM1510.9 2643.1h14.5v14.5h-14.5zM1514.1 2646.8h14.5v14.5h-14.5zM1517.3 2644.1h14.5v14.5h-14.5zM1520.5 2646.9h14.5v14.5h-14.5zM1523.7 2652.0h14.5v14.5h-14.5zM1526.9 2648.5h14.5v14.5h-14.5zM1530.1 2648.4h14.5v14.5h-14.5zM1533.3 2649.6h14.5v14.5h-14.5zM1536.6 2654.8h14.5v14.5h-14.5zM1539.8 2652.6h14.5v14.5h-14.5zM1543.0 2650.8h14.5v14.5h-14.5zM1546.2 2655.2h14.5v14.5h-14.5zM1549.4 2653.3h14.5v14.5h-14.5zM1552.6 2653.9h14.5v14.5h-14.5zM1555.8 2658.8h14.5v14.5h-14.5zM1559.0 2657.7h14.5v14.5h-14.5zM1562.2 2661.4h14.5v14.5h-14.5zM1565.4 2658.4h14.5v14.5h-14.5zM1568.6 2662.7h14.5v14.5h-14.5zM1571.8 2664.9h14.5v14.5h-14.5zM1575.0 2664.3h14.5v14.5h-14.5zM1578.3 2665.4h14.5v14.5h-14.5zM1581.5 2665.0h14.5v14.5h-14.5zM1584.7 2665.7h14.5v14.5h-14.5zM1587.9 2671.3h14.5v14.5h-14.5zM1591.1 2670.7h14.5v14.5h-14.5zM1594.3 2668.7h14.5v14.5h-14.5zM1597.5 2669.2h14.5v14.5h-14.5zM1600.7 2671.3h14.5v14.5h-14.5zM1603.9 2664.9h14.5v14.5h-14.5zM1607.1 2670.1h14.5v14.5h-14.5zM1610.3 2674.4h14.5v14.5h-14.5zM1613.5 2672.9h14.5v14.5h-14.5zM1616.7 2672.1h14.5v14.5h-14.5zM1619.9 2675.7h14.5v14.5h-14.5zM1623.2 2682.5h14.5v14.5h-14.5zM1626.4 2678.2h14.5v14.5h-14.5zM1629.6 2679.2h14.5v14.5h-14.5zM1632.8 2674.2h14.5v14.5h-14.5zM1636.0 2686.2h14.5v14.5h-14.5zM1639.2 2677.5h14.5v14.5h-14.5zM1642.4 2683.1h14.5v14.5h-14.5zM1645.6 2680.9h14.5v14.5h-14.5zM1648.8 2685.2h14.5v14.5h-14.5zM1652.0 2684.7h14.5v14.5h-14.5zM1655.2 2682.9h14.5v14.5h-14.5zM1658.4 2686.6h14.5v14.5h-14.5zM1661.6 2684.7h14.5v14.5h-14.5zM1664.9 2688.7h14.5v14.5h-14.5zM1668.1 2690.4h14.5v14.5h-14.5zM1671.3 2690.7h14.5v14.5h-14.5zM1674.5 2692.2h14.5v14.5h-14.5zM1677.7 2692.0h14.5v14.5h-14.5zM1680.9 2688.7h14.5v14.5h-14.5zM1684.1 2696.4h14.5v14.5h-14.5zM1687.3 2698.6h14.5v14.5h-14.5zM1690.5 2694.9h14.5v14.5h-14.5zM1693.7 2691.0h14.5v14.5h-14.5zM1696.9 2693.5h14.5v14.5h-14.5zM1700.1 2693.5h14.5v14.5h-14.5zM1703.3 2694.5h14.5v14.5h-14.5zM1706.6 2700.6h14.5v14.5h-14.5zM1709.8 2699.1h14.5v14.5h-14.5zM1713.0 2707.4h14.5v14.5h-14.5zM1716.2 2702.6h14.5v14.5h-14.5zM1719.4 2700.1h14.5v14.5h-14.5zM1722.6 2706.6h14.5v14.5h-14.5zM1725.8 2708.7h14.5v14.5h-14.5zM1729.0 2707.4h14.5v14.5h-14.5zM1732.2 2704.1h14.5v14.5h-14.5zM1735.4 2702.3h14.5v14.5h-14.5zM1738.6 2699.2h14.5v14.5h-14.5zM1741.8 2703.0h14.5v14.5h-14.5zM1745.0 2711.6h14.5v14.5h-14.5zM1748.3 2714.4h14.5v14.5h-14.5zM1751.5 2708.6h14.5v14.5h-14.5zM1754.7 2706.9h14.5v14.5h-14.5zM1757.9 2714.7h14.5v14.5h-14.5zM1761.1 2712.5h14.5v14.5h-14.5zM1764.3 2713.0h14.5v14.5h-14.5zM1767.5 2712.4h14.5v14.5h-14.5zM1770.7 2713.7h14.5v14.5h-14.5zM1773.9 2712.5h14.5v14.5h-14.5zM1777.1 2711.8h14.5v14.5h-14.5zM1780.3 2715.1h14.5v14.5h-14.5zM1783.5 2714.0h14.5v14.5h-14.5zM1786.7 2711.4h14.5v14.5h-14.5zM1790.0 2720.0h14.5v14.5h-14.5zM1793.2 2720.7h14.5v14.5h-14.5zM1796.4 2717.3h14.5v14.5h-14.5zM1799.6 2714.5h14.5v14.5h-14.5zM1802.8 2719.5h14.5v14.5h-14.5zM1806.0 2717.8h14.5v14.5h-14.5zM1809.2 2722.1h14.5v14.5h-14.5zM1812.4 2719.6h14.5v14.5h-14.5zM1815.6 2724.2h14.5v14.5h-14.5zM1818.8 2721.5h14.5v14.5h-14.5zM1822.0 2722.9h14.5v14.5h-14.5zM1825.2 2723.5h14.5v14.5h-14.5zM1828.4 2721.6h14.5v14.5h-14.5zM1831.7 2723.0h14.5v14.5h-14.5zM1834.9 2727.9h14.5v14.5h-14.5zM1838.1 2724.8h14.5v14.5h-14.5zM1841.3 2732.0h14.5v14.5h-14.5zM1844.5 2725.8h14.5v14.5h-14.5zM1847.7 2721.9h14.5v14.5h-14.5zM1850.9 2728.2h14.5v14.5h-14.5zM1854.1 2728.8h14.5v14.5h-14.5zM1857.3 2730.6h14.5v14.5h-14.5zM1860.5 2729.2h14.5v14.5h-14.5zM1863.7 2733.1h14.5v14.5h-14.5zM1866.9 2730.8h14.5v14.5h-14.5zM1870.1 2733.8h14.5v14.5h-14.5zM1873.4 2734.8h14.5v14.5h-14.5zM1876.6 2734.0h14.5v14.5h-14.5zM1879.8 2735.0h14.5v14.5h-14.5zM1883.0 2739.8h14.5v14.5h-14.5z"/>
<path fill="none" stroke="#992200" stroke-width="5.4" stroke-linejoin="round" stroke-linecap="butt" d="M310.5 2853.3 348.0 2853.3 350.5 2853.1 352.4 2852.7 353.6 2851.9 354.5 2850.7 355.3 2848.9 355.9 2847.0 357.0 2840.1 358.0 2829.6 359.4 2806.1 360.5 2774.7 361.5 2730.7 362.6 2672.7 364.7 2513.2 368.4 2160.7 370.0 2025.2 372.1 1897.3 373.2 1851.8 374.2 1817.3 375.8 1783.3 377.6 1757.9 378.7 1746.4 380.0 1736.0 381.5 1725.6 383.2 1715.8 385.0 1706.5 387.0 1698.2 389.1 1691.0 391.2 1685.4 393.4 1680.9 395.7 1677.6 397.9 1675.6 399.3 1675.0 400.7 1674.6 401.7 1674.6 403.1 1674.9 405.8 1676.3 408.3 1678.6 411.2 1682.2 414.1 1686.8 417.3 1692.5 420.5 1699.2 424.1 1707.5 429.5 1720.9 436.0 1738.3 466.0 1823.6 474.4 1846.7 482.3 1867.7 491.2 1890.5 499.9 1911.8 508.8 1932.5 517.9 1952.6 525.8 1969.3 534.0 1985.8 542.3 2001.8 550.7 2017.2 559.3 2032.4 568.1 2047.0 577.1 2061.4 586.4 2075.6 597.8 2092.1 609.5 2108.2 621.7 2124.1 634.3 2139.6 647.3 2154.8 661.0 2170.1 675.1 2185.0 689.8 2199.9 705.3 2214.8 721.2 2229.4 737.7 2243.9 755.2 2258.8 773.5 2273.6 792.4 2288.3 812.0 2303.1 832.6 2318.1 858.8 2336.4 885.7 2354.6 913.8 2372.9 943.1 2391.2 973.0 2409.3 1003.6 2427.3 1034.9 2445.0 1066.5 2462.3 1098.3 2479.1 1130.4 2495.5 1162.7 2511.4 1195.2 2526.9 1227.9 2541.9 1260.8 2556.5 1294.0 2570.6 1327.3 2584.2 1360.3 2597.2 1393.6 2609.7 1426.9 2621.8 1460.5 2633.4 1494.7 2644.7 1529.0 2655.5 1563.4 2665.9 1598.5 2676.1 1634.2 2685.8 1670.0 2695.2 1706.4 2704.2 1742.9 2712.8 1780.5 2721.1 1818.2 2729.1 1856.9 2736.8 1896.2 2744.1"/>
</g>
<g stroke="#000" stroke-width="5.5" stroke-linecap="butt">
<line x1="310.5" y1="1580.8" x2="310.5" y2="2862.8"/>
<line x1="307.8" y1="2860.0" x2="1897.2" y2="2860.0"/>
<line x1="285.2" y1="2860.0" x2="310.5" y2="2860.0"/>
<line x1="285.2" y1="2604.7" x2="310.5" y2="2604.7"/>
<line x1="285.2" y1="2349.4" x2="310.5" y2="2349.4"/>
<line x1="285.2" y1="2094.1" x2="310.5" y2="2094.1"/>
<line x1="285.2" y1="1838.8" x2="310.5" y2="1838.8"/>
<line x1="285.2" y1="1583.5" x2="310.5" y2="1583.5"/>
<line x1="297.8" y1="2732.3" x2="310.5" y2="2732.3"/>
<line x1="297.8" y1="2477.1" x2="310.5" y2="2477.1"/>
<line x1="297.8" y1="2221.8" x2="310.5" y2="2221.8"/>
<line x1="297.8" y1="1966.5" x2="310.5" y2="1966.5"/>
<line x1="297.8" y1="1711.1" x2="310.5" y2="1711.1"/>
<line x1="310.5" y1="2860.0" x2="310.5" y2="2885.2"/>
<line x1="706.5" y1="2860.0" x2="706.5" y2="2885.2"/>
<line x1="1102.5" y1="2860.0" x2="1102.5" y2="2885.2"/>
<line x1="1498.5" y1="2860.0" x2="1498.5" y2="2885.2"/>
<line x1="1894.5" y1="2860.0" x2="1894.5" y2="2885.2"/>
<line x1="508.5" y1="2860.0" x2="508.5" y2="2873.2"/>
<line x1="904.5" y1="2860.0" x2="904.5" y2="2873.2"/>
<line x1="1300.5" y1="2860.0" x2="1300.5" y2="2873.2"/>
<line x1="1696.5" y1="2860.0" x2="1696.5" y2="2873.2"/>
</g>
<text x="268.8" y="2878.0" text-anchor="end" class="tk">0.0</text>
<text x="268.8" y="2622.7" text-anchor="end" class="tk">0.2</text>
<text x="268.8" y="2367.4" text-anchor="end" class="tk">0.4</text>
<text x="268.8" y="2112.1" text-anchor="end" class="tk">0.6</text>
<text x="268.8" y="1856.8" text-anchor="end" class="tk">0.8</text>
<text x="268.8" y="1601.5" text-anchor="end" class="tk">1.0</text>
<text x="310.5" y="2947.6" text-anchor="middle" class="tk">0</text>
<text x="706.5" y="2947.6" text-anchor="middle" class="tk">2</text>
<text x="1102.5" y="2947.6" text-anchor="middle" class="tk">4</text>
<text x="1498.5" y="2947.6" text-anchor="middle" class="tk">6</text>
<text x="1894.5" y="2947.6" text-anchor="middle" class="tk">8</text>
<g clip-path="url(#cC)">
<path fill="#ff0000" shape-rendering="crispEdges" d="M312.0 3250.5h9v9h-9zM313.9 3265.8h9v9h-9zM315.8 3286.3h9v9h-9zM317.8 3298.7h9v9h-9zM319.7 3321.6h9v9h-9zM321.6 3339.7h9v9h-9zM323.5 3356.4h9v9h-9zM325.5 3384.2h9v9h-9zM327.4 3414.4h9v9h-9zM329.3 3418.0h9v9h-9zM331.2 3434.7h9v9h-9zM333.1 3447.1h9v9h-9zM335.1 3470.8h9v9h-9zM337.0 3481.7h9v9h-9zM338.9 3493.4h9v9h-9zM340.8 3514.5h9v9h-9zM342.8 3531.2h9v9h-9zM344.7 3544.6h9v9h-9zM346.6 3567.9h9v9h-9zM348.5 3568.9h9v9h-9zM350.5 3599.6h9v9h-9zM352.4 3609.5h9v9h-9zM354.3 3626.4h9v9h-9zM356.2 3642.8h9v9h-9zM358.1 3649.0h9v9h-9zM360.1 3659.5h9v9h-9zM362.0 3670.2h9v9h-9zM363.9 3688.9h9v9h-9zM365.8 3708.3h9v9h-9zM367.8 3712.5h9v9h-9zM369.7 3738.8h9v9h-9zM371.6 3740.2h9v9h-9zM373.5 3747.7h9v9h-9zM375.4 3757.6h9v9h-9zM377.4 3778.8h9v9h-9zM379.3 3790.9h9v9h-9zM381.2 3779.5h9v9h-9zM383.1 3803.2h9v9h-9zM385.1 3820.0h9v9h-9zM387.0 3826.2h9v9h-9zM388.9 3826.4h9v9h-9zM390.8 3826.9h9v9h-9zM392.7 3843.5h9v9h-9zM394.7 3843.3h9v9h-9zM396.6 3858.2h9v9h-9zM398.5 3864.5h9v9h-9zM400.4 3868.8h9v9h-9zM402.4 3886.3h9v9h-9zM404.3 3889.2h9v9h-9zM406.2 3901.8h9v9h-9zM408.1 3911.3h9v9h-9zM410.1 3909.4h9v9h-9zM412.0 3927.8h9v9h-9zM413.9 3928.5h9v9h-9zM415.8 3942.2h9v9h-9zM417.7 3943.9h9v9h-9zM419.7 3953.9h9v9h-9zM421.6 3948.1h9v9h-9zM423.5 3961.9h9v9h-9zM425.4 3967.8h9v9h-9zM427.4 3961.0h9v9h-9zM429.3 4001.7h9v9h-9zM431.2 3993.0h9v9h-9zM433.1 4011.1h9v9h-9zM435.0 3994.5h9v9h-9zM437.0 3996.0h9v9h-9zM438.9 3999.2h9v9h-9zM440.8 4007.1h9v9h-9zM442.7 4021.1h9v9h-9zM444.7 4004.4h9v9h-9zM446.6 4020.8h9v9h-9zM448.5 4030.0h9v9h-9zM450.4 4041.6h9v9h-9zM452.4 4033.1h9v9h-9zM454.3 4045.0h9v9h-9zM456.2 4048.8h9v9h-9zM458.1 4047.3h9v9h-9zM460.0 4051.2h9v9h-9zM462.0 4063.9h9v9h-9zM463.9 4049.8h9v9h-9zM465.8 4073.0h9v9h-9zM467.7 4077.6h9v9h-9zM469.7 4068.6h9v9h-9zM471.6 4073.5h9v9h-9zM473.5 4077.2h9v9h-9zM475.4 4084.6h9v9h-9zM477.3 4083.5h9v9h-9zM479.3 4091.8h9v9h-9zM481.2 4104.4h9v9h-9zM483.1 4085.4h9v9h-9zM485.0 4103.8h9v9h-9zM487.0 4099.0h9v9h-9zM488.9 4092.3h9v9h-9zM490.8 4100.9h9v9h-9zM492.7 4077.5h9v9h-9zM494.6 4118.1h9v9h-9zM496.6 4113.8h9v9h-9zM498.5 4107.6h9v9h-9zM500.4 4097.2h9v9h-9zM502.3 4114.2h9v9h-9zM504.3 4127.3h9v9h-9zM506.2 4104.1h9v9h-9zM508.1 4125.8h9v9h-9zM510.0 4120.6h9v9h-9zM512.0 4111.8h9v9h-9zM513.9 4128.9h9v9h-9zM515.8 4128.7h9v9h-9zM517.7 4121.3h9v9h-9zM519.6 4130.1h9v9h-9zM521.6 4127.1h9v9h-9zM523.5 4141.5h9v9h-9zM525.4 4135.1h9v9h-9zM527.3 4146.9h9v9h-9zM529.3 4153.6h9v9h-9zM531.2 4121.4h9v9h-9zM533.1 4136.6h9v9h-9zM535.0 4133.5h9v9h-9zM536.9 4154.8h9v9h-9zM538.9 4146.7h9v9h-9zM540.8 4150.1h9v9h-9zM542.7 4164.4h9v9h-9zM544.6 4145.0h9v9h-9zM546.6 4159.8h9v9h-9zM548.5 4155.5h9v9h-9zM550.4 4171.0h9v9h-9zM552.3 4145.2h9v9h-9zM554.2 4148.9h9v9h-9zM556.2 4154.1h9v9h-9zM558.1 4169.5h9v9h-9zM560.0 4166.7h9v9h-9zM561.9 4148.5h9v9h-9zM563.9 4166.2h9v9h-9zM565.8 4161.4h9v9h-9zM567.7 4163.9h9v9h-9zM569.6 4179.2h9v9h-9zM571.6 4150.5h9v9h-9zM573.5 4191.3h9v9h-9zM575.4 4167.3h9v9h-9zM577.3 4171.9h9v9h-9zM579.2 4190.5h9v9h-9zM581.2 4169.2h9v9h-9zM583.1 4168.0h9v9h-9zM585.0 4174.3h9v9h-9zM586.9 4185.5h9v9h-9zM588.9 4171.6h9v9h-9zM590.8 4164.6h9v9h-9zM592.7 4176.0h9v9h-9zM594.6 4159.0h9v9h-9zM596.5 4170.1h9v9h-9zM598.5 4171.9h9v9h-9zM600.4 4165.2h9v9h-9zM602.3 4190.5h9v9h-9zM604.2 4189.6h9v9h-9zM606.2 4177.7h9v9h-9zM608.1 4178.3h9v9h-9zM610.0 4166.8h9v9h-9zM611.9 4171.8h9v9h-9zM613.9 4184.3h9v9h-9zM615.8 4184.4h9v9h-9zM617.7 4191.1h9v9h-9zM619.6 4192.8h9v9h-9zM621.5 4194.5h9v9h-9zM623.5 4178.1h9v9h-9zM625.4 4195.9h9v9h-9zM627.3 4195.1h9v9h-9zM629.2 4189.1h9v9h-9zM631.2 4198.2h9v9h-9zM633.1 4195.2h9v9h-9zM635.0 4220.7h9v9h-9zM636.9 4188.5h9v9h-9zM638.8 4197.7h9v9h-9zM640.8 4191.8h9v9h-9zM642.7 4190.0h9v9h-9zM644.6 4219.4h9v9h-9zM646.5 4164.2h9v9h-9zM648.5 4193.9h9v9h-9zM650.4 4194.0h9v9h-9zM652.3 4220.3h9v9h-9zM654.2 4188.7h9v9h-9zM656.1 4191.8h9v9h-9zM658.1 4202.4h9v9h-9zM660.0 4194.5h9v9h-9zM661.9 4180.8h9v9h-9zM663.8 4202.8h9v9h-9zM665.8 4210.8h9v9h-9zM667.7 4180.6h9v9h-9zM669.6 4195.4h9v9h-9zM671.5 4201.6h9v9h-9zM673.5 4167.8h9v9h-9zM675.4 4197.4h9v9h-9zM677.3 4202.2h9v9h-9zM679.2 4196.4h9v9h-9zM681.1 4205.8h9v9h-9zM683.1 4197.4h9v9h-9zM685.0 4198.5h9v9h-9zM686.9 4209.9h9v9h-9zM688.8 4204.5h9v9h-9zM690.8 4196.7h9v9h-9zM692.7 4195.8h9v9h-9zM694.6 4193.1h9v9h-9zM696.5 4190.3h9v9h-9zM698.4 4198.2h9v9h-9zM700.4 4194.4h9v9h-9zM702.3 4207.5h9v9h-9zM704.2 4205.9h9v9h-9zM706.1 4187.3h9v9h-9zM708.1 4231.3h9v9h-9zM710.0 4197.3h9v9h-9zM711.9 4156.8h9v9h-9zM713.8 4230.0h9v9h-9zM715.7 4181.3h9v9h-9zM717.7 4228.9h9v9h-9zM719.6 4198.3h9v9h-9zM721.5 4180.1h9v9h-9zM723.4 4182.2h9v9h-9zM725.4 4217.3h9v9h-9zM727.3 4223.2h9v9h-9zM729.2 4225.4h9v9h-9zM731.1 4194.1h9v9h-9zM733.1 4210.4h9v9h-9zM735.0 4204.8h9v9h-9zM736.9 4201.2h9v9h-9zM738.8 4199.1h9v9h-9zM740.7 4197.4h9v9h-9zM742.7 4203.5h9v9h-9zM744.6 4228.8h9v9h-9zM746.5 4184.3h9v9h-9zM748.4 4245.6h9v9h-9zM750.4 4187.7h9v9h-9zM752.3 4214.6h9v9h-9zM754.2 4208.8h9v9h-9zM756.1 4213.6h9v9h-9zM758.0 4211.4h9v9h-9zM760.0 4206.4h9v9h-9zM761.9 4210.3h9v9h-9zM763.8 4222.2h9v9h-9zM765.7 4193.9h9v9h-9zM767.7 4214.8h9v9h-9zM769.6 4186.9h9v9h-9zM771.5 4208.7h9v9h-9zM773.4 4216.8h9v9h-9zM775.4 4200.2h9v9h-9zM777.3 4193.7h9v9h-9zM779.2 4220.2h9v9h-9zM781.1 4210.9h9v9h-9zM783.0 4186.0h9v9h-9zM785.0 4221.4h9v9h-9zM786.9 4219.3h9v9h-9zM788.8 4204.5h9v9h-9zM790.7 4224.7h9v9h-9zM792.7 4242.9h9v9h-9zM794.6 4231.4h9v9h-9zM796.5 4201.6h9v9h-9zM798.4 4197.6h9v9h-9zM800.3 4198.5h9v9h-9zM802.3 4201.5h9v9h-9zM804.2 4225.2h9v9h-9zM806.1 4197.4h9v9h-9zM808.0 4190.5h9v9h-9zM810.0 4217.5h9v9h-9zM811.9 4193.6h9v9h-9zM813.8 4212.7h9v9h-9zM815.7 4204.6h9v9h-9zM817.6 4202.1h9v9h-9zM819.6 4229.1h9v9h-9zM821.5 4186.1h9v9h-9zM823.4 4220.0h9v9h-9zM825.3 4209.0h9v9h-9zM827.3 4214.7h9v9h-9zM829.2 4200.9h9v9h-9zM831.1 4201.3h9v9h-9zM833.0 4207.3h9v9h-9zM835.0 4187.0h9v9h-9zM836.9 4203.5h9v9h-9zM838.8 4213.5h9v9h-9zM840.7 4249.7h9v9h-9zM842.6 4211.8h9v9h-9zM844.6 4212.0h9v9h-9zM846.5 4220.4h9v9h-9zM848.4 4220.3h9v9h-9zM850.3 4199.1h9v9h-9zM852.3 4192.6h9v9h-9zM854.2 4180.2h9v9h-9zM856.1 4191.2h9v9h-9zM858.0 4218.2h9v9h-9zM859.9 4204.1h9v9h-9zM861.9 4227.8h9v9h-9zM863.8 4197.3h9v9h-9zM865.7 4202.7h9v9h-9zM867.6 4216.8h9v9h-9zM869.6 4209.5h9v9h-9zM871.5 4211.6h9v9h-9zM873.4 4217.3h9v9h-9zM875.3 4188.7h9v9h-9zM877.2 4162.8h9v9h-9zM879.2 4196.0h9v9h-9zM881.1 4192.6h9v9h-9zM883.0 4205.7h9v9h-9zM884.9 4213.1h9v9h-9zM886.9 4176.1h9v9h-9zM888.8 4213.4h9v9h-9zM890.7 4202.3h9v9h-9zM892.6 4209.8h9v9h-9zM894.6 4199.5h9v9h-9zM896.5 4208.8h9v9h-9zM898.4 4199.5h9v9h-9zM900.3 4226.6h9v9h-9zM902.2 4209.6h9v9h-9zM904.2 4188.2h9v9h-9zM906.1 4223.2h9v9h-9zM908.0 4217.9h9v9h-9zM909.9 4188.2h9v9h-9zM911.9 4202.3h9v9h-9zM913.8 4192.6h9v9h-9zM915.7 4240.8h9v9h-9zM917.6 4206.1h9v9h-9zM919.5 4226.8h9v9h-9zM921.5 4228.5h9v9h-9zM923.4 4202.3h9v9h-9zM925.3 4191.0h9v9h-9zM927.2 4230.1h9v9h-9zM929.2 4224.4h9v9h-9zM931.1 4216.8h9v9h-9zM933.0 4210.2h9v9h-9zM934.9 4227.7h9v9h-9zM936.9 4175.4h9v9h-9zM938.8 4199.8h9v9h-9zM940.7 4213.6h9v9h-9zM942.6 4216.0h9v9h-9zM944.5 4174.5h9v9h-9zM946.5 4175.7h9v9h-9zM948.4 4215.6h9v9h-9zM950.3 4203.4h9v9h-9zM952.2 4190.0h9v9h-9zM954.2 4225.8h9v9h-9zM956.1 4217.1h9v9h-9zM958.0 4188.8h9v9h-9zM959.9 4218.7h9v9h-9zM961.8 4214.8h9v9h-9zM963.8 4228.2h9v9h-9zM965.7 4219.7h9v9h-9zM967.6 4198.6h9v9h-9zM969.5 4220.6h9v9h-9zM971.5 4227.7h9v9h-9zM973.4 4217.8h9v9h-9zM975.3 4182.7h9v9h-9zM977.2 4206.1h9v9h-9zM979.1 4216.9h9v9h-9zM981.1 4206.5h9v9h-9zM983.0 4202.3h9v9h-9zM984.9 4207.0h9v9h-9zM986.8 4235.2h9v9h-9zM988.8 4204.4h9v9h-9zM990.7 4211.9h9v9h-9zM992.6 4196.5h9v9h-9zM994.5 4228.7h9v9h-9zM996.5 4193.5h9v9h-9zM998.4 4216.1h9v9h-9zM1000.3 4233.9h9v9h-9zM1002.2 4189.4h9v9h-9zM1004.1 4216.5h9v9h-9zM1006.1 4203.5h9v9h-9zM1008.0 4211.3h9v9h-9zM1009.9 4192.9h9v9h-9zM1011.8 4192.8h9v9h-9zM1013.8 4192.6h9v9h-9zM1015.7 4198.5h9v9h-9zM1017.6 4232.7h9v9h-9zM1019.5 4233.7h9v9h-9zM1021.4 4206.1h9v9h-9zM1023.4 4223.0h9v9h-9zM1025.3 4202.2h9v9h-9zM1027.2 4206.6h9v9h-9zM1029.1 4229.8h9v9h-9zM1031.1 4224.3h9v9h-9zM1033.0 4225.7h9v9h-9zM1034.9 4222.1h9v9h-9zM1036.8 4212.1h9v9h-9zM1038.7 4199.1h9v9h-9zM1040.7 4189.4h9v9h-9zM1042.6 4223.4h9v9h-9zM1044.5 4217.4h9v9h-9zM1046.4 4186.3h9v9h-9zM1048.4 4196.0h9v9h-9zM1050.3 4205.7h9v9h-9zM1052.2 4243.6h9v9h-9zM1054.1 4223.9h9v9h-9zM1056.1 4206.8h9v9h-9zM1058.0 4217.8h9v9h-9zM1059.9 4179.9h9v9h-9zM1061.8 4207.8h9v9h-9zM1063.7 4205.0h9v9h-9zM1065.7 4225.3h9v9h-9zM1067.6 4224.5h9v9h-9zM1069.5 4219.0h9v9h-9zM1071.4 4218.4h9v9h-9zM1073.4 4212.6h9v9h-9zM1075.3 4203.7h9v9h-9zM1077.2 4205.7h9v9h-9zM1079.1 4194.4h9v9h-9zM1081.0 4229.1h9v9h-9zM1083.0 4206.1h9v9h-9zM1084.9 4205.6h9v9h-9zM1086.8 4185.8h9v9h-9zM1088.7 4212.4h9v9h-9zM1090.7 4204.4h9v9h-9zM1092.6 4221.2h9v9h-9zM1094.5 4202.9h9v9h-9zM1096.4 4203.3h9v9h-9zM1098.3 4218.4h9v9h-9zM1100.3 4215.6h9v9h-9zM1102.2 4209.7h9v9h-9zM1104.1 4200.6h9v9h-9zM1106.0 4226.1h9v9h-9zM1108.0 4196.2h9v9h-9zM1109.9 4214.1h9v9h-9zM1111.8 4181.2h9v9h-9zM1113.7 4187.7h9v9h-9zM1115.7 4215.1h9v9h-9zM1117.6 4218.4h9v9h-9zM1119.5 4173.0h9v9h-9zM1121.4 4199.9h9v9h-9zM1123.3 4200.8h9v9h-9zM1125.3 4215.4h9v9h-9zM1127.2 4211.1h9v9h-9zM1129.1 4197.3h9v9h-9zM1131.0 4200.1h9v9h-9zM1133.0 4221.4h9v9h-9zM1134.9 4190.9h9v9h-9zM1136.8 4204.6h9v9h-9zM1138.7 4223.2h9v9h-9zM1140.6 4194.5h9v9h-9zM1142.6 4211.8h9v9h-9zM1144.5 4197.6h9v9h-9zM1146.4 4217.3h9v9h-9zM1148.3 4203.8h9v9h-9zM1150.3 4233.1h9v9h-9zM1152.2 4203.7h9v9h-9zM1154.1 4231.5h9v9h-9zM1156.0 4206.8h9v9h-9zM1158.0 4246.5h9v9h-9zM1159.9 4210.1h9v9h-9zM1161.8 4198.5h9v9h-9zM1163.7 4202.0h9v9h-9zM1165.6 4191.6h9v9h-9zM1167.6 4225.0h9v9h-9zM1169.5 4186.1h9v9h-9zM1171.4 4185.5h9v9h-9zM1173.3 4226.8h9v9h-9zM1175.3 4220.9h9v9h-9zM1177.2 4217.6h9v9h-9zM1179.1 4209.5h9v9h-9zM1181.0 4206.4h9v9h-9zM1182.9 4245.5h9v9h-9zM1184.9 4200.5h9v9h-9zM1186.8 4212.9h9v9h-9zM1188.7 4224.2h9v9h-9zM1190.6 4195.2h9v9h-9zM1192.6 4214.3h9v9h-9zM1194.5 4192.5h9v9h-9zM1196.4 4201.4h9v9h-9zM1198.3 4213.9h9v9h-9zM1200.2 4192.0h9v9h-9zM1202.2 4197.4h9v9h-9zM1204.1 4216.6h9v9h-9zM1206.0 4232.9h9v9h-9zM1207.9 4217.2h9v9h-9zM1209.9 4200.1h9v9h-9zM1211.8 4212.7h9v9h-9zM1213.7 4183.3h9v9h-9zM1215.6 4205.4h9v9h-9zM1217.6 4206.4h9v9h-9zM1219.5 4203.3h9v9h-9zM1221.4 4222.2h9v9h-9zM1223.3 4211.0h9v9h-9zM1225.2 4218.9h9v9h-9zM1227.2 4243.7h9v9h-9zM1229.1 4235.4h9v9h-9zM1231.0 4198.4h9v9h-9zM1232.9 4215.7h9v9h-9zM1234.9 4211.0h9v9h-9zM1236.8 4230.9h9v9h-9zM1238.7 4217.9h9v9h-9zM1240.6 4197.7h9v9h-9zM1242.5 4207.8h9v9h-9zM1244.5 4216.9h9v9h-9zM1246.4 4186.7h9v9h-9zM1248.3 4210.1h9v9h-9zM1250.2 4214.4h9v9h-9zM1252.2 4192.4h9v9h-9zM1254.1 4234.7h9v9h-9zM1256.0 4201.1h9v9h-9zM1257.9 4225.6h9v9h-9zM1259.8 4220.8h9v9h-9zM1261.8 4219.3h9v9h-9zM1263.7 4207.3h9v9h-9zM1265.6 4207.7h9v9h-9zM1267.5 4204.8h9v9h-9zM1269.5 4206.2h9v9h-9zM1271.4 4188.6h9v9h-9zM1273.3 4184.4h9v9h-9zM1275.2 4198.8h9v9h-9zM1277.2 4198.1h9v9h-9zM1279.1 4214.7h9v9h-9zM1281.0 4225.4h9v9h-9zM1282.9 4200.5h9v9h-9zM1284.8 4208.7h9v9h-9zM1286.8 4196.6h9v9h-9zM1288.7 4236.0h9v9h-9zM1290.6 4169.9h9v9h-9zM1292.5 4227.9h9v9h-9zM1294.5 4208.7h9v9h-9zM1296.4 4194.7h9v9h-9zM1298.3 4229.5h9v9h-9zM1300.2 4217.3h9v9h-9zM1302.1 4238.9h9v9h-9zM1304.1 4230.2h9v9h-9zM1306.0 4237.7h9v9h-9zM1307.9 4207.7h9v9h-9zM1309.8 4204.9h9v9h-9zM1311.8 4213.9h9v9h-9zM1313.7 4190.6h9v9h-9zM1315.6 4188.8h9v9h-9zM1317.5 4209.3h9v9h-9zM1319.5 4212.4h9v9h-9zM1321.4 4213.2h9v9h-9zM1323.3 4215.8h9v9h-9zM1325.2 4190.0h9v9h-9zM1327.1 4205.7h9v9h-9zM1329.1 4214.0h9v9h-9zM1331.0 4212.5h9v9h-9zM1332.9 4201.1h9v9h-9zM1334.8 4215.0h9v9h-9zM1336.8 4204.5h9v9h-9zM1338.7 4209.7h9v9h-9zM1340.6 4189.3h9v9h-9zM1342.5 4192.1h9v9h-9zM1344.4 4229.9h9v9h-9zM1346.4 4211.5h9v9h-9zM1348.3 4198.7h9v9h-9zM1350.2 4215.7h9v9h-9zM1352.1 4197.2h9v9h-9zM1354.1 4204.2h9v9h-9zM1356.0 4200.4h9v9h-9zM1357.9 4210.1h9v9h-9zM1359.8 4204.7h9v9h-9zM1361.7 4201.4h9v9h-9zM1363.7 4230.7h9v9h-9zM1365.6 4222.6h9v9h-9zM1367.5 4224.1h9v9h-9zM1369.4 4184.4h9v9h-9zM1371.4 4204.7h9v9h-9zM1373.3 4203.6h9v9h-9zM1375.2 4206.6h9v9h-9zM1377.1 4216.7h9v9h-9zM1379.1 4220.0h9v9h-9zM1381.0 4196.7h9v9h-9zM1382.9 4214.6h9v9h-9zM1384.8 4185.9h9v9h-9zM1386.7 4206.2h9v9h-9zM1388.7 4207.7h9v9h-9zM1390.6 4212.3h9v9h-9zM1392.5 4210.2h9v9h-9zM1394.4 4208.6h9v9h-9zM1396.4 4186.8h9v9h-9zM1398.3 4174.8h9v9h-9zM1400.2 4226.0h9v9h-9zM1402.1 4205.3h9v9h-9zM1404.0 4198.7h9v9h-9zM1406.0 4222.3h9v9h-9zM1407.9 4218.3h9v9h-9zM1409.8 4215.8h9v9h-9zM1411.7 4244.3h9v9h-9zM1413.7 4199.5h9v9h-9zM1415.6 4209.7h9v9h-9zM1417.5 4210.4h9v9h-9zM1419.4 4207.8h9v9h-9zM1421.3 4205.4h9v9h-9zM1423.3 4175.2h9v9h-9zM1425.2 4206.4h9v9h-9zM1427.1 4196.8h9v9h-9zM1429.0 4216.6h9v9h-9zM1431.0 4203.9h9v9h-9zM1432.9 4213.6h9v9h-9zM1434.8 4211.2h9v9h-9zM1436.7 4222.2h9v9h-9zM1438.7 4220.9h9v9h-9zM1440.6 4202.3h9v9h-9zM1442.5 4198.1h9v9h-9zM1444.4 4202.2h9v9h-9zM1446.3 4218.8h9v9h-9zM1448.3 4204.4h9v9h-9zM1450.2 4246.1h9v9h-9zM1452.1 4195.2h9v9h-9zM1454.0 4209.5h9v9h-9zM1456.0 4205.0h9v9h-9zM1457.9 4191.9h9v9h-9zM1459.8 4215.1h9v9h-9zM1461.7 4194.9h9v9h-9zM1463.6 4215.3h9v9h-9zM1465.6 4200.9h9v9h-9zM1467.5 4214.8h9v9h-9zM1469.4 4204.4h9v9h-9zM1471.3 4187.7h9v9h-9zM1473.3 4218.4h9v9h-9zM1475.2 4217.8h9v9h-9zM1477.1 4213.6h9v9h-9zM1479.0 4204.4h9v9h-9zM1481.0 4168.6h9v9h-9zM1482.9 4217.3h9v9h-9zM1484.8 4238.6h9v9h-9zM1486.7 4218.3h9v9h-9zM1488.6 4231.9h9v9h-9zM1490.6 4216.9h9v9h-9zM1492.5 4208.5h9v9h-9zM1494.4 4222.8h9v9h-9zM1496.3 4218.7h9v9h-9zM1498.3 4236.0h9v9h-9zM1500.2 4206.1h9v9h-9zM1502.1 4219.7h9v9h-9zM1504.0 4192.8h9v9h-9zM1505.9 4193.4h9v9h-9zM1507.9 4221.4h9v9h-9zM1509.8 4214.1h9v9h-9zM1511.7 4207.9h9v9h-9zM1513.6 4197.6h9v9h-9zM1515.6 4233.1h9v9h-9zM1517.5 4209.7h9v9h-9zM1519.4 4181.4h9v9h-9zM1521.3 4209.9h9v9h-9zM1523.2 4205.4h9v9h-9zM1525.2 4208.6h9v9h-9zM1527.1 4226.0h9v9h-9zM1529.0 4194.7h9v9h-9zM1530.9 4204.7h9v9h-9zM1532.9 4206.2h9v9h-9zM1534.8 4198.0h9v9h-9zM1536.7 4197.1h9v9h-9zM1538.6 4236.2h9v9h-9zM1540.6 4201.5h9v9h-9zM1542.5 4217.1h9v9h-9zM1544.4 4206.2h9v9h-9zM1546.3 4219.0h9v9h-9zM1548.2 4221.2h9v9h-9zM1550.2 4194.6h9v9h-9zM1552.1 4208.6h9v9h-9zM1554.0 4212.6h9v9h-9zM1555.9 4212.7h9v9h-9zM1557.9 4207.3h9v9h-9zM1559.8 4208.7h9v9h-9zM1561.7 4243.0h9v9h-9zM1563.6 4221.1h9v9h-9zM1565.5 4211.8h9v9h-9zM1567.5 4197.5h9v9h-9zM1569.4 4188.4h9v9h-9zM1571.3 4222.0h9v9h-9zM1573.2 4180.0h9v9h-9zM1575.2 4206.9h9v9h-9zM1577.1 4201.1h9v9h-9zM1579.0 4216.0h9v9h-9zM1580.9 4217.0h9v9h-9zM1582.8 4187.2h9v9h-9zM1584.8 4211.3h9v9h-9zM1586.7 4209.6h9v9h-9zM1588.6 4191.2h9v9h-9zM1590.5 4182.9h9v9h-9zM1592.5 4229.9h9v9h-9zM1594.4 4210.8h9v9h-9zM1596.3 4208.2h9v9h-9zM1598.2 4181.5h9v9h-9zM1600.2 4172.0h9v9h-9zM1602.1 4208.7h9v9h-9zM1604.0 4202.5h9v9h-9zM1605.9 4195.3h9v9h-9zM1607.8 4191.1h9v9h-9zM1609.8 4212.5h9v9h-9zM1611.7 4195.3h9v9h-9zM1613.6 4218.0h9v9h-9zM1615.5 4246.9h9v9h-9zM1617.5 4227.9h9v9h-9zM1619.4 4204.6h9v9h-9zM1621.3 4196.3h9v9h-9zM1623.2 4240.7h9v9h-9zM1625.1 4234.1h9v9h-9zM1627.1 4208.1h9v9h-9zM1629.0 4257.0h9v9h-9zM1630.9 4199.4h9v9h-9zM1632.8 4192.5h9v9h-9zM1634.8 4251.1h9v9h-9zM1636.7 4196.3h9v9h-9zM1638.6 4210.3h9v9h-9zM1640.5 4186.7h9v9h-9zM1642.5 4203.3h9v9h-9zM1644.4 4210.9h9v9h-9zM1646.3 4205.6h9v9h-9zM1648.2 4193.6h9v9h-9zM1650.1 4204.5h9v9h-9zM1652.1 4206.7h9v9h-9zM1654.0 4228.3h9v9h-9zM1655.9 4200.2h9v9h-9zM1657.8 4206.8h9v9h-9zM1659.8 4180.3h9v9h-9zM1661.7 4207.4h9v9h-9zM1663.6 4208.4h9v9h-9zM1665.5 4216.3h9v9h-9zM1667.4 4196.6h9v9h-9zM1669.4 4210.1h9v9h-9zM1671.3 4217.4h9v9h-9zM1673.2 4183.7h9v9h-9zM1675.1 4181.1h9v9h-9zM1677.1 4213.7h9v9h-9zM1679.0 4222.0h9v9h-9zM1680.9 4190.6h9v9h-9zM1682.8 4219.2h9v9h-9zM1684.7 4165.8h9v9h-9zM1686.7 4209.0h9v9h-9zM1688.6 4192.9h9v9h-9zM1690.5 4226.0h9v9h-9zM1692.4 4207.5h9v9h-9zM1694.4 4191.0h9v9h-9zM1696.3 4200.5h9v9h-9zM1698.2 4214.8h9v9h-9zM1700.1 4171.1h9v9h-9zM1702.1 4196.1h9v9h-9zM1704.0 4210.3h9v9h-9zM1705.9 4215.8h9v9h-9zM1707.8 4210.9h9v9h-9zM1709.7 4187.2h9v9h-9zM1711.7 4218.2h9v9h-9zM1713.6 4206.4h9v9h-9zM1715.5 4218.9h9v9h-9zM1717.4 4188.6h9v9h-9zM1719.4 4209.3h9v9h-9zM1721.3 4194.3h9v9h-9zM1723.2 4198.6h9v9h-9zM1725.1 4215.4h9v9h-9zM1727.0 4196.6h9v9h-9zM1729.0 4193.1h9v9h-9zM1730.9 4223.7h9v9h-9zM1732.8 4196.6h9v9h-9zM1734.7 4154.8h9v9h-9zM1736.7 4211.2h9v9h-9zM1738.6 4197.5h9v9h-9zM1740.5 4226.5h9v9h-9zM1742.4 4200.1h9v9h-9zM1744.3 4215.5h9v9h-9zM1746.3 4195.6h9v9h-9zM1748.2 4207.6h9v9h-9zM1750.1 4224.1h9v9h-9zM1752.0 4190.7h9v9h-9zM1754.0 4210.1h9v9h-9zM1755.9 4221.8h9v9h-9zM1757.8 4205.9h9v9h-9zM1759.7 4221.1h9v9h-9zM1761.7 4201.1h9v9h-9zM1763.6 4207.8h9v9h-9zM1765.5 4212.3h9v9h-9zM1767.4 4197.1h9v9h-9zM1769.3 4225.6h9v9h-9zM1771.3 4192.6h9v9h-9zM1773.2 4236.3h9v9h-9zM1775.1 4183.3h9v9h-9zM1777.0 4204.2h9v9h-9zM1779.0 4210.8h9v9h-9zM1780.9 4217.7h9v9h-9zM1782.8 4198.8h9v9h-9zM1784.7 4209.2h9v9h-9zM1786.6 4209.5h9v9h-9zM1788.6 4191.7h9v9h-9zM1790.5 4213.3h9v9h-9zM1792.4 4210.3h9v9h-9zM1794.3 4200.6h9v9h-9zM1796.3 4191.1h9v9h-9zM1798.2 4209.1h9v9h-9zM1800.1 4204.5h9v9h-9zM1802.0 4206.2h9v9h-9zM1804.0 4195.9h9v9h-9zM1805.9 4184.9h9v9h-9zM1807.8 4220.6h9v9h-9zM1809.7 4208.8h9v9h-9zM1811.6 4207.6h9v9h-9zM1813.6 4198.2h9v9h-9zM1815.5 4184.8h9v9h-9zM1817.4 4207.1h9v9h-9zM1819.3 4203.7h9v9h-9zM1821.3 4190.2h9v9h-9zM1823.2 4225.2h9v9h-9zM1825.1 4218.2h9v9h-9zM1827.0 4213.5h9v9h-9zM1828.9 4207.0h9v9h-9zM1830.9 4203.5h9v9h-9zM1832.8 4214.5h9v9h-9zM1834.7 4181.1h9v9h-9zM1836.6 4217.3h9v9h-9zM1838.6 4209.9h9v9h-9zM1840.5 4190.9h9v9h-9zM1842.4 4195.5h9v9h-9zM1844.3 4207.1h9v9h-9zM1846.2 4201.4h9v9h-9zM1848.2 4194.9h9v9h-9zM1850.1 4207.1h9v9h-9zM1852.0 4197.4h9v9h-9zM1853.9 4220.5h9v9h-9zM1855.9 4205.9h9v9h-9zM1857.8 4231.2h9v9h-9zM1859.7 4220.2h9v9h-9zM1861.6 4223.9h9v9h-9zM1863.6 4188.6h9v9h-9zM1865.5 4213.9h9v9h-9zM1867.4 4202.7h9v9h-9zM1869.3 4220.8h9v9h-9zM1871.2 4210.1h9v9h-9zM1873.2 4211.3h9v9h-9zM1875.1 4219.8h9v9h-9zM1877.0 4194.5h9v9h-9zM1878.9 4231.8h9v9h-9zM1880.9 4197.9h9v9h-9zM1882.8 4167.9h9v9h-9zM1884.7 4219.4h9v9h-9zM1886.6 4206.8h9v9h-9zM1888.5 4230.4h9v9h-9zM1890.5 4207.7h9v9h-9z"/>
<path fill="none" stroke="#6e0000" stroke-width="8.5" stroke-linejoin="round" stroke-linecap="butt" d="M316.5 3255.0 320.6 3290.3 331.6 3400.7 336.9 3451.9 342.7 3494.5 348.7 3547.2 357.5 3619.7 361.8 3651.9 370.3 3710.8 374.1 3734.5 378.5 3759.1 384.2 3788.5 390.2 3817.4 396.1 3844.3 402.7 3872.5 412.2 3911.4 419.2 3938.5 424.9 3959.2 430.0 3975.4 438.6 3999.4 447.4 4022.3 455.9 4042.6 464.1 4060.8 472.1 4076.9 479.8 4090.4 484.9 4098.4 489.8 4105.3 494.3 4110.7 499.4 4116.2 514.4 4130.1 532.1 4147.9 539.7 4155.1 543.9 4158.6 547.5 4161.3 558.1 4168.0 568.9 4174.3 579.1 4179.6 589.0 4184.2 598.8 4188.1 605.9 4190.6 612.6 4192.5 633.4 4197.8 649.0 4201.5 658.8 4203.4 667.7 4205.0 676.1 4206.2 684.1 4207.0 719.5 4209.4 756.4 4211.0 794.4 4212.0 839.4 4212.7 894.4 4213.2 966.4 4213.5 1155.9 4213.6 1898.4 4213.7"/>
<path fill="#5f73f6" shape-rendering="crispEdges" d="M316.1 4215.9l6.75 11.691h-13.5zM318.0 4196.3l6.75 11.691h-13.5zM319.9 4212.6l6.75 11.691h-13.5zM321.9 4230.7l6.75 11.691h-13.5zM323.8 4227.4l6.75 11.691h-13.5zM325.7 4232.7l6.75 11.691h-13.5zM327.6 4220.7l6.75 11.691h-13.5zM329.6 4210.3l6.75 11.691h-13.5zM331.5 4225.2l6.75 11.691h-13.5zM333.4 4234.9l6.75 11.691h-13.5zM335.3 4232.2l6.75 11.691h-13.5zM337.3 4222.6l6.75 11.691h-13.5zM339.2 4250.8l6.75 11.691h-13.5zM341.1 4218.8l6.75 11.691h-13.5zM343.0 4221.3l6.75 11.691h-13.5zM344.9 4252.7l6.75 11.691h-13.5zM346.9 4213.7l6.75 11.691h-13.5zM348.8 4244.7l6.75 11.691h-13.5zM350.7 4229.6l6.75 11.691h-13.5zM352.6 4214.7l6.75 11.691h-13.5zM354.6 4245.6l6.75 11.691h-13.5zM356.5 4248.2l6.75 11.691h-13.5zM358.4 4240.4l6.75 11.691h-13.5zM360.3 4240.2l6.75 11.691h-13.5zM362.2 4230.0l6.75 11.691h-13.5zM364.2 4234.4l6.75 11.691h-13.5zM366.1 4234.2l6.75 11.691h-13.5zM368.0 4234.1l6.75 11.691h-13.5zM369.9 4230.9l6.75 11.691h-13.5zM371.9 4238.4l6.75 11.691h-13.5zM373.8 4225.4l6.75 11.691h-13.5zM375.7 4229.1l6.75 11.691h-13.5zM377.6 4240.2l6.75 11.691h-13.5zM379.6 4208.9l6.75 11.691h-13.5zM381.5 4242.9l6.75 11.691h-13.5zM383.4 4220.7l6.75 11.691h-13.5zM385.3 4237.0l6.75 11.691h-13.5zM387.2 4224.6l6.75 11.691h-13.5zM389.2 4222.7l6.75 11.691h-13.5zM391.1 4218.7l6.75 11.691h-13.5zM393.0 4212.4l6.75 11.691h-13.5zM394.9 4237.3l6.75 11.691h-13.5zM396.9 4196.0l6.75 11.691h-13.5zM398.8 4223.1l6.75 11.691h-13.5zM400.7 4236.5l6.75 11.691h-13.5zM402.6 4242.4l6.75 11.691h-13.5zM404.5 4200.9l6.75 11.691h-13.5zM406.5 4208.6l6.75 11.691h-13.5zM408.4 4227.0l6.75 11.691h-13.5zM410.3 4218.1l6.75 11.691h-13.5zM412.2 4211.7l6.75 11.691h-13.5zM414.2 4225.2l6.75 11.691h-13.5zM416.1 4230.9l6.75 11.691h-13.5zM418.0 4226.4l6.75 11.691h-13.5zM419.9 4216.4l6.75 11.691h-13.5zM421.8 4225.4l6.75 11.691h-13.5zM423.8 4239.3l6.75 11.691h-13.5zM425.7 4216.7l6.75 11.691h-13.5zM427.6 4244.5l6.75 11.691h-13.5zM429.5 4233.3l6.75 11.691h-13.5zM431.5 4210.6l6.75 11.691h-13.5zM433.4 4221.7l6.75 11.691h-13.5zM435.3 4221.6l6.75 11.691h-13.5zM437.2 4222.8l6.75 11.691h-13.5zM439.2 4212.1l6.75 11.691h-13.5zM441.1 4224.2l6.75 11.691h-13.5zM443.0 4245.5l6.75 11.691h-13.5zM444.9 4220.4l6.75 11.691h-13.5zM446.8 4257.8l6.75 11.691h-13.5zM448.8 4246.1l6.75 11.691h-13.5zM450.7 4204.5l6.75 11.691h-13.5zM452.6 4210.4l6.75 11.691h-13.5zM454.5 4227.3l6.75 11.691h-13.5zM456.5 4222.7l6.75 11.691h-13.5zM458.4 4220.6l6.75 11.691h-13.5zM460.3 4209.9l6.75 11.691h-13.5zM462.2 4229.9l6.75 11.691h-13.5zM464.1 4230.9l6.75 11.691h-13.5zM466.1 4227.8l6.75 11.691h-13.5zM468.0 4218.8l6.75 11.691h-13.5zM469.9 4217.1l6.75 11.691h-13.5zM471.8 4224.4l6.75 11.691h-13.5zM473.8 4210.9l6.75 11.691h-13.5zM475.7 4231.2l6.75 11.691h-13.5zM477.6 4220.0l6.75 11.691h-13.5zM479.5 4226.9l6.75 11.691h-13.5zM481.4 4230.3l6.75 11.691h-13.5zM483.4 4204.3l6.75 11.691h-13.5zM485.3 4222.0l6.75 11.691h-13.5zM487.2 4229.7l6.75 11.691h-13.5zM489.1 4217.4l6.75 11.691h-13.5zM491.1 4229.3l6.75 11.691h-13.5zM493.0 4210.5l6.75 11.691h-13.5zM494.9 4207.4l6.75 11.691h-13.5zM496.8 4205.1l6.75 11.691h-13.5zM498.8 4229.2l6.75 11.691h-13.5zM500.7 4218.4l6.75 11.691h-13.5zM502.6 4195.0l6.75 11.691h-13.5zM504.5 4218.9l6.75 11.691h-13.5zM506.4 4201.4l6.75 11.691h-13.5zM508.4 4198.2l6.75 11.691h-13.5zM510.3 4232.0l6.75 11.691h-13.5zM512.2 4201.5l6.75 11.691h-13.5zM514.1 4206.7l6.75 11.691h-13.5zM516.1 4205.1l6.75 11.691h-13.5zM518.0 4195.4l6.75 11.691h-13.5zM519.9 4209.7l6.75 11.691h-13.5zM521.8 4214.1l6.75 11.691h-13.5zM523.7 4207.7l6.75 11.691h-13.5zM525.7 4218.8l6.75 11.691h-13.5zM527.6 4208.8l6.75 11.691h-13.5zM529.5 4238.3l6.75 11.691h-13.5zM531.4 4194.0l6.75 11.691h-13.5zM533.4 4220.6l6.75 11.691h-13.5zM535.3 4207.8l6.75 11.691h-13.5zM537.2 4210.4l6.75 11.691h-13.5zM539.1 4212.8l6.75 11.691h-13.5zM541.1 4212.6l6.75 11.691h-13.5zM543.0 4213.1l6.75 11.691h-13.5zM544.9 4233.2l6.75 11.691h-13.5zM546.8 4220.1l6.75 11.691h-13.5zM548.7 4199.4l6.75 11.691h-13.5zM550.7 4225.7l6.75 11.691h-13.5zM552.6 4226.0l6.75 11.691h-13.5zM554.5 4188.1l6.75 11.691h-13.5zM556.4 4198.9l6.75 11.691h-13.5zM558.4 4194.6l6.75 11.691h-13.5zM560.3 4213.3l6.75 11.691h-13.5zM562.2 4209.9l6.75 11.691h-13.5zM564.1 4203.9l6.75 11.691h-13.5zM566.0 4206.2l6.75 11.691h-13.5zM568.0 4214.0l6.75 11.691h-13.5zM569.9 4230.4l6.75 11.691h-13.5zM571.8 4221.6l6.75 11.691h-13.5zM573.7 4230.9l6.75 11.691h-13.5zM575.7 4193.9l6.75 11.691h-13.5zM577.6 4217.6l6.75 11.691h-13.5zM579.5 4214.9l6.75 11.691h-13.5zM581.4 4209.3l6.75 11.691h-13.5zM583.3 4212.5l6.75 11.691h-13.5zM585.3 4206.3l6.75 11.691h-13.5zM587.2 4220.1l6.75 11.691h-13.5zM589.1 4231.0l6.75 11.691h-13.5zM591.0 4191.4l6.75 11.691h-13.5zM593.0 4221.1l6.75 11.691h-13.5zM594.9 4218.3l6.75 11.691h-13.5zM596.8 4222.1l6.75 11.691h-13.5zM598.7 4219.1l6.75 11.691h-13.5zM600.7 4212.2l6.75 11.691h-13.5zM602.6 4203.3l6.75 11.691h-13.5zM604.5 4225.2l6.75 11.691h-13.5zM606.4 4208.9l6.75 11.691h-13.5zM608.3 4220.5l6.75 11.691h-13.5zM610.3 4197.7l6.75 11.691h-13.5zM612.2 4227.3l6.75 11.691h-13.5zM614.1 4211.1l6.75 11.691h-13.5zM616.0 4203.6l6.75 11.691h-13.5zM618.0 4228.8l6.75 11.691h-13.5zM619.9 4210.9l6.75 11.691h-13.5zM621.8 4210.4l6.75 11.691h-13.5zM623.7 4221.9l6.75 11.691h-13.5zM625.6 4214.8l6.75 11.691h-13.5zM627.6 4200.0l6.75 11.691h-13.5zM629.5 4209.1l6.75 11.691h-13.5zM631.4 4217.2l6.75 11.691h-13.5zM633.3 4214.6l6.75 11.691h-13.5zM635.3 4206.6l6.75 11.691h-13.5zM637.2 4196.5l6.75 11.691h-13.5zM639.1 4202.3l6.75 11.691h-13.5zM641.0 4203.0l6.75 11.691h-13.5zM642.9 4192.8l6.75 11.691h-13.5zM644.9 4230.9l6.75 11.691h-13.5zM646.8 4229.6l6.75 11.691h-13.5zM648.7 4239.8l6.75 11.691h-13.5zM650.6 4201.7l6.75 11.691h-13.5zM652.6 4240.0l6.75 11.691h-13.5zM654.5 4212.4l6.75 11.691h-13.5zM656.4 4202.6l6.75 11.691h-13.5zM658.3 4229.0l6.75 11.691h-13.5zM660.3 4220.0l6.75 11.691h-13.5zM662.2 4215.1l6.75 11.691h-13.5zM664.1 4202.8l6.75 11.691h-13.5zM666.0 4230.5l6.75 11.691h-13.5zM667.9 4207.9l6.75 11.691h-13.5zM669.9 4203.2l6.75 11.691h-13.5zM671.8 4210.0l6.75 11.691h-13.5zM673.7 4209.8l6.75 11.691h-13.5zM675.6 4196.3l6.75 11.691h-13.5zM677.6 4209.0l6.75 11.691h-13.5zM679.5 4212.0l6.75 11.691h-13.5zM681.4 4215.8l6.75 11.691h-13.5zM683.3 4203.6l6.75 11.691h-13.5zM685.2 4215.2l6.75 11.691h-13.5zM687.2 4203.5l6.75 11.691h-13.5zM689.1 4210.4l6.75 11.691h-13.5zM691.0 4197.6l6.75 11.691h-13.5zM692.9 4221.4l6.75 11.691h-13.5zM694.9 4210.6l6.75 11.691h-13.5zM696.8 4207.2l6.75 11.691h-13.5zM698.7 4206.4l6.75 11.691h-13.5zM700.6 4197.4l6.75 11.691h-13.5zM702.6 4206.6l6.75 11.691h-13.5zM704.5 4200.2l6.75 11.691h-13.5zM706.4 4187.0l6.75 11.691h-13.5zM708.3 4200.9l6.75 11.691h-13.5zM710.2 4224.6l6.75 11.691h-13.5zM712.2 4229.2l6.75 11.691h-13.5zM714.1 4203.0l6.75 11.691h-13.5zM716.0 4216.1l6.75 11.691h-13.5zM717.9 4207.7l6.75 11.691h-13.5zM719.9 4213.5l6.75 11.691h-13.5zM721.8 4195.0l6.75 11.691h-13.5zM723.7 4196.3l6.75 11.691h-13.5zM725.6 4225.5l6.75 11.691h-13.5zM727.5 4207.9l6.75 11.691h-13.5zM729.5 4215.1l6.75 11.691h-13.5zM731.4 4227.7l6.75 11.691h-13.5zM733.3 4203.1l6.75 11.691h-13.5zM735.2 4213.0l6.75 11.691h-13.5zM737.2 4205.6l6.75 11.691h-13.5zM739.1 4180.0l6.75 11.691h-13.5zM741.0 4194.4l6.75 11.691h-13.5zM742.9 4197.3l6.75 11.691h-13.5zM744.8 4216.3l6.75 11.691h-13.5zM746.8 4226.1l6.75 11.691h-13.5zM748.7 4195.4l6.75 11.691h-13.5zM750.6 4215.0l6.75 11.691h-13.5zM752.5 4210.5l6.75 11.691h-13.5zM754.5 4215.9l6.75 11.691h-13.5zM756.4 4209.8l6.75 11.691h-13.5zM758.3 4180.5l6.75 11.691h-13.5zM760.2 4215.1l6.75 11.691h-13.5zM762.2 4214.6l6.75 11.691h-13.5zM764.1 4208.5l6.75 11.691h-13.5zM766.0 4207.4l6.75 11.691h-13.5zM767.9 4226.3l6.75 11.691h-13.5zM769.8 4233.6l6.75 11.691h-13.5zM771.8 4218.4l6.75 11.691h-13.5zM773.7 4213.7l6.75 11.691h-13.5zM775.6 4221.1l6.75 11.691h-13.5zM777.5 4223.8l6.75 11.691h-13.5zM779.5 4223.1l6.75 11.691h-13.5zM781.4 4216.1l6.75 11.691h-13.5zM783.3 4212.6l6.75 11.691h-13.5zM785.2 4232.0l6.75 11.691h-13.5zM787.1 4218.1l6.75 11.691h-13.5zM789.1 4206.6l6.75 11.691h-13.5zM791.0 4212.7l6.75 11.691h-13.5zM792.9 4228.6l6.75 11.691h-13.5zM794.8 4215.7l6.75 11.691h-13.5zM796.8 4211.4l6.75 11.691h-13.5zM798.7 4201.2l6.75 11.691h-13.5zM800.6 4232.0l6.75 11.691h-13.5zM802.5 4202.3l6.75 11.691h-13.5zM804.4 4217.1l6.75 11.691h-13.5zM806.4 4208.5l6.75 11.691h-13.5zM808.3 4202.3l6.75 11.691h-13.5zM810.2 4222.3l6.75 11.691h-13.5zM812.1 4221.5l6.75 11.691h-13.5zM814.1 4212.6l6.75 11.691h-13.5zM816.0 4201.7l6.75 11.691h-13.5zM817.9 4218.1l6.75 11.691h-13.5zM819.8 4229.4l6.75 11.691h-13.5zM821.8 4220.1l6.75 11.691h-13.5zM823.7 4206.1l6.75 11.691h-13.5zM825.6 4196.0l6.75 11.691h-13.5zM827.5 4217.7l6.75 11.691h-13.5zM829.4 4215.3l6.75 11.691h-13.5zM831.4 4213.4l6.75 11.691h-13.5zM833.3 4212.8l6.75 11.691h-13.5zM835.2 4223.4l6.75 11.691h-13.5zM837.1 4216.8l6.75 11.691h-13.5zM839.1 4208.3l6.75 11.691h-13.5zM841.0 4209.7l6.75 11.691h-13.5zM842.9 4210.8l6.75 11.691h-13.5zM844.8 4224.2l6.75 11.691h-13.5zM846.7 4218.2l6.75 11.691h-13.5zM848.7 4220.4l6.75 11.691h-13.5zM850.6 4197.3l6.75 11.691h-13.5zM852.5 4192.0l6.75 11.691h-13.5zM854.4 4206.5l6.75 11.691h-13.5zM856.4 4190.1l6.75 11.691h-13.5zM858.3 4214.8l6.75 11.691h-13.5zM860.2 4214.7l6.75 11.691h-13.5zM862.1 4227.9l6.75 11.691h-13.5zM864.0 4207.9l6.75 11.691h-13.5zM866.0 4216.9l6.75 11.691h-13.5zM867.9 4209.7l6.75 11.691h-13.5zM869.8 4204.5l6.75 11.691h-13.5zM871.7 4214.0l6.75 11.691h-13.5zM873.7 4225.6l6.75 11.691h-13.5zM875.6 4211.4l6.75 11.691h-13.5zM877.5 4211.8l6.75 11.691h-13.5zM879.4 4210.4l6.75 11.691h-13.5zM881.4 4201.9l6.75 11.691h-13.5zM883.3 4213.6l6.75 11.691h-13.5zM885.2 4214.2l6.75 11.691h-13.5zM887.1 4187.8l6.75 11.691h-13.5zM889.0 4196.5l6.75 11.691h-13.5zM891.0 4211.9l6.75 11.691h-13.5zM892.9 4223.0l6.75 11.691h-13.5zM894.8 4216.5l6.75 11.691h-13.5zM896.7 4205.5l6.75 11.691h-13.5zM898.7 4199.4l6.75 11.691h-13.5zM900.6 4178.6l6.75 11.691h-13.5zM902.5 4213.7l6.75 11.691h-13.5zM904.4 4208.4l6.75 11.691h-13.5zM906.3 4215.1l6.75 11.691h-13.5zM908.3 4209.3l6.75 11.691h-13.5zM910.2 4215.4l6.75 11.691h-13.5zM912.1 4224.5l6.75 11.691h-13.5zM914.0 4196.7l6.75 11.691h-13.5zM916.0 4208.6l6.75 11.691h-13.5zM917.9 4193.1l6.75 11.691h-13.5zM919.8 4216.9l6.75 11.691h-13.5zM921.7 4206.7l6.75 11.691h-13.5zM923.7 4201.4l6.75 11.691h-13.5zM925.6 4235.2l6.75 11.691h-13.5zM927.5 4227.7l6.75 11.691h-13.5zM929.4 4200.1l6.75 11.691h-13.5zM931.3 4208.7l6.75 11.691h-13.5zM933.3 4234.6l6.75 11.691h-13.5zM935.2 4219.9l6.75 11.691h-13.5zM937.1 4224.1l6.75 11.691h-13.5zM939.0 4216.5l6.75 11.691h-13.5zM941.0 4189.3l6.75 11.691h-13.5zM942.9 4217.6l6.75 11.691h-13.5zM944.8 4182.7l6.75 11.691h-13.5zM946.7 4213.3l6.75 11.691h-13.5zM948.6 4219.7l6.75 11.691h-13.5zM950.6 4188.8l6.75 11.691h-13.5zM952.5 4197.1l6.75 11.691h-13.5zM954.4 4191.2l6.75 11.691h-13.5zM956.3 4183.6l6.75 11.691h-13.5zM958.3 4195.4l6.75 11.691h-13.5zM960.2 4193.2l6.75 11.691h-13.5zM962.1 4232.9l6.75 11.691h-13.5zM964.0 4220.8l6.75 11.691h-13.5zM965.9 4203.6l6.75 11.691h-13.5zM967.9 4206.8l6.75 11.691h-13.5zM969.8 4199.8l6.75 11.691h-13.5zM971.7 4216.0l6.75 11.691h-13.5zM973.6 4194.4l6.75 11.691h-13.5zM975.6 4182.1l6.75 11.691h-13.5zM977.5 4201.5l6.75 11.691h-13.5zM979.4 4198.0l6.75 11.691h-13.5zM981.3 4202.4l6.75 11.691h-13.5zM983.3 4196.7l6.75 11.691h-13.5zM985.2 4206.4l6.75 11.691h-13.5zM987.1 4216.1l6.75 11.691h-13.5zM989.0 4206.6l6.75 11.691h-13.5zM990.9 4207.7l6.75 11.691h-13.5zM992.9 4230.1l6.75 11.691h-13.5zM994.8 4206.0l6.75 11.691h-13.5zM996.7 4208.8l6.75 11.691h-13.5zM998.6 4206.3l6.75 11.691h-13.5zM1000.6 4216.7l6.75 11.691h-13.5zM1002.5 4202.6l6.75 11.691h-13.5zM1004.4 4200.6l6.75 11.691h-13.5zM1006.3 4218.9l6.75 11.691h-13.5zM1008.2 4204.7l6.75 11.691h-13.5zM1010.2 4198.4l6.75 11.691h-13.5zM1012.1 4199.0l6.75 11.691h-13.5zM1014.0 4221.9l6.75 11.691h-13.5zM1015.9 4223.3l6.75 11.691h-13.5zM1017.9 4208.9l6.75 11.691h-13.5zM1019.8 4223.7l6.75 11.691h-13.5zM1021.7 4174.8l6.75 11.691h-13.5zM1023.6 4220.6l6.75 11.691h-13.5zM1025.5 4220.4l6.75 11.691h-13.5zM1027.5 4200.5l6.75 11.691h-13.5zM1029.4 4216.0l6.75 11.691h-13.5zM1031.3 4242.0l6.75 11.691h-13.5zM1033.2 4211.6l6.75 11.691h-13.5zM1035.2 4223.3l6.75 11.691h-13.5zM1037.1 4217.0l6.75 11.691h-13.5zM1039.0 4232.2l6.75 11.691h-13.5zM1040.9 4222.4l6.75 11.691h-13.5zM1042.9 4212.2l6.75 11.691h-13.5zM1044.8 4211.0l6.75 11.691h-13.5zM1046.7 4225.5l6.75 11.691h-13.5zM1048.6 4220.1l6.75 11.691h-13.5zM1050.5 4222.0l6.75 11.691h-13.5zM1052.5 4208.2l6.75 11.691h-13.5zM1054.4 4212.3l6.75 11.691h-13.5zM1056.3 4227.7l6.75 11.691h-13.5zM1058.2 4201.3l6.75 11.691h-13.5zM1060.2 4220.1l6.75 11.691h-13.5zM1062.1 4204.9l6.75 11.691h-13.5zM1064.0 4223.2l6.75 11.691h-13.5zM1065.9 4206.2l6.75 11.691h-13.5zM1067.8 4212.1l6.75 11.691h-13.5zM1069.8 4209.7l6.75 11.691h-13.5zM1071.7 4203.4l6.75 11.691h-13.5zM1073.6 4204.3l6.75 11.691h-13.5zM1075.5 4208.1l6.75 11.691h-13.5zM1077.5 4208.2l6.75 11.691h-13.5zM1079.4 4228.3l6.75 11.691h-13.5zM1081.3 4211.4l6.75 11.691h-13.5zM1083.2 4241.3l6.75 11.691h-13.5zM1085.2 4242.0l6.75 11.691h-13.5zM1087.1 4214.8l6.75 11.691h-13.5zM1089.0 4213.6l6.75 11.691h-13.5zM1090.9 4189.3l6.75 11.691h-13.5zM1092.8 4201.0l6.75 11.691h-13.5zM1094.8 4194.7l6.75 11.691h-13.5zM1096.7 4214.8l6.75 11.691h-13.5zM1098.6 4204.1l6.75 11.691h-13.5zM1100.5 4193.9l6.75 11.691h-13.5zM1102.5 4202.8l6.75 11.691h-13.5zM1104.4 4205.3l6.75 11.691h-13.5zM1106.3 4208.8l6.75 11.691h-13.5zM1108.2 4223.3l6.75 11.691h-13.5zM1110.1 4222.9l6.75 11.691h-13.5zM1112.1 4230.5l6.75 11.691h-13.5zM1114.0 4204.3l6.75 11.691h-13.5zM1115.9 4213.9l6.75 11.691h-13.5zM1117.8 4219.7l6.75 11.691h-13.5zM1119.8 4204.9l6.75 11.691h-13.5zM1121.7 4218.2l6.75 11.691h-13.5zM1123.6 4195.1l6.75 11.691h-13.5zM1125.5 4182.7l6.75 11.691h-13.5zM1127.4 4203.5l6.75 11.691h-13.5zM1129.4 4219.8l6.75 11.691h-13.5zM1131.3 4231.3l6.75 11.691h-13.5zM1133.2 4181.0l6.75 11.691h-13.5zM1135.1 4203.4l6.75 11.691h-13.5zM1137.1 4226.7l6.75 11.691h-13.5zM1139.0 4194.4l6.75 11.691h-13.5zM1140.9 4233.7l6.75 11.691h-13.5zM1142.8 4216.1l6.75 11.691h-13.5zM1144.8 4213.2l6.75 11.691h-13.5zM1146.7 4214.9l6.75 11.691h-13.5zM1148.6 4226.2l6.75 11.691h-13.5zM1150.5 4175.2l6.75 11.691h-13.5zM1152.4 4215.5l6.75 11.691h-13.5zM1154.4 4204.2l6.75 11.691h-13.5zM1156.3 4209.2l6.75 11.691h-13.5zM1158.2 4232.8l6.75 11.691h-13.5zM1160.1 4217.6l6.75 11.691h-13.5zM1162.1 4206.6l6.75 11.691h-13.5zM1164.0 4196.1l6.75 11.691h-13.5zM1165.9 4214.6l6.75 11.691h-13.5zM1167.8 4204.3l6.75 11.691h-13.5zM1169.7 4214.5l6.75 11.691h-13.5zM1171.7 4201.0l6.75 11.691h-13.5zM1173.6 4245.6l6.75 11.691h-13.5zM1175.5 4200.8l6.75 11.691h-13.5zM1177.4 4218.6l6.75 11.691h-13.5zM1179.4 4218.0l6.75 11.691h-13.5zM1181.3 4251.1l6.75 11.691h-13.5zM1183.2 4225.1l6.75 11.691h-13.5zM1185.1 4200.5l6.75 11.691h-13.5zM1187.0 4175.6l6.75 11.691h-13.5zM1189.0 4219.8l6.75 11.691h-13.5zM1190.9 4219.2l6.75 11.691h-13.5zM1192.8 4202.3l6.75 11.691h-13.5zM1194.7 4205.2l6.75 11.691h-13.5zM1196.7 4218.1l6.75 11.691h-13.5zM1198.6 4211.9l6.75 11.691h-13.5zM1200.5 4215.0l6.75 11.691h-13.5zM1202.4 4200.3l6.75 11.691h-13.5zM1204.4 4197.7l6.75 11.691h-13.5zM1206.3 4183.4l6.75 11.691h-13.5zM1208.2 4195.8l6.75 11.691h-13.5zM1210.1 4199.5l6.75 11.691h-13.5zM1212.0 4207.0l6.75 11.691h-13.5zM1214.0 4195.4l6.75 11.691h-13.5zM1215.9 4223.9l6.75 11.691h-13.5zM1217.8 4177.3l6.75 11.691h-13.5zM1219.7 4205.1l6.75 11.691h-13.5zM1221.7 4188.3l6.75 11.691h-13.5zM1223.6 4221.0l6.75 11.691h-13.5zM1225.5 4193.9l6.75 11.691h-13.5zM1227.4 4203.2l6.75 11.691h-13.5zM1229.3 4212.0l6.75 11.691h-13.5zM1231.3 4219.1l6.75 11.691h-13.5zM1233.2 4222.3l6.75 11.691h-13.5zM1235.1 4182.3l6.75 11.691h-13.5zM1237.0 4190.9l6.75 11.691h-13.5zM1239.0 4207.4l6.75 11.691h-13.5zM1240.9 4206.2l6.75 11.691h-13.5zM1242.8 4220.0l6.75 11.691h-13.5zM1244.7 4236.6l6.75 11.691h-13.5zM1246.7 4235.9l6.75 11.691h-13.5zM1248.6 4218.2l6.75 11.691h-13.5zM1250.5 4211.4l6.75 11.691h-13.5zM1252.4 4226.7l6.75 11.691h-13.5zM1254.3 4197.1l6.75 11.691h-13.5zM1256.3 4201.3l6.75 11.691h-13.5zM1258.2 4206.6l6.75 11.691h-13.5zM1260.1 4235.6l6.75 11.691h-13.5zM1262.0 4212.3l6.75 11.691h-13.5zM1264.0 4209.5l6.75 11.691h-13.5zM1265.9 4228.1l6.75 11.691h-13.5zM1267.8 4242.1l6.75 11.691h-13.5zM1269.7 4180.0l6.75 11.691h-13.5zM1271.6 4199.6l6.75 11.691h-13.5zM1273.6 4214.8l6.75 11.691h-13.5zM1275.5 4184.7l6.75 11.691h-13.5zM1277.4 4192.1l6.75 11.691h-13.5zM1279.3 4202.2l6.75 11.691h-13.5zM1281.3 4205.5l6.75 11.691h-13.5zM1283.2 4197.1l6.75 11.691h-13.5zM1285.1 4186.7l6.75 11.691h-13.5zM1287.0 4207.9l6.75 11.691h-13.5zM1288.9 4212.5l6.75 11.691h-13.5zM1290.9 4200.0l6.75 11.691h-13.5zM1292.8 4252.0l6.75 11.691h-13.5zM1294.7 4207.6l6.75 11.691h-13.5zM1296.6 4215.1l6.75 11.691h-13.5zM1298.6 4209.2l6.75 11.691h-13.5zM1300.5 4211.7l6.75 11.691h-13.5zM1302.4 4203.7l6.75 11.691h-13.5zM1304.3 4207.3l6.75 11.691h-13.5zM1306.3 4207.8l6.75 11.691h-13.5zM1308.2 4210.9l6.75 11.691h-13.5zM1310.1 4201.9l6.75 11.691h-13.5zM1312.0 4216.7l6.75 11.691h-13.5zM1313.9 4193.7l6.75 11.691h-13.5zM1315.9 4234.7l6.75 11.691h-13.5zM1317.8 4205.7l6.75 11.691h-13.5zM1319.7 4201.8l6.75 11.691h-13.5zM1321.6 4228.4l6.75 11.691h-13.5zM1323.6 4215.4l6.75 11.691h-13.5zM1325.5 4188.3l6.75 11.691h-13.5zM1327.4 4210.8l6.75 11.691h-13.5zM1329.3 4222.4l6.75 11.691h-13.5zM1331.2 4254.9l6.75 11.691h-13.5zM1333.2 4203.5l6.75 11.691h-13.5zM1335.1 4207.2l6.75 11.691h-13.5zM1337.0 4199.3l6.75 11.691h-13.5zM1338.9 4176.9l6.75 11.691h-13.5zM1340.9 4208.8l6.75 11.691h-13.5zM1342.8 4206.6l6.75 11.691h-13.5zM1344.7 4219.4l6.75 11.691h-13.5zM1346.6 4209.7l6.75 11.691h-13.5zM1348.5 4209.2l6.75 11.691h-13.5zM1350.5 4196.9l6.75 11.691h-13.5zM1352.4 4200.1l6.75 11.691h-13.5zM1354.3 4220.6l6.75 11.691h-13.5zM1356.2 4216.1l6.75 11.691h-13.5zM1358.2 4187.1l6.75 11.691h-13.5zM1360.1 4223.7l6.75 11.691h-13.5zM1362.0 4197.0l6.75 11.691h-13.5zM1363.9 4183.2l6.75 11.691h-13.5zM1365.9 4198.4l6.75 11.691h-13.5zM1367.8 4204.7l6.75 11.691h-13.5zM1369.7 4187.2l6.75 11.691h-13.5zM1371.6 4203.1l6.75 11.691h-13.5zM1373.5 4208.7l6.75 11.691h-13.5zM1375.5 4211.8l6.75 11.691h-13.5zM1377.4 4190.6l6.75 11.691h-13.5zM1379.3 4197.7l6.75 11.691h-13.5zM1381.2 4184.3l6.75 11.691h-13.5zM1383.2 4213.9l6.75 11.691h-13.5zM1385.1 4213.5l6.75 11.691h-13.5zM1387.0 4215.4l6.75 11.691h-13.5zM1388.9 4204.1l6.75 11.691h-13.5zM1390.8 4219.5l6.75 11.691h-13.5zM1392.8 4193.9l6.75 11.691h-13.5zM1394.7 4203.2l6.75 11.691h-13.5zM1396.6 4224.0l6.75 11.691h-13.5zM1398.5 4255.4l6.75 11.691h-13.5zM1400.5 4237.4l6.75 11.691h-13.5zM1402.4 4185.7l6.75 11.691h-13.5zM1404.3 4209.5l6.75 11.691h-13.5zM1406.2 4206.2l6.75 11.691h-13.5zM1408.2 4215.2l6.75 11.691h-13.5zM1410.1 4202.2l6.75 11.691h-13.5zM1412.0 4239.0l6.75 11.691h-13.5zM1413.9 4240.3l6.75 11.691h-13.5zM1415.8 4234.5l6.75 11.691h-13.5zM1417.8 4207.4l6.75 11.691h-13.5zM1419.7 4197.3l6.75 11.691h-13.5zM1421.6 4200.9l6.75 11.691h-13.5zM1423.5 4210.5l6.75 11.691h-13.5zM1425.5 4228.9l6.75 11.691h-13.5zM1427.4 4195.7l6.75 11.691h-13.5zM1429.3 4212.9l6.75 11.691h-13.5zM1431.2 4208.8l6.75 11.691h-13.5zM1433.1 4209.6l6.75 11.691h-13.5zM1435.1 4215.9l6.75 11.691h-13.5zM1437.0 4220.0l6.75 11.691h-13.5zM1438.9 4217.9l6.75 11.691h-13.5zM1440.8 4229.1l6.75 11.691h-13.5zM1442.8 4204.4l6.75 11.691h-13.5zM1444.7 4211.2l6.75 11.691h-13.5zM1446.6 4192.1l6.75 11.691h-13.5zM1448.5 4237.5l6.75 11.691h-13.5zM1450.4 4189.5l6.75 11.691h-13.5zM1452.4 4209.5l6.75 11.691h-13.5zM1454.3 4211.0l6.75 11.691h-13.5zM1456.2 4221.3l6.75 11.691h-13.5zM1458.1 4221.5l6.75 11.691h-13.5zM1460.1 4232.4l6.75 11.691h-13.5zM1462.0 4193.8l6.75 11.691h-13.5zM1463.9 4211.8l6.75 11.691h-13.5zM1465.8 4196.7l6.75 11.691h-13.5zM1467.8 4194.9l6.75 11.691h-13.5zM1469.7 4216.4l6.75 11.691h-13.5zM1471.6 4212.1l6.75 11.691h-13.5zM1473.5 4213.9l6.75 11.691h-13.5zM1475.4 4191.7l6.75 11.691h-13.5zM1477.4 4206.1l6.75 11.691h-13.5zM1479.3 4205.5l6.75 11.691h-13.5zM1481.2 4196.6l6.75 11.691h-13.5zM1483.1 4209.5l6.75 11.691h-13.5zM1485.1 4175.0l6.75 11.691h-13.5zM1487.0 4223.3l6.75 11.691h-13.5zM1488.9 4187.8l6.75 11.691h-13.5zM1490.8 4185.3l6.75 11.691h-13.5zM1492.7 4226.8l6.75 11.691h-13.5zM1494.7 4194.1l6.75 11.691h-13.5zM1496.6 4203.6l6.75 11.691h-13.5zM1498.5 4193.9l6.75 11.691h-13.5zM1500.4 4227.7l6.75 11.691h-13.5zM1502.4 4204.1l6.75 11.691h-13.5zM1504.3 4224.1l6.75 11.691h-13.5zM1506.2 4213.5l6.75 11.691h-13.5zM1508.1 4184.9l6.75 11.691h-13.5zM1510.0 4210.3l6.75 11.691h-13.5zM1512.0 4244.8l6.75 11.691h-13.5zM1513.9 4230.9l6.75 11.691h-13.5zM1515.8 4226.7l6.75 11.691h-13.5zM1517.7 4191.5l6.75 11.691h-13.5zM1519.7 4219.4l6.75 11.691h-13.5zM1521.6 4233.4l6.75 11.691h-13.5zM1523.5 4189.8l6.75 11.691h-13.5zM1525.4 4203.9l6.75 11.691h-13.5zM1527.4 4202.4l6.75 11.691h-13.5zM1529.3 4221.0l6.75 11.691h-13.5zM1531.2 4184.7l6.75 11.691h-13.5zM1533.1 4210.0l6.75 11.691h-13.5zM1535.0 4240.2l6.75 11.691h-13.5zM1537.0 4226.5l6.75 11.691h-13.5zM1538.9 4221.7l6.75 11.691h-13.5zM1540.8 4210.6l6.75 11.691h-13.5zM1542.7 4195.5l6.75 11.691h-13.5zM1544.7 4219.8l6.75 11.691h-13.5zM1546.6 4217.7l6.75 11.691h-13.5zM1548.5 4171.9l6.75 11.691h-13.5zM1550.4 4206.6l6.75 11.691h-13.5zM1552.3 4216.5l6.75 11.691h-13.5zM1554.3 4207.4l6.75 11.691h-13.5zM1556.2 4228.3l6.75 11.691h-13.5zM1558.1 4199.1l6.75 11.691h-13.5zM1560.0 4192.1l6.75 11.691h-13.5zM1562.0 4217.4l6.75 11.691h-13.5zM1563.9 4191.5l6.75 11.691h-13.5zM1565.8 4212.6l6.75 11.691h-13.5zM1567.7 4203.1l6.75 11.691h-13.5zM1569.7 4219.9l6.75 11.691h-13.5zM1571.6 4220.9l6.75 11.691h-13.5zM1573.5 4232.3l6.75 11.691h-13.5zM1575.4 4204.2l6.75 11.691h-13.5zM1577.3 4212.4l6.75 11.691h-13.5zM1579.3 4211.9l6.75 11.691h-13.5zM1581.2 4226.2l6.75 11.691h-13.5zM1583.1 4226.8l6.75 11.691h-13.5zM1585.0 4218.1l6.75 11.691h-13.5zM1587.0 4200.1l6.75 11.691h-13.5zM1588.9 4202.8l6.75 11.691h-13.5zM1590.8 4218.9l6.75 11.691h-13.5zM1592.7 4202.9l6.75 11.691h-13.5zM1594.6 4179.0l6.75 11.691h-13.5zM1596.6 4206.0l6.75 11.691h-13.5zM1598.5 4174.7l6.75 11.691h-13.5zM1600.4 4200.6l6.75 11.691h-13.5zM1602.3 4186.0l6.75 11.691h-13.5zM1604.3 4216.3l6.75 11.691h-13.5zM1606.2 4188.5l6.75 11.691h-13.5zM1608.1 4227.0l6.75 11.691h-13.5zM1610.0 4203.7l6.75 11.691h-13.5zM1611.9 4213.1l6.75 11.691h-13.5zM1613.9 4240.2l6.75 11.691h-13.5zM1615.8 4229.9l6.75 11.691h-13.5zM1617.7 4189.2l6.75 11.691h-13.5zM1619.6 4199.6l6.75 11.691h-13.5zM1621.6 4186.5l6.75 11.691h-13.5zM1623.5 4204.4l6.75 11.691h-13.5zM1625.4 4255.0l6.75 11.691h-13.5zM1627.3 4203.5l6.75 11.691h-13.5zM1629.3 4216.9l6.75 11.691h-13.5zM1631.2 4215.8l6.75 11.691h-13.5zM1633.1 4214.9l6.75 11.691h-13.5zM1635.0 4220.1l6.75 11.691h-13.5zM1636.9 4223.2l6.75 11.691h-13.5zM1638.9 4187.3l6.75 11.691h-13.5zM1640.8 4200.3l6.75 11.691h-13.5zM1642.7 4218.2l6.75 11.691h-13.5zM1644.6 4214.5l6.75 11.691h-13.5zM1646.6 4191.7l6.75 11.691h-13.5zM1648.5 4201.3l6.75 11.691h-13.5zM1650.4 4204.4l6.75 11.691h-13.5zM1652.3 4227.6l6.75 11.691h-13.5zM1654.2 4214.6l6.75 11.691h-13.5zM1656.2 4226.1l6.75 11.691h-13.5zM1658.1 4238.8l6.75 11.691h-13.5zM1660.0 4192.9l6.75 11.691h-13.5zM1661.9 4212.9l6.75 11.691h-13.5zM1663.9 4214.3l6.75 11.691h-13.5zM1665.8 4223.2l6.75 11.691h-13.5zM1667.7 4195.2l6.75 11.691h-13.5zM1669.6 4173.4l6.75 11.691h-13.5zM1671.5 4198.0l6.75 11.691h-13.5zM1673.5 4192.3l6.75 11.691h-13.5zM1675.4 4227.8l6.75 11.691h-13.5zM1677.3 4204.6l6.75 11.691h-13.5zM1679.2 4203.9l6.75 11.691h-13.5zM1681.2 4183.2l6.75 11.691h-13.5zM1683.1 4207.3l6.75 11.691h-13.5zM1685.0 4222.9l6.75 11.691h-13.5zM1686.9 4208.5l6.75 11.691h-13.5zM1688.9 4214.5l6.75 11.691h-13.5zM1690.8 4183.8l6.75 11.691h-13.5zM1692.7 4196.6l6.75 11.691h-13.5zM1694.6 4201.9l6.75 11.691h-13.5zM1696.5 4204.5l6.75 11.691h-13.5zM1698.5 4193.7l6.75 11.691h-13.5zM1700.4 4215.4l6.75 11.691h-13.5zM1702.3 4222.4l6.75 11.691h-13.5zM1704.2 4238.1l6.75 11.691h-13.5zM1706.2 4188.0l6.75 11.691h-13.5zM1708.1 4199.1l6.75 11.691h-13.5zM1710.0 4196.9l6.75 11.691h-13.5zM1711.9 4206.7l6.75 11.691h-13.5zM1713.8 4180.3l6.75 11.691h-13.5zM1715.8 4223.4l6.75 11.691h-13.5zM1717.7 4187.8l6.75 11.691h-13.5zM1719.6 4221.2l6.75 11.691h-13.5zM1721.5 4214.8l6.75 11.691h-13.5zM1723.5 4227.3l6.75 11.691h-13.5zM1725.4 4205.9l6.75 11.691h-13.5zM1727.3 4212.1l6.75 11.691h-13.5zM1729.2 4200.4l6.75 11.691h-13.5zM1731.1 4217.0l6.75 11.691h-13.5zM1733.1 4230.1l6.75 11.691h-13.5zM1735.0 4198.1l6.75 11.691h-13.5zM1736.9 4186.4l6.75 11.691h-13.5zM1738.8 4195.4l6.75 11.691h-13.5zM1740.8 4208.3l6.75 11.691h-13.5zM1742.7 4200.8l6.75 11.691h-13.5zM1744.6 4235.1l6.75 11.691h-13.5zM1746.5 4212.9l6.75 11.691h-13.5zM1748.5 4188.5l6.75 11.691h-13.5zM1750.4 4199.9l6.75 11.691h-13.5zM1752.3 4221.3l6.75 11.691h-13.5zM1754.2 4193.4l6.75 11.691h-13.5zM1756.1 4209.5l6.75 11.691h-13.5zM1758.1 4195.5l6.75 11.691h-13.5zM1760.0 4230.4l6.75 11.691h-13.5zM1761.9 4216.0l6.75 11.691h-13.5zM1763.8 4202.1l6.75 11.691h-13.5zM1765.8 4202.4l6.75 11.691h-13.5zM1767.7 4198.3l6.75 11.691h-13.5zM1769.6 4207.5l6.75 11.691h-13.5zM1771.5 4210.6l6.75 11.691h-13.5zM1773.4 4199.6l6.75 11.691h-13.5zM1775.4 4193.2l6.75 11.691h-13.5zM1777.3 4232.0l6.75 11.691h-13.5zM1779.2 4212.5l6.75 11.691h-13.5zM1781.1 4210.6l6.75 11.691h-13.5zM1783.1 4204.7l6.75 11.691h-13.5zM1785.0 4190.7l6.75 11.691h-13.5zM1786.9 4228.9l6.75 11.691h-13.5zM1788.8 4198.5l6.75 11.691h-13.5zM1790.8 4235.4l6.75 11.691h-13.5zM1792.7 4219.5l6.75 11.691h-13.5zM1794.6 4215.7l6.75 11.691h-13.5zM1796.5 4211.6l6.75 11.691h-13.5zM1798.4 4217.2l6.75 11.691h-13.5zM1800.4 4215.5l6.75 11.691h-13.5zM1802.3 4212.7l6.75 11.691h-13.5zM1804.2 4211.6l6.75 11.691h-13.5zM1806.1 4237.2l6.75 11.691h-13.5zM1808.1 4229.9l6.75 11.691h-13.5zM1810.0 4214.2l6.75 11.691h-13.5zM1811.9 4198.5l6.75 11.691h-13.5zM1813.8 4190.8l6.75 11.691h-13.5zM1815.7 4160.7l6.75 11.691h-13.5zM1817.7 4205.3l6.75 11.691h-13.5zM1819.6 4219.9l6.75 11.691h-13.5zM1821.5 4204.2l6.75 11.691h-13.5zM1823.4 4196.0l6.75 11.691h-13.5zM1825.4 4204.8l6.75 11.691h-13.5zM1827.3 4224.3l6.75 11.691h-13.5zM1829.2 4208.7l6.75 11.691h-13.5zM1831.1 4207.7l6.75 11.691h-13.5zM1833.0 4229.9l6.75 11.691h-13.5zM1835.0 4226.6l6.75 11.691h-13.5zM1836.9 4187.5l6.75 11.691h-13.5zM1838.8 4243.2l6.75 11.691h-13.5zM1840.7 4204.2l6.75 11.691h-13.5zM1842.7 4211.2l6.75 11.691h-13.5zM1844.6 4184.4l6.75 11.691h-13.5zM1846.5 4197.0l6.75 11.691h-13.5zM1848.4 4221.0l6.75 11.691h-13.5zM1850.4 4186.5l6.75 11.691h-13.5zM1852.3 4216.0l6.75 11.691h-13.5zM1854.2 4174.6l6.75 11.691h-13.5zM1856.1 4180.0l6.75 11.691h-13.5zM1858.0 4208.2l6.75 11.691h-13.5zM1860.0 4194.3l6.75 11.691h-13.5zM1861.9 4203.8l6.75 11.691h-13.5zM1863.8 4221.5l6.75 11.691h-13.5zM1865.7 4189.5l6.75 11.691h-13.5zM1867.7 4199.9l6.75 11.691h-13.5zM1869.6 4193.0l6.75 11.691h-13.5zM1871.5 4189.4l6.75 11.691h-13.5zM1873.4 4183.8l6.75 11.691h-13.5zM1875.3 4189.9l6.75 11.691h-13.5zM1877.3 4208.1l6.75 11.691h-13.5zM1879.2 4205.2l6.75 11.691h-13.5zM1881.1 4199.9l6.75 11.691h-13.5zM1883.0 4208.5l6.75 11.691h-13.5zM1885.0 4210.4l6.75 11.691h-13.5zM1886.9 4176.4l6.75 11.691h-13.5zM1888.8 4198.6l6.75 11.691h-13.5zM1890.7 4175.8l6.75 11.691h-13.5zM1892.6 4218.9l6.75 11.691h-13.5zM1894.6 4207.1l6.75 11.691h-13.5z"/>
<path fill="none" stroke="#000a80" stroke-width="8.5" stroke-linejoin="round" stroke-linecap="butt" d="M315.3 4221.2 317.1 4225.9 318.5 4228.5 320.8 4231.8 322.6 4233.5 326.0 4235.5 330.2 4237.3 333.6 4238.1 337.1 4238.3 344.1 4238.1 351.6 4237.6 374.0 4235.5 383.4 4234.2 405.6 4230.6 428.9 4227.4 444.8 4225.7 467.7 4223.8 492.2 4222.5 546.6 4220.2 578.1 4219.3 622.6 4218.4 722.6 4217.2 894.1 4216.1 1376.1 4214.4 1898.6 4212.2"/>
</g>
<g stroke="#000" stroke-width="5.5" stroke-linecap="butt">
<line x1="306.5" y1="3046.8" x2="306.5" y2="4335.8"/>
<line x1="303.8" y1="4333.0" x2="1901.8" y2="4333.0"/>
<line x1="281.2" y1="4215.4" x2="306.5" y2="4215.4"/>
<line x1="281.2" y1="3923.9" x2="306.5" y2="3923.9"/>
<line x1="281.2" y1="3632.4" x2="306.5" y2="3632.4"/>
<line x1="281.2" y1="3341.0" x2="306.5" y2="3341.0"/>
<line x1="281.2" y1="3049.5" x2="306.5" y2="3049.5"/>
<line x1="293.8" y1="4069.7" x2="306.5" y2="4069.7"/>
<line x1="293.8" y1="3778.2" x2="306.5" y2="3778.2"/>
<line x1="293.8" y1="3486.7" x2="306.5" y2="3486.7"/>
<line x1="293.8" y1="3195.2" x2="306.5" y2="3195.2"/>
<line x1="316.5" y1="4333.0" x2="316.5" y2="4358.2"/>
<line x1="712.1" y1="4333.0" x2="712.1" y2="4358.2"/>
<line x1="1107.7" y1="4333.0" x2="1107.7" y2="4358.2"/>
<line x1="1503.3" y1="4333.0" x2="1503.3" y2="4358.2"/>
<line x1="1898.9" y1="4333.0" x2="1898.9" y2="4358.2"/>
<line x1="514.3" y1="4333.0" x2="514.3" y2="4346.2"/>
<line x1="909.9" y1="4333.0" x2="909.9" y2="4346.2"/>
<line x1="1305.5" y1="4333.0" x2="1305.5" y2="4346.2"/>
<line x1="1701.1" y1="4333.0" x2="1701.1" y2="4346.2"/>
</g>
<text x="263.0" y="4233.4" text-anchor="end" class="tk">0.0</text>
<text x="263.0" y="3941.9" text-anchor="end" class="tk">0.1</text>
<text x="263.0" y="3650.4" text-anchor="end" class="tk">0.2</text>
<text x="263.0" y="3359.0" text-anchor="end" class="tk">0.3</text>
<text x="263.0" y="3067.5" text-anchor="end" class="tk">0.4</text>
<text x="316.5" y="4421.4" text-anchor="middle" class="tk">0</text>
<text x="712.1" y="4421.4" text-anchor="middle" class="tk">2</text>
<text x="1107.7" y="4421.4" text-anchor="middle" class="tk">4</text>
<text x="1503.3" y="4421.4" text-anchor="middle" class="tk">6</text>
<text x="1898.9" y="4421.4" text-anchor="middle" class="tk">8</text>
<text x="33.8" y="115.0" style="font-family:'Liberation Serif','Times New Roman',serif;font-size:115px" fill="#000">a)</text>
<text x="32.9" y="1625.2" style="font-family:'Liberation Serif','Times New Roman',serif;font-size:115px" fill="#000">b)</text>
<text x="32.6" y="3092.0" style="font-family:'Liberation Serif','Times New Roman',serif;font-size:115px" fill="#000">c)</text>
<text x="976.9" y="1543.7" style="font-family:'Liberation Serif','Times New Roman',serif;font-size:71.5px" fill="#000">Time, ns</text>
<text x="987.7" y="3053.7" style="font-family:'Liberation Serif','Times New Roman',serif;font-size:65.6px" fill="#000">Time, ns</text>
<text x="975.4" y="4535.0" style="font-family:'Liberation Serif','Times New Roman',serif;font-size:72.8px" fill="#000">Time, ns</text>
<text transform="translate(163.8,889.5) rotate(-90)" style="font-family:'Liberation Serif','Times New Roman',serif;font-size:72px">Intensity, a.u..</text>
<text transform="translate(163.8,2419.5) rotate(-90)" style="font-family:'Liberation Serif','Times New Roman',serif;font-size:72px">Intensity, a.u.</text>
<text transform="translate(158.3,3874.5) rotate(-90)" style="font-family:'Liberation Serif','Times New Roman',serif;font-size:76px">Anisotropy, r</text>
<text x="888.9" y="139.4" style="font-family:'Liberation Serif','Times New Roman',serif;font-size:92.4px" fill="#0000ff">OPE: 405 nm</text>
<text x="895.3" y="1662.9" style="font-family:'Liberation Serif','Times New Roman',serif;font-size:91.8px" fill="#ff0000">TPE: 810 nm</text>
<text x="462.1" y="3955.4" style="font-family:'Liberation Sans',Arial,sans-serif;font-size:67px" fill="#ff0000">810 nm</text>
<text x="473.0" y="4307.4" style="font-family:'Liberation Sans',Arial,sans-serif;font-size:67px" fill="#5f73f6">405 nm</text>
<text x="515.7" y="175.8" style="font-family:'Liberation Serif','Times New Roman',serif;font-size:92.4px" fill="#000">I</text>
<text x="549.1" y="189.8" style="font-family:'DejaVu Sans',sans-serif;font-weight:200;font-size:47px" fill="#000">&#8869;</text>
<text x="401.7" y="457.9" style="font-family:'Liberation Serif','Times New Roman',serif;font-size:92.4px" fill="#000">I</text>
<text x="437.4" y="461.5" style="font-family:'DejaVu Sans',sans-serif;font-weight:200;font-size:52px;letter-spacing:2.6px" fill="#000">||</text>
<text x="470.9" y="1678.7" style="font-family:'Liberation Serif','Times New Roman',serif;font-size:92.4px" fill="#000">I</text>
<text x="506.6" y="1682.3" style="font-family:'DejaVu Sans',sans-serif;font-weight:200;font-size:52px;letter-spacing:2.6px" fill="#000">||</text>
<text x="464.8" y="2269.8" style="font-family:'Liberation Serif','Times New Roman',serif;font-size:92.4px" fill="#000">I</text>
<text x="498.2" y="2284.8" style="font-family:'DejaVu Sans',sans-serif;font-weight:200;font-size:47px" fill="#000">&#8869;</text>
<polygon fill="#6aa616" points="532.7,186.5 514.2,241.2 505.1,236.0 508.3,273.5 533.6,245.6 523.2,244.2 541.7,189.5"/>
<polygon fill="#ee8128" points="443.7,396.9 462.1,342.3 471.2,347.5 468.0,310.0 442.8,337.9 453.1,339.3 434.7,393.9"/>
<polygon fill="#ee8128" points="499.8,1692.8 479.9,1745.4 471.0,1739.9 472.8,1777.5 499.0,1750.5 488.7,1748.8 508.6,1696.2"/>
<polygon fill="#6aa616" points="513.2,2212.5 531.0,2160.3 540.1,2165.5 537.0,2128.0 511.7,2155.8 522.0,2157.2 504.2,2209.5"/>
</svg></body></html>
